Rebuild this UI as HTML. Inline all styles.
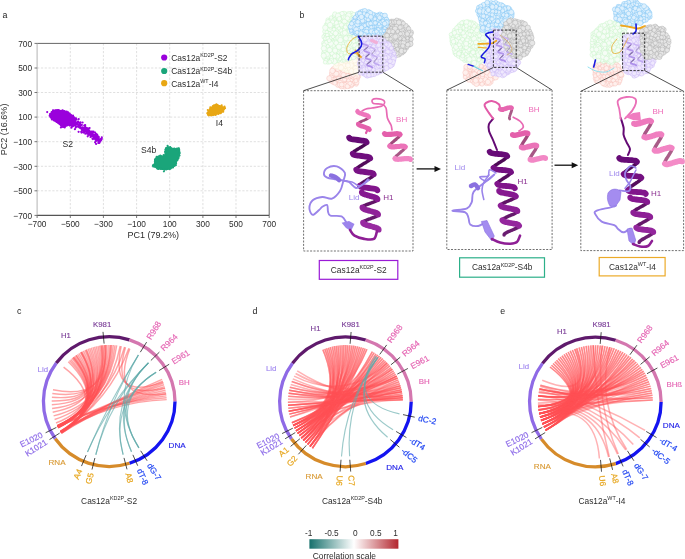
<!DOCTYPE html>
<html><head><meta charset="utf-8"><style>
html,body{margin:0;padding:0;background:#fff;}
svg{display:block;filter:blur(0.4px);}
text{font-family:"Liberation Sans",sans-serif;}
.g{stroke:#d2d2d2;stroke-width:0.7;stroke-dasharray:2.2 1.6;}
.r{stroke:#ff5055;stroke-opacity:0.52;stroke-width:1.45;fill:none;}
.r2{stroke:#ff5055;stroke-opacity:0.44;stroke-width:1.55;fill:none;}
.t{stroke:#5fa9a9;stroke-opacity:0.62;stroke-width:1.15;fill:none;}
</style></head><body>
<svg width="685" height="559" viewBox="0 0 685 559" fill="#2c2c2c">
<text x="2.4" y="17.5" font-size="8.8" fill="#222">a</text>
<line x1="70.3" y1="43.4" x2="70.3" y2="215.4" class="g"/>
<line x1="37.1" y1="190.8" x2="269.2" y2="190.8" class="g"/>
<line x1="103.4" y1="43.4" x2="103.4" y2="215.4" class="g"/>
<line x1="37.1" y1="166.3" x2="269.2" y2="166.3" class="g"/>
<line x1="136.6" y1="43.4" x2="136.6" y2="215.4" class="g"/>
<line x1="37.1" y1="141.7" x2="269.2" y2="141.7" class="g"/>
<line x1="169.7" y1="43.4" x2="169.7" y2="215.4" class="g"/>
<line x1="37.1" y1="117.1" x2="269.2" y2="117.1" class="g"/>
<line x1="202.9" y1="43.4" x2="202.9" y2="215.4" class="g"/>
<line x1="37.1" y1="92.5" x2="269.2" y2="92.5" class="g"/>
<line x1="236" y1="43.4" x2="236" y2="215.4" class="g"/>
<line x1="37.1" y1="68" x2="269.2" y2="68" class="g"/>
<path d="M37.1 43.4H269.2V215.4" stroke="#666" stroke-width="1" fill="none"/>
<line x1="37.1" y1="215.4" x2="269.2" y2="215.4" stroke="#555" stroke-width="1.1"/>
<line x1="37.1" y1="43.4" x2="37.1" y2="215.4" stroke="#aaa" stroke-width="0.9"/>
<line x1="37.1" y1="215.4" x2="37.1" y2="218" stroke="#555" stroke-width="0.8"/>
<line x1="34.5" y1="215.4" x2="37.1" y2="215.4" stroke="#555" stroke-width="0.8"/>
<text transform="translate(37.1,226.9) scale(0.925,1)" font-size="9" text-anchor="middle">−700</text>
<text transform="translate(32.1,218.7) scale(0.925,1)" font-size="9" text-anchor="end">−700</text>
<line x1="70.3" y1="215.4" x2="70.3" y2="218" stroke="#555" stroke-width="0.8"/>
<line x1="34.5" y1="190.8" x2="37.1" y2="190.8" stroke="#555" stroke-width="0.8"/>
<text transform="translate(70.3,226.9) scale(0.925,1)" font-size="9" text-anchor="middle">−500</text>
<text transform="translate(32.1,194.1) scale(0.925,1)" font-size="9" text-anchor="end">−500</text>
<line x1="103.4" y1="215.4" x2="103.4" y2="218" stroke="#555" stroke-width="0.8"/>
<line x1="34.5" y1="166.3" x2="37.1" y2="166.3" stroke="#555" stroke-width="0.8"/>
<text transform="translate(103.4,226.9) scale(0.925,1)" font-size="9" text-anchor="middle">−300</text>
<text transform="translate(32.1,169.6) scale(0.925,1)" font-size="9" text-anchor="end">−300</text>
<line x1="136.6" y1="215.4" x2="136.6" y2="218" stroke="#555" stroke-width="0.8"/>
<line x1="34.5" y1="141.7" x2="37.1" y2="141.7" stroke="#555" stroke-width="0.8"/>
<text transform="translate(136.6,226.9) scale(0.925,1)" font-size="9" text-anchor="middle">−100</text>
<text transform="translate(32.1,145) scale(0.925,1)" font-size="9" text-anchor="end">−100</text>
<line x1="169.7" y1="215.4" x2="169.7" y2="218" stroke="#555" stroke-width="0.8"/>
<line x1="34.5" y1="117.1" x2="37.1" y2="117.1" stroke="#555" stroke-width="0.8"/>
<text transform="translate(169.7,226.9) scale(0.925,1)" font-size="9" text-anchor="middle">100</text>
<text transform="translate(32.1,120.4) scale(0.925,1)" font-size="9" text-anchor="end">100</text>
<line x1="202.9" y1="215.4" x2="202.9" y2="218" stroke="#555" stroke-width="0.8"/>
<line x1="34.5" y1="92.5" x2="37.1" y2="92.5" stroke="#555" stroke-width="0.8"/>
<text transform="translate(202.9,226.9) scale(0.925,1)" font-size="9" text-anchor="middle">300</text>
<text transform="translate(32.1,95.8) scale(0.925,1)" font-size="9" text-anchor="end">300</text>
<line x1="236" y1="215.4" x2="236" y2="218" stroke="#555" stroke-width="0.8"/>
<line x1="34.5" y1="68" x2="37.1" y2="68" stroke="#555" stroke-width="0.8"/>
<text transform="translate(236,226.9) scale(0.925,1)" font-size="9" text-anchor="middle">500</text>
<text transform="translate(32.1,71.3) scale(0.925,1)" font-size="9" text-anchor="end">500</text>
<line x1="269.2" y1="215.4" x2="269.2" y2="218" stroke="#555" stroke-width="0.8"/>
<line x1="34.5" y1="43.4" x2="37.1" y2="43.4" stroke="#555" stroke-width="0.8"/>
<text transform="translate(269.2,226.9) scale(0.925,1)" font-size="9" text-anchor="middle">700</text>
<text transform="translate(32.1,46.7) scale(0.925,1)" font-size="9" text-anchor="end">700</text>
<text transform="translate(153.2,238) scale(0.94,1)" font-size="9.6" text-anchor="middle">PC1 (79.2%)</text>
<text transform="translate(6.8,129.4) rotate(-90) scale(0.94,1)" font-size="9.6" text-anchor="middle">PC2 (16.6%)</text>
<circle cx="164.2" cy="57.5" r="3.1" fill="#9a00dc"/>
<text transform="translate(171.3,60.6) scale(0.915,1)" font-size="9.2">Cas12a<tspan font-size="5.9" dy="-3.6">KD2P</tspan><tspan dy="3.6">-S2</tspan></text>
<circle cx="164.2" cy="71.0" r="3.1" fill="#1aa57a"/>
<text transform="translate(171.3,74.2) scale(0.915,1)" font-size="9.2">Cas12a<tspan font-size="5.9" dy="-3.6">KD2P</tspan><tspan dy="3.6">-S4b</tspan></text>
<circle cx="164.2" cy="83.2" r="3.1" fill="#e8a714"/>
<text transform="translate(171.3,86.6) scale(0.915,1)" font-size="9.2">Cas12a<tspan font-size="5.9" dy="-3.6">WT</tspan><tspan dy="3.6">-I4</tspan></text>
<path d="M50.2 113.8L53.3 110.4L58.4 110L66.6 111.8L70.7 114.3L73.7 117.2L75.3 118.9L74.2 124L71.7 126.1L69.6 125L66.1 125.8L64.5 127.4L61.5 127.2L60.4 124.7L56.3 122L52.3 119.6L50.2 117.4Z" fill="#9a00dc" stroke="#9a00dc" stroke-width="1.2" stroke-linejoin="round"/>
<path d="M50.1 114h0M51.7 112h0M53 110.3h0M55.4 110.4h0M57.1 110.2h0M58.5 110.1h0M59.4 110.7h0M61.8 110.9h0M62.7 110.4h0M64.6 111.2h0M66.7 111.7h0M68.1 112.4h0M69.4 113.6h0M70.4 114.9h0M72.4 116.2h0M73.5 116.9h0M75.1 118.9h0M75.1 120.7h0M74.4 122h0M74.1 124.4h0M72.7 125.1h0M71.8 125.5h0M69.7 125.5h0M67.1 125.3h0M66 125.5h0M64.7 127.4h0M60.9 127.5h0M60.7 125.1h0M59.6 123.9h0M57.8 122.4h0M56.6 121.8h0M54.1 120.4h0M51.9 119.4h0M50.7 116.7h0M49.7 115.7h0M47.2 112.1h0M69.8 125.6h0" stroke="#9a00dc" stroke-width="2.2" stroke-linecap="round" fill="none"/>
<path d="M84.9 128.6h0M95.6 139.7h0M96.9 140.3h0M88.1 134h0M93.7 132.2h0M75 122.5h0M84.1 132h0M95.7 134.2h0M74.1 120.5h0M93 134.4h0M78.2 125.2h0M95 137.7h0M96.4 139.6h0M84 131.5h0M97.3 140.4h0M76 118.3h0M75.7 124.2h0M86.2 131.5h0M84.1 131.4h0M82.6 127.3h0M87.6 132.8h0M98.6 141.7h0M88.4 133.1h0M100.3 141.6h0M91 135.6h0M87.9 133.9h0M92.3 131.6h0M74.8 118.8h0M89.3 130.3h0M100.7 140.5h0M95.6 135.9h0M77.8 122.2h0M73.1 120.4h0M92.5 138.7h0M96.8 134.5h0M77.5 124.3h0M75.8 125.8h0M80.6 128.2h0M90.1 135.1h0M74.9 129.2h0M71.4 127.7h0M88.4 132.9h0M78.1 121.7h0M100.4 139.8h0M87.2 131.8h0M87.3 131h0M84.1 128.1h0M81.2 128.2h0M91.3 135.2h0M85.1 130.3h0M86 131.7h0M72.2 121.1h0M70 120.2h0M88 130.6h0M83.4 131.5h0M96.1 144h0M98.7 136.9h0M86.2 131.3h0M90.8 131.9h0M92.4 134.8h0M93 132.7h0M88.4 135h0M80.8 128.1h0M95.3 136.9h0M95.8 140.1h0M89.3 131.8h0M71.8 121.5h0M74.6 124.5h0M84.8 129h0M95.5 134.8h0M68.3 121.6h0M98.3 143h0M74 120.6h0M94.1 136.5h0M71.6 124.5h0M101.8 138.9h0M85.6 127.7h0M89.8 133.1h0M85.9 130.9h0M98.8 140.4h0M94.1 137.6h0M96.9 136.9h0M72.3 120h0M92.8 139.1h0M95.7 141.4h0M98 139.8h0M80.2 126h0M87 128.1h0M82.3 128.1h0M85.3 127.5h0M83.4 129.3h0M79.6 127.2h0M75.9 122.5h0M74.9 120.9h0M85.2 126.7h0M97.3 138.3h0M87 130.8h0M89.6 128h0M78.9 127.1h0M73.1 120.9h0M86.4 130.9h0M98 140h0M73.3 125.3h0M101.2 140.1h0M98.1 137.8h0M92.2 133.4h0M80.7 125.2h0M87.7 133.8h0M70.4 119.1h0M83.3 131.1h0M97.9 139h0M76.5 119.6h0M78.7 122.7h0M81.8 124.9h0M98.2 140.3h0M94.3 135.8h0M74.1 122.5h0M98 139h0M93.5 131.5h0M99.3 142.9h0M83.5 132.6h0M84.2 125.5h0M101.8 137.4h0M99.2 141.3h0M96.5 138.9h0M78.7 119.1h0M87.6 128.8h0M73.1 126.1h0M87.9 132.7h0M78.2 126.2h0M73.4 117.1h0M83.7 129.5h0M74.6 124.2h0M76.7 122.3h0M86.4 133.3h0M98.2 140.1h0M100.6 139.2h0M84.5 130.9h0M87.7 136.3h0M86.6 130.4h0M99.6 139.8h0M74.7 125.4h0M79 126.5h0M71.2 118.4h0M79.7 126h0M88.6 134.4h0M91.5 131.5h0M85.3 133.7h0M76.3 123.9h0M96 137.2h0M87.3 131.1h0M91.9 133.6h0M73.2 118.3h0M97.6 136.2h0M98.8 137.8h0M95.1 142.3h0M80.8 124.5h0M96.4 134.2h0M71 123.7h0M91.2 134.2h0M81.5 132.6h0M81.8 129h0M89.2 133.9h0M81.8 130.1h0M78.6 131.8h0M99 140.9h0M71 119.6h0M74.4 120.5h0M89.8 131.5h0M99.8 141.4h0M86.5 130.1h0M92.4 136.1h0M85.2 128.4h0M93.7 134.8h0M90.6 134.2h0M88.9 130.8h0M75 118.3h0M91.4 136.4h0M88.8 131.1h0M90.2 132.6h0M99.3 139.5h0M78.9 125.1h0M100 139.5h0M72.6 126.3h0M87.3 128.4h0M95.5 134.2h0M72.9 125.3h0M82.6 122.5h0M80.4 125h0M100.4 140h0M88.6 132.6h0M85.2 125.2h0M83.3 130h0M94.5 138.7h0M71.5 121.3h0M80 123.9h0M71.6 120.1h0M72.1 121.6h0M93 136.2h0M81.7 127.6h0M99.9 140.4h0M88.5 128.7h0M78.8 125h0M75.8 127.4h0M74 125.4h0M76 119.5h0M96.4 135.4h0M94.8 137.8h0M97.2 134.7h0M71.6 122.3h0M85.1 128.4h0M81.2 131.9h0M89.9 132.7h0M72.9 125.4h0M77.5 126.6h0M73.9 121.8h0M97.8 138.3h0M71.5 121.4h0M92.3 134h0M85.8 128.4h0M89.6 134.2h0M80.4 122.3h0M88.3 130.1h0M68.9 119.8h0M95.2 132.6h0M99.5 139.6h0M79.6 127.7h0M71.2 122.7h0M73 115.5h0M90.5 137h0" stroke="#9a00dc" stroke-width="2.2" stroke-linecap="round" fill="none"/>
<path d="M165.6 148.1L168.3 146.8L171.8 148.1L176.2 149L178.3 148.1L179.7 151.2L179.2 156L177.9 159.5L176.2 161.3L175.7 164.8L172.7 167.4L169.2 169.2L164.8 169.6L160.4 169.2L156.9 168.3L154.3 166.5L153 165.2L154.7 163.9L154.7 159.5L156.9 156.9L160.4 155.6L163 156L165.6 155.1L165.2 151.6Z" fill="#1aa57a" stroke="#1aa57a" stroke-width="1.2" stroke-linejoin="round"/>
<path d="M166.2 148.3h0M167.6 145.9h0M170.2 147.2h0M171.4 148.5h0M174.4 148.6h0M176.2 149.2h0M178.9 148.4h0M179.2 149.9h0M179.1 151.6h0M179.8 153h0M178.7 154.2h0M179.5 155.4h0M178.5 158.1h0M177.4 160.1h0M176.3 161.2h0M176.1 163.2h0M175.8 165.2h0M174 165.9h0M173 167.4h0M170.6 168.6h0M169.7 169h0M166.5 169.3h0M164.7 169.5h0M163.1 169h0M160.8 168.7h0M158.4 168.9h0M157.3 168.6h0M154.4 166.6h0M153 165.4h0M154.6 164h0M154.9 161.7h0M155 159.7h0M156.5 158.3h0M156.7 156.8h0M158.6 156.6h0M160.3 155.7h0M163.7 155.1h0M165.3 155.2h0M165.6 153.5h0M165.1 151.9h0M165.5 149.7h0M163.9 171.3h0M153.2 166.4h0M160 156.5h0M177 148.5h0" stroke="#1aa57a" stroke-width="2.2" stroke-linecap="round" fill="none"/>
<path d="M206.9 113.2L208.8 110.6L211.3 107.5L213.8 105.3L216.3 104.1L218.2 105.3L221.3 106.3L224.1 107.2L224.7 108.8L223.2 111.3L220.7 113.2L218.2 113.8L215.7 114.4L213.2 115L210.6 115.7L208.1 115.3Z" fill="#e8a714" stroke="#e8a714" stroke-width="1.2" stroke-linejoin="round"/>
<path d="M207.7 113.3h0M208.6 110.6h0M209.9 109.1h0M210.3 107.3h0M212.9 106h0M213.8 105.7h0M216.6 104.6h0M217.6 105.2h0M219.6 106h0M221.7 105.3h0M224.5 106.7h0M225 108.2h0M223.2 111.7h0M220.6 113.2h0M218.4 113.8h0M215.6 114.9h0M213.5 114.9h0M211.6 115.3h0M208.5 115.3h0M207.8 110h0" stroke="#e8a714" stroke-width="2.2" stroke-linecap="round" fill="none"/>
<text x="62.5" y="147" font-size="8.6">S2</text>
<text x="141" y="152.6" font-size="8.6">S4b</text>
<text x="215.8" y="125.8" font-size="8.6">I4</text>
<defs><pattern id="pg" width="7" height="7" patternUnits="userSpaceOnUse"><rect width="7" height="7" fill="#f6fef6"/><path d="M0.5 2.2C1.5 0.6 3.2 0.8 3.6 2.4S2.4 4.6 1.2 3.8M4 5.2c1-1.4 2.6-1.2 2.8 0.2S5.6 7 4.6 6.4M5 0.8c0.8-0.5 1.6 0 1.4 0.9M0.3 5.6c0.8 0.2 1.2 1 0.8 1.4" fill="none" stroke="#a9eaa9" stroke-width="0.5"/></pattern><pattern id="pb" width="7" height="7" patternUnits="userSpaceOnUse"><rect width="7" height="7" fill="#e6f4fe"/><path d="M0.5 2.2C1.5 0.6 3.2 0.8 3.6 2.4S2.4 4.6 1.2 3.8M4 5.2c1-1.4 2.6-1.2 2.8 0.2S5.6 7 4.6 6.4M5 0.8c0.8-0.5 1.6 0 1.4 0.9M0.3 5.6c0.8 0.2 1.2 1 0.8 1.4" fill="none" stroke="#6ab9f1" stroke-width="0.5"/></pattern><pattern id="pk" width="7" height="7" patternUnits="userSpaceOnUse"><rect width="7" height="7" fill="#f6f6f6"/><path d="M0.5 2.2C1.5 0.6 3.2 0.8 3.6 2.4S2.4 4.6 1.2 3.8M4 5.2c1-1.4 2.6-1.2 2.8 0.2S5.6 7 4.6 6.4M5 0.8c0.8-0.5 1.6 0 1.4 0.9M0.3 5.6c0.8 0.2 1.2 1 0.8 1.4" fill="none" stroke="#c2c2c2" stroke-width="0.5"/></pattern><pattern id="pl" width="7" height="7" patternUnits="userSpaceOnUse"><rect width="7" height="7" fill="#f2edfd"/><path d="M0.5 2.2C1.5 0.6 3.2 0.8 3.6 2.4S2.4 4.6 1.2 3.8M4 5.2c1-1.4 2.6-1.2 2.8 0.2S5.6 7 4.6 6.4M5 0.8c0.8-0.5 1.6 0 1.4 0.9M0.3 5.6c0.8 0.2 1.2 1 0.8 1.4" fill="none" stroke="#bea6f3" stroke-width="0.5"/></pattern><pattern id="ps" width="7" height="7" patternUnits="userSpaceOnUse"><rect width="7" height="7" fill="#fff1ef"/><path d="M0.5 2.2C1.5 0.6 3.2 0.8 3.6 2.4S2.4 4.6 1.2 3.8M4 5.2c1-1.4 2.6-1.2 2.8 0.2S5.6 7 4.6 6.4M5 0.8c0.8-0.5 1.6 0 1.4 0.9M0.3 5.6c0.8 0.2 1.2 1 0.8 1.4" fill="none" stroke="#f4ada3" stroke-width="0.5"/></pattern><pattern id="pc" width="7" height="7" patternUnits="userSpaceOnUse"><rect width="7" height="7" fill="#fffcf5"/><path d="M0.5 2.2C1.5 0.6 3.2 0.8 3.6 2.4S2.4 4.6 1.2 3.8M4 5.2c1-1.4 2.6-1.2 2.8 0.2S5.6 7 4.6 6.4M5 0.8c0.8-0.5 1.6 0 1.4 0.9M0.3 5.6c0.8 0.2 1.2 1 0.8 1.4" fill="none" stroke="#f6ead2" stroke-width="0.5"/></pattern><filter id="bump" x="-10%" y="-10%" width="120%" height="120%"><feTurbulence type="fractalNoise" baseFrequency="0.45" numOctaves="1" seed="4" result="n"/><feDisplacementMap in="SourceGraphic" in2="n" scale="3.5" xChannelSelector="R" yChannelSelector="G"/></filter></defs>
<text x="299.6" y="17.5" font-size="8.8">b</text>
<g fill="#fff0ed" stroke="#f6bab1" stroke-width="0.42"><circle cx="337" cy="70.6" r="2.4"/><circle cx="349.2" cy="84.8" r="1.8"/><circle cx="341.4" cy="66.4" r="1.9"/><circle cx="344" cy="66.4" r="1.9"/><circle cx="348.4" cy="77.4" r="1.9"/><circle cx="346.5" cy="83" r="1.7"/><circle cx="353.1" cy="80.7" r="2"/><circle cx="338.8" cy="67.8" r="1.8"/><circle cx="354.4" cy="78.7" r="2.5"/><circle cx="350.8" cy="77.2" r="2.7"/><circle cx="340.1" cy="77.6" r="2.5"/><circle cx="346.2" cy="80.8" r="1.7"/><circle cx="335.5" cy="72" r="1.8"/><circle cx="337.1" cy="79.3" r="2.1"/><circle cx="339.9" cy="70.3" r="2"/><circle cx="357.1" cy="79.6" r="2.3"/><circle cx="333.8" cy="81.3" r="1.9"/><circle cx="352.2" cy="70.7" r="1.7"/><circle cx="348.5" cy="74.2" r="2.6"/><circle cx="342.5" cy="71.4" r="1.9"/><circle cx="345.7" cy="71.4" r="2.3"/><circle cx="355.9" cy="74.3" r="1.9"/><circle cx="358.9" cy="76.7" r="1.8"/><circle cx="344.7" cy="86.5" r="2.6"/><circle cx="332" cy="75.1" r="2.2"/><circle cx="336.6" cy="76.5" r="1.9"/><circle cx="356.3" cy="84.3" r="2"/><circle cx="345" cy="82.4" r="2.2"/><circle cx="343" cy="77.5" r="2"/><circle cx="335" cy="77.3" r="2.4"/><circle cx="330.8" cy="79.2" r="1.9"/><circle cx="348.9" cy="70.4" r="1.8"/><circle cx="357" cy="78" r="2.2"/><circle cx="352.5" cy="83" r="1.9"/><circle cx="341.5" cy="75.7" r="2.4"/><circle cx="349.1" cy="86.8" r="1.8"/><circle cx="340.8" cy="73" r="2.6"/><circle cx="333.7" cy="76.1" r="1.9"/><circle cx="336.7" cy="82.5" r="2.2"/><circle cx="341.5" cy="86.2" r="2.7"/><circle cx="333.3" cy="72.1" r="2.7"/><circle cx="346.2" cy="77.3" r="2.4"/><circle cx="343.9" cy="84" r="1.9"/><circle cx="340.6" cy="80.1" r="2"/><circle cx="338.2" cy="81.8" r="1.8"/><circle cx="350" cy="78.8" r="2.7"/><circle cx="353.4" cy="72.2" r="2.4"/><circle cx="334.8" cy="79.3" r="2"/><circle cx="338" cy="84.9" r="2.5"/><circle cx="347.5" cy="69.1" r="2.6"/><circle cx="353.2" cy="84.6" r="1.7"/><circle cx="351" cy="72.9" r="2.6"/><circle cx="336.3" cy="80.9" r="1.7"/><circle cx="350.5" cy="81.6" r="2.4"/><circle cx="338" cy="74.5" r="2.1"/><circle cx="347.3" cy="72.2" r="2.2"/><circle cx="331.2" cy="76.8" r="2.3"/><circle cx="351.4" cy="80.1" r="1.9"/><circle cx="342.5" cy="82.9" r="2.4"/><circle cx="345.3" cy="84.9" r="2.4"/><circle cx="345" cy="68.7" r="1.9"/><circle cx="345.1" cy="74.7" r="1.9"/><circle cx="354.6" cy="82.1" r="2.1"/><circle cx="335.3" cy="75.1" r="1.7"/><circle cx="338.8" cy="80.3" r="2.1"/><circle cx="332.5" cy="79.1" r="1.7"/><circle cx="348.4" cy="82.4" r="2.4"/><circle cx="351.5" cy="86" r="1.9"/><circle cx="344" cy="73.1" r="2.5"/><circle cx="353.2" cy="77.3" r="2.2"/><circle cx="341.8" cy="81.4" r="2"/><circle cx="334.1" cy="70.3" r="2.5"/><circle cx="331.2" cy="81.1" r="2.2"/><circle cx="342" cy="69.7" r="1.8"/><circle cx="357.2" cy="76" r="2.5"/><circle cx="356.7" cy="82.6" r="2.3"/><circle cx="342.9" cy="79.7" r="2.6"/><circle cx="331.4" cy="73.2" r="2"/><circle cx="334.3" cy="73.5" r="2.5"/><circle cx="349.8" cy="68.4" r="2.7"/><circle cx="337.2" cy="72.2" r="2.3"/><circle cx="336" cy="68.5" r="2.3"/><circle cx="355" cy="72.8" r="1.8"/><circle cx="355" cy="76.9" r="2.2"/><circle cx="351.4" cy="84.3" r="2.4"/><circle cx="347.3" cy="79.5" r="1.7"/><circle cx="350.2" cy="74.7" r="1.8"/><circle cx="351.7" cy="75.4" r="2.6"/><circle cx="340.1" cy="82.7" r="2.5"/><circle cx="344.6" cy="79.6" r="2.1"/><circle cx="342.5" cy="68.2" r="2.6"/><circle cx="339.8" cy="84.7" r="2.4"/><circle cx="332.8" cy="82.6" r="1.7"/><circle cx="344.8" cy="76.5" r="1.9"/><circle cx="349.4" cy="72.1" r="1.8"/><circle cx="338.6" cy="78.1" r="2"/><circle cx="341.7" cy="84.6" r="2.4"/><circle cx="348.5" cy="80.6" r="1.8"/><circle cx="355.8" cy="80.8" r="2"/><circle cx="345.8" cy="67.1" r="2.2"/><circle cx="353.2" cy="74.7" r="2.5"/><circle cx="339.9" cy="74.6" r="2.3"/><circle cx="338.6" cy="72.9" r="2.5"/><circle cx="340.5" cy="68.2" r="2.3"/><circle cx="342.2" cy="74.1" r="2.5"/><circle cx="336.2" cy="73.7" r="2.6"/><circle cx="334.8" cy="83" r="2.2"/><circle cx="347.5" cy="75.7" r="2.3"/><circle cx="329.3" cy="78.3" r="2.6"/><circle cx="337.7" cy="69" r="2.5"/><circle cx="343.7" cy="70.2" r="2.6"/><circle cx="333.6" cy="68.8" r="2.4"/><circle cx="351.4" cy="69.2" r="2"/><circle cx="347.5" cy="86.2" r="2.4"/><circle cx="332.4" cy="70.8" r="2.7"/><circle cx="350" cy="83.3" r="2.1"/><circle cx="343.5" cy="75.1" r="2.5"/></g>
<g fill="#fffbf3" stroke="#f6ead2" stroke-width="0.42"><circle cx="356.3" cy="69.7" r="2.2"/><circle cx="357.3" cy="63.6" r="2.3"/><circle cx="353.7" cy="62" r="2.3"/><circle cx="338.1" cy="63.2" r="2.5"/><circle cx="352.8" cy="57.5" r="1.7"/><circle cx="346" cy="57.8" r="2.4"/><circle cx="359.3" cy="66.6" r="2.1"/><circle cx="338.2" cy="66.7" r="2.4"/><circle cx="339.6" cy="57.9" r="2.4"/><circle cx="351.4" cy="63.8" r="1.8"/><circle cx="350.1" cy="60.2" r="2.2"/><circle cx="357" cy="67.3" r="2.2"/><circle cx="353.6" cy="71.5" r="1.8"/><circle cx="354.2" cy="56.6" r="1.9"/><circle cx="340.4" cy="65.8" r="2.5"/><circle cx="356.8" cy="58.4" r="2.5"/><circle cx="347.1" cy="70.2" r="2.7"/><circle cx="361.4" cy="65.5" r="1.8"/><circle cx="355.9" cy="65.9" r="2"/><circle cx="346.8" cy="67.9" r="2.3"/><circle cx="349.6" cy="62.2" r="2.6"/><circle cx="340.7" cy="64" r="2.7"/><circle cx="352.3" cy="69.7" r="2"/><circle cx="339.1" cy="64.6" r="1.8"/><circle cx="345.4" cy="69.2" r="2.2"/><circle cx="353.1" cy="59.5" r="1.9"/><circle cx="343.4" cy="62.7" r="2"/><circle cx="356.3" cy="60.5" r="1.8"/><circle cx="348.2" cy="63.7" r="2.6"/><circle cx="347.8" cy="61.7" r="1.8"/><circle cx="340.5" cy="60.9" r="2.6"/><circle cx="352.6" cy="66.2" r="1.9"/><circle cx="343.3" cy="68.6" r="2.4"/><circle cx="342.4" cy="60.5" r="2.3"/><circle cx="356" cy="54.7" r="2.2"/><circle cx="342.3" cy="65.2" r="1.7"/><circle cx="355" cy="73" r="1.8"/><circle cx="343.7" cy="67" r="1.8"/><circle cx="358.7" cy="62.1" r="2.5"/><circle cx="345.6" cy="63.3" r="2.3"/><circle cx="350.1" cy="69.9" r="2.5"/><circle cx="345.5" cy="66.4" r="2.1"/><circle cx="349.7" cy="56.5" r="2.4"/><circle cx="353.6" cy="64.7" r="2"/><circle cx="338.8" cy="59.5" r="2.4"/><circle cx="349.5" cy="66.5" r="2"/><circle cx="351.4" cy="67.9" r="2.5"/><circle cx="347.6" cy="60.1" r="1.8"/><circle cx="347.9" cy="57.3" r="2.6"/><circle cx="354" cy="67.3" r="1.9"/><circle cx="342.8" cy="57.7" r="2.3"/><circle cx="344.9" cy="61.5" r="2.2"/><circle cx="351.2" cy="58.4" r="2.6"/><circle cx="345.7" cy="59.7" r="2.1"/><circle cx="356.9" cy="73.4" r="2.1"/><circle cx="351.3" cy="55.7" r="1.9"/><circle cx="343.9" cy="65.2" r="2.2"/><circle cx="358.7" cy="70.5" r="2.4"/><circle cx="354" cy="69.7" r="1.8"/><circle cx="349" cy="68.6" r="1.9"/><circle cx="351.7" cy="62.1" r="2.2"/><circle cx="358.4" cy="64.9" r="2.7"/><circle cx="341.3" cy="62.2" r="2.5"/><circle cx="360.5" cy="68.5" r="1.8"/><circle cx="355.9" cy="62.1" r="1.7"/><circle cx="360.5" cy="63.4" r="2.1"/><circle cx="356.6" cy="56.7" r="2.1"/><circle cx="343.5" cy="59.2" r="2.3"/><circle cx="337.5" cy="60.7" r="1.9"/><circle cx="354.1" cy="54.4" r="2"/><circle cx="357.5" cy="71.9" r="1.7"/><circle cx="344.7" cy="56.8" r="2.5"/><circle cx="350.9" cy="65.3" r="2.6"/><circle cx="358.4" cy="60.3" r="2"/><circle cx="352.9" cy="55.6" r="1.7"/><circle cx="354.7" cy="58.7" r="2.2"/><circle cx="341" cy="67.6" r="2.7"/><circle cx="351.8" cy="71.3" r="2.7"/><circle cx="348" cy="65.5" r="2.4"/><circle cx="355.5" cy="63.7" r="1.8"/><circle cx="358.8" cy="68.6" r="1.8"/><circle cx="336.2" cy="66.1" r="2.7"/><circle cx="355.4" cy="68.3" r="2.4"/><circle cx="354.6" cy="60.5" r="2.5"/><circle cx="355.9" cy="71.3" r="2.7"/><circle cx="336.6" cy="64.2" r="1.9"/><circle cx="341.2" cy="59" r="2.1"/></g>
<g fill="#f6fdf6" stroke="#c4f2c4" stroke-width="0.42"><circle cx="333.8" cy="39.3" r="2"/><circle cx="340.2" cy="21.2" r="2.6"/><circle cx="337.3" cy="45.4" r="2.7"/><circle cx="345.9" cy="19.6" r="2.3"/><circle cx="335.2" cy="25.1" r="2.3"/><circle cx="340.5" cy="17.2" r="2.1"/><circle cx="350.4" cy="57" r="2.4"/><circle cx="343.5" cy="55.9" r="2.6"/><circle cx="329.2" cy="31.1" r="2.6"/><circle cx="329.7" cy="59.6" r="2.6"/><circle cx="335.1" cy="27.3" r="2.6"/><circle cx="330.9" cy="35.8" r="1.9"/><circle cx="345.3" cy="29.2" r="2.6"/><circle cx="329.1" cy="35.8" r="2.7"/><circle cx="348" cy="56.1" r="2.7"/><circle cx="354.8" cy="16.1" r="2.1"/><circle cx="332.8" cy="48.5" r="1.8"/><circle cx="351.6" cy="45.1" r="2.2"/><circle cx="324.2" cy="36.7" r="2.4"/><circle cx="334" cy="32.6" r="2.5"/><circle cx="351.4" cy="30.8" r="2.4"/><circle cx="342" cy="45.2" r="2.1"/><circle cx="327.8" cy="19.9" r="2"/><circle cx="353.4" cy="50.4" r="1.8"/><circle cx="329.5" cy="33.3" r="2"/><circle cx="356.6" cy="52.5" r="1.9"/><circle cx="326.8" cy="44.8" r="1.8"/><circle cx="356.1" cy="37.3" r="1.9"/><circle cx="332.8" cy="27.4" r="2.1"/><circle cx="352" cy="47.7" r="2.3"/><circle cx="345" cy="50.8" r="1.8"/><circle cx="333.8" cy="23.7" r="2.1"/><circle cx="357.8" cy="20.5" r="2.3"/><circle cx="340.6" cy="34.7" r="2"/><circle cx="328.6" cy="27.3" r="2.1"/><circle cx="346.5" cy="14" r="1.9"/><circle cx="334.4" cy="41.9" r="2"/><circle cx="349.6" cy="50" r="2.7"/><circle cx="338.1" cy="43.6" r="1.9"/><circle cx="335.9" cy="20.4" r="2.6"/><circle cx="329.5" cy="39" r="1.9"/><circle cx="357.9" cy="29.8" r="2"/><circle cx="351.7" cy="52.2" r="2.3"/><circle cx="336.3" cy="35.7" r="2.6"/><circle cx="356.4" cy="54.8" r="2.5"/><circle cx="351.9" cy="38.9" r="1.9"/><circle cx="330.7" cy="45.9" r="2.1"/><circle cx="326.9" cy="29.1" r="1.8"/><circle cx="343.5" cy="39.4" r="2.4"/><circle cx="325.3" cy="41" r="1.9"/><circle cx="348.5" cy="45.3" r="1.9"/><circle cx="348.5" cy="35.5" r="1.7"/><circle cx="345.5" cy="40.3" r="1.8"/><circle cx="330.2" cy="54.3" r="1.8"/><circle cx="344.7" cy="41.8" r="2.2"/><circle cx="342.9" cy="51.8" r="2"/><circle cx="346.4" cy="22.5" r="1.8"/><circle cx="343.1" cy="23.4" r="2.2"/><circle cx="354.7" cy="18.2" r="2.6"/><circle cx="351.7" cy="22.4" r="2.5"/><circle cx="345.7" cy="35.5" r="1.7"/><circle cx="350.8" cy="42.8" r="2.2"/><circle cx="342.1" cy="60.4" r="2"/><circle cx="355" cy="25.1" r="2"/><circle cx="343.8" cy="28.1" r="2.1"/><circle cx="341.1" cy="28.6" r="2.7"/><circle cx="325.7" cy="34.3" r="2"/><circle cx="330" cy="51.7" r="2.5"/><circle cx="331.1" cy="37.8" r="2"/><circle cx="342.7" cy="17.8" r="2"/><circle cx="354.4" cy="43.2" r="1.9"/><circle cx="347.2" cy="52.2" r="2.5"/><circle cx="333.1" cy="59.4" r="2.2"/><circle cx="354.6" cy="27.8" r="1.8"/><circle cx="335.5" cy="30.4" r="2.4"/><circle cx="337.7" cy="33.5" r="2.5"/><circle cx="336.2" cy="53" r="2.7"/><circle cx="351.3" cy="13.6" r="2.4"/><circle cx="330.9" cy="48.6" r="2"/><circle cx="336.9" cy="28.8" r="2.5"/><circle cx="330.6" cy="23.4" r="2.2"/><circle cx="332.2" cy="28.9" r="2.2"/><circle cx="347.4" cy="47.1" r="2.6"/><circle cx="341.1" cy="26.7" r="2.3"/><circle cx="337" cy="17.7" r="2.3"/><circle cx="357" cy="18.2" r="1.8"/><circle cx="350.7" cy="28.9" r="2.5"/><circle cx="338.4" cy="20.2" r="1.9"/><circle cx="326.5" cy="24.9" r="2.3"/><circle cx="351.1" cy="25.7" r="2.2"/><circle cx="351.5" cy="16" r="2.5"/><circle cx="339.6" cy="57" r="1.9"/><circle cx="335.5" cy="46.6" r="2.4"/><circle cx="341.1" cy="15" r="2.2"/><circle cx="341.3" cy="41.5" r="2.3"/><circle cx="350.1" cy="41" r="2.7"/><circle cx="352.4" cy="55.1" r="1.8"/><circle cx="357" cy="43.2" r="2.7"/><circle cx="339" cy="26.5" r="2.2"/><circle cx="355.4" cy="49.7" r="2.4"/><circle cx="335.7" cy="39.1" r="2.4"/><circle cx="353.2" cy="34.3" r="1.7"/><circle cx="331.5" cy="34" r="2"/><circle cx="355.4" cy="56.1" r="1.9"/><circle cx="345.3" cy="55" r="2.5"/><circle cx="331.2" cy="30.4" r="1.8"/><circle cx="356.1" cy="34.7" r="2.5"/><circle cx="337.9" cy="22.9" r="2.1"/><circle cx="353" cy="17.3" r="1.9"/><circle cx="327.7" cy="50.6" r="1.8"/><circle cx="332.6" cy="18.2" r="2.2"/><circle cx="323.6" cy="52.9" r="2.1"/><circle cx="354.6" cy="30.4" r="2.6"/><circle cx="346.8" cy="32.2" r="2.2"/><circle cx="358" cy="26.4" r="2.3"/><circle cx="332.4" cy="40.9" r="1.8"/><circle cx="329" cy="47.5" r="2.5"/><circle cx="325.5" cy="52.9" r="2.6"/><circle cx="358.5" cy="49.8" r="2.5"/><circle cx="329.9" cy="56.7" r="1.8"/><circle cx="334.5" cy="44" r="2.6"/><circle cx="325" cy="31.5" r="2.3"/><circle cx="342.5" cy="20.5" r="1.7"/><circle cx="354.5" cy="39.5" r="1.8"/><circle cx="345.3" cy="44.6" r="2"/><circle cx="328" cy="59.9" r="1.9"/><circle cx="347.7" cy="38.7" r="2.3"/><circle cx="347.4" cy="41.7" r="2.6"/><circle cx="324.5" cy="58.1" r="2.1"/><circle cx="329.9" cy="19.8" r="1.7"/><circle cx="352.3" cy="20.7" r="2"/><circle cx="344.2" cy="36.9" r="2"/><circle cx="346.2" cy="53.6" r="2.3"/><circle cx="339.8" cy="23.4" r="2.3"/><circle cx="333.5" cy="51.2" r="2.6"/><circle cx="335.6" cy="57.4" r="2"/><circle cx="352.8" cy="37.1" r="2.2"/><circle cx="327.9" cy="24" r="2.2"/><circle cx="327.4" cy="40.2" r="2"/><circle cx="326.3" cy="56.1" r="2.2"/><circle cx="337.8" cy="59.9" r="2.7"/><circle cx="342.7" cy="31.4" r="1.8"/><circle cx="329.3" cy="44.4" r="2.3"/><circle cx="358.3" cy="15.6" r="2.1"/><circle cx="328.5" cy="53.9" r="2.5"/><circle cx="332.1" cy="52.1" r="2.3"/><circle cx="334.7" cy="17.8" r="2.3"/><circle cx="350.4" cy="35.4" r="1.8"/><circle cx="355.3" cy="47.3" r="2.5"/><circle cx="351" cy="23.9" r="1.8"/><circle cx="338.6" cy="54.6" r="2.7"/><circle cx="352.7" cy="24.8" r="2.2"/><circle cx="344.8" cy="52.4" r="2.7"/><circle cx="344.3" cy="18.5" r="2.5"/><circle cx="337.7" cy="50" r="2"/><circle cx="344" cy="13.8" r="2.6"/><circle cx="337.9" cy="30.1" r="2.5"/><circle cx="350.3" cy="54.6" r="1.9"/><circle cx="334.7" cy="37.6" r="1.9"/><circle cx="337.3" cy="25.9" r="2.4"/><circle cx="348.7" cy="22.6" r="1.8"/><circle cx="345.1" cy="56.6" r="2.1"/><circle cx="344.1" cy="16.7" r="2.7"/><circle cx="339.5" cy="14.6" r="2.2"/><circle cx="347.7" cy="26.3" r="2.2"/><circle cx="324.1" cy="43.3" r="2.5"/><circle cx="338.4" cy="40.3" r="2.3"/><circle cx="332.9" cy="31.2" r="2.6"/><circle cx="336.3" cy="60.7" r="1.8"/><circle cx="328" cy="61.8" r="2.5"/><circle cx="341.8" cy="36.5" r="2"/><circle cx="352.8" cy="42.9" r="2.4"/><circle cx="355" cy="20" r="2.4"/><circle cx="325.7" cy="48.7" r="2.3"/><circle cx="349.3" cy="37.2" r="2.4"/><circle cx="348.2" cy="28.4" r="1.7"/><circle cx="345.6" cy="48.3" r="2.1"/><circle cx="332.4" cy="42.8" r="2.5"/><circle cx="329.8" cy="21.7" r="2.3"/><circle cx="348.7" cy="19.6" r="2"/><circle cx="359.3" cy="44.4" r="2"/><circle cx="342.2" cy="57.8" r="2.2"/><circle cx="357.2" cy="40.1" r="2.1"/><circle cx="357.9" cy="28" r="2.3"/><circle cx="346.7" cy="49.7" r="2.2"/><circle cx="336.8" cy="47.7" r="2.6"/><circle cx="336.9" cy="54.7" r="1.7"/><circle cx="348.5" cy="33.5" r="2.1"/><circle cx="333.5" cy="57.8" r="2.5"/><circle cx="347.5" cy="23.8" r="2.3"/><circle cx="327.5" cy="57.9" r="2.2"/><circle cx="330" cy="29" r="2.6"/><circle cx="332.7" cy="46.8" r="2.6"/><circle cx="353.3" cy="57" r="2.7"/><circle cx="328.5" cy="42.6" r="1.7"/><circle cx="357.4" cy="51.1" r="1.9"/><circle cx="344.1" cy="60.2" r="2"/><circle cx="336.1" cy="22.7" r="2.3"/><circle cx="334" cy="15.8" r="1.9"/><circle cx="325.4" cy="47" r="2.1"/><circle cx="342.8" cy="43.7" r="1.9"/><circle cx="351.4" cy="18.6" r="1.9"/><circle cx="350.6" cy="46.9" r="2.3"/><circle cx="339.9" cy="58.8" r="1.9"/><circle cx="340.1" cy="48.3" r="2.2"/><circle cx="339.5" cy="32.1" r="2.1"/><circle cx="347.4" cy="43.7" r="2.6"/><circle cx="334.3" cy="54.4" r="2.5"/><circle cx="338" cy="51.8" r="1.9"/><circle cx="338.3" cy="36.1" r="2.6"/><circle cx="334.8" cy="59.4" r="2.3"/><circle cx="356.2" cy="22.8" r="1.9"/><circle cx="348.5" cy="58" r="2.7"/><circle cx="339.5" cy="50.5" r="1.8"/><circle cx="337.2" cy="31.6" r="1.9"/><circle cx="344.6" cy="21.7" r="2.6"/><circle cx="326.3" cy="42.9" r="2.5"/><circle cx="354.4" cy="22.2" r="2"/><circle cx="334.5" cy="35.1" r="2.1"/><circle cx="324.8" cy="50.2" r="2.5"/><circle cx="337.2" cy="58" r="2.1"/><circle cx="351.9" cy="33" r="2"/><circle cx="358.8" cy="47.7" r="2.4"/><circle cx="350.1" cy="39.2" r="2.4"/><circle cx="341.5" cy="50.9" r="2"/><circle cx="326.8" cy="32.2" r="1.8"/><circle cx="331.8" cy="56.4" r="2"/><circle cx="358.7" cy="24.1" r="2.3"/><circle cx="332" cy="53.7" r="2.2"/><circle cx="326.3" cy="37.2" r="2.3"/><circle cx="333.4" cy="19.8" r="2.5"/><circle cx="353.4" cy="45" r="2.7"/><circle cx="334.8" cy="48.8" r="2.3"/><circle cx="353.8" cy="14.3" r="2"/><circle cx="335.6" cy="33.3" r="2.5"/><circle cx="353.3" cy="53.5" r="2.1"/><circle cx="325.2" cy="54.9" r="1.9"/><circle cx="331.8" cy="20.3" r="2.6"/><circle cx="330.9" cy="41.9" r="1.7"/><circle cx="347.6" cy="59.7" r="1.8"/><circle cx="333.5" cy="45.4" r="2"/><circle cx="327.4" cy="49" r="2.2"/><circle cx="358.5" cy="22" r="2.4"/><circle cx="349" cy="52.4" r="2.4"/><circle cx="357.1" cy="45" r="2.2"/><circle cx="343" cy="46.8" r="2.6"/><circle cx="344.3" cy="25.4" r="2.3"/><circle cx="325.9" cy="60.3" r="1.9"/><circle cx="338.9" cy="42.2" r="2.2"/><circle cx="335" cy="14.2" r="2.4"/><circle cx="328" cy="55.9" r="2.5"/><circle cx="356.2" cy="27.3" r="1.9"/><circle cx="333.9" cy="29.2" r="1.8"/><circle cx="343.8" cy="34.6" r="2.1"/><circle cx="348.8" cy="13.6" r="2.2"/><circle cx="331.5" cy="25.8" r="1.8"/><circle cx="337.4" cy="56.3" r="2.4"/><circle cx="346.3" cy="25.2" r="2"/><circle cx="344" cy="30.1" r="2"/><circle cx="341.4" cy="24.9" r="2.2"/><circle cx="355.8" cy="41" r="1.7"/><circle cx="330.7" cy="43.5" r="2.7"/><circle cx="331.1" cy="17.6" r="1.8"/><circle cx="349" cy="42.8" r="2.4"/><circle cx="339.8" cy="52.8" r="2.1"/><circle cx="342" cy="13.6" r="2.2"/><circle cx="353.8" cy="41.4" r="2"/><circle cx="336.2" cy="43" r="2.4"/><circle cx="342.4" cy="33.1" r="2.2"/><circle cx="341.5" cy="53" r="1.9"/><circle cx="340.8" cy="30.3" r="1.9"/><circle cx="340.1" cy="43.8" r="2"/><circle cx="325.2" cy="38.6" r="1.8"/><circle cx="333" cy="36.8" r="1.8"/><circle cx="353" cy="29.2" r="2.4"/><circle cx="334.3" cy="61.4" r="2.7"/><circle cx="350.4" cy="33.6" r="2"/><circle cx="344.8" cy="32.9" r="2.5"/><circle cx="348.3" cy="54.1" r="2.1"/><circle cx="355.9" cy="29.2" r="1.7"/><circle cx="348.8" cy="17.4" r="2.3"/><circle cx="327.2" cy="35.1" r="1.8"/><circle cx="332.5" cy="22" r="2.2"/><circle cx="331.7" cy="58" r="2"/><circle cx="338.5" cy="37.8" r="2.7"/><circle cx="325.2" cy="62.2" r="1.9"/><circle cx="351.5" cy="50.1" r="1.8"/><circle cx="325.3" cy="27.7" r="2.7"/><circle cx="344.9" cy="58.3" r="2"/><circle cx="328" cy="21.9" r="2.3"/><circle cx="327.7" cy="46.3" r="1.8"/><circle cx="331.3" cy="60.8" r="2.3"/><circle cx="338" cy="15.8" r="2.7"/><circle cx="346.8" cy="57.3" r="2.6"/><circle cx="345.6" cy="17.3" r="2"/><circle cx="330.5" cy="27.4" r="1.8"/><circle cx="349.7" cy="31" r="2.5"/><circle cx="341.2" cy="54.7" r="1.8"/><circle cx="335.1" cy="50.6" r="2.5"/><circle cx="329.8" cy="61.9" r="2"/><circle cx="348.4" cy="15.5" r="2.6"/><circle cx="340.2" cy="37.7" r="2.1"/><circle cx="359" cy="18.6" r="2.4"/><circle cx="355" cy="45.6" r="2.5"/><circle cx="326.9" cy="54.3" r="2.6"/><circle cx="357.8" cy="31.4" r="1.8"/><circle cx="340.4" cy="40" r="2.7"/><circle cx="353.7" cy="32.6" r="2.2"/><circle cx="343.2" cy="49.5" r="2.2"/><circle cx="338.9" cy="46.8" r="2.7"/><circle cx="345.5" cy="27.1" r="2.2"/><circle cx="356" cy="32.8" r="2.1"/><circle cx="329.7" cy="50.1" r="2.6"/><circle cx="330.1" cy="25" r="2.7"/><circle cx="324.2" cy="45" r="2.2"/><circle cx="345.9" cy="38.2" r="2.5"/><circle cx="339.3" cy="18.7" r="2.2"/><circle cx="348.9" cy="24.9" r="2.3"/><circle cx="352.8" cy="27.2" r="2.6"/><circle cx="354.8" cy="54.2" r="2.4"/><circle cx="349.2" cy="26.9" r="1.9"/><circle cx="323.8" cy="48.3" r="2.6"/><circle cx="357.1" cy="47.8" r="2"/><circle cx="347.4" cy="18.2" r="2.3"/><circle cx="327.9" cy="38.4" r="2"/><circle cx="354.9" cy="52" r="2.4"/><circle cx="350" cy="58.8" r="1.8"/><circle cx="323.7" cy="55.7" r="2.6"/><circle cx="334.6" cy="56.1" r="2.3"/><circle cx="354.2" cy="36.2" r="1.9"/><circle cx="329.2" cy="40.7" r="2"/><circle cx="348.4" cy="48.6" r="1.9"/><circle cx="339" cy="28.4" r="1.7"/></g>
<g fill="#e6e6e6" stroke="#a9a9a9" stroke-width="0.42"><circle cx="385.8" cy="37.4" r="2.5"/><circle cx="399.5" cy="31.1" r="2"/><circle cx="399.7" cy="36.2" r="2.3"/><circle cx="399.9" cy="50.4" r="2.1"/><circle cx="387.1" cy="28.6" r="2.7"/><circle cx="405.4" cy="34.2" r="2.4"/><circle cx="398.2" cy="24.5" r="2.2"/><circle cx="406.6" cy="48.4" r="1.8"/><circle cx="409.4" cy="45.4" r="1.8"/><circle cx="393.5" cy="39.5" r="2.3"/><circle cx="389.7" cy="26" r="2.2"/><circle cx="405.9" cy="45.5" r="2.1"/><circle cx="390.3" cy="50.6" r="1.9"/><circle cx="398.6" cy="33.9" r="2"/><circle cx="399.1" cy="20.8" r="2.1"/><circle cx="388.9" cy="39" r="2.7"/><circle cx="410.2" cy="37.4" r="2.2"/><circle cx="406.4" cy="42" r="2.5"/><circle cx="395" cy="24.3" r="1.7"/><circle cx="393" cy="35.3" r="2.1"/><circle cx="391.3" cy="21.2" r="2.1"/><circle cx="401.2" cy="32" r="2.1"/><circle cx="394.8" cy="26.8" r="1.9"/><circle cx="397.6" cy="44.5" r="2.4"/><circle cx="402.5" cy="40.9" r="2.6"/><circle cx="392.8" cy="30" r="2.6"/><circle cx="403.6" cy="25.4" r="1.7"/><circle cx="404" cy="32.7" r="1.9"/><circle cx="396" cy="30.6" r="2.5"/><circle cx="395.4" cy="48.5" r="2.6"/><circle cx="389.5" cy="45.2" r="1.9"/><circle cx="402.2" cy="44" r="2"/><circle cx="384.2" cy="29.5" r="2.7"/><circle cx="397.5" cy="46.8" r="2.4"/><circle cx="407.7" cy="36" r="2.3"/><circle cx="384.1" cy="27.7" r="2.5"/><circle cx="394.6" cy="53.7" r="2.3"/><circle cx="399" cy="41.8" r="2.6"/><circle cx="393" cy="41.4" r="2.6"/><circle cx="411" cy="32.3" r="2.5"/><circle cx="390.3" cy="32.8" r="2.3"/><circle cx="387.5" cy="32.3" r="1.8"/><circle cx="399.8" cy="40.1" r="2.3"/><circle cx="394.8" cy="34.7" r="2.6"/><circle cx="399.1" cy="45.1" r="2.2"/><circle cx="384.6" cy="44.3" r="1.9"/><circle cx="397.1" cy="29" r="2.4"/><circle cx="391.7" cy="40.2" r="2.7"/><circle cx="383.4" cy="37" r="2.1"/><circle cx="392.8" cy="27.2" r="2.3"/><circle cx="388.6" cy="23.2" r="2.2"/><circle cx="406.1" cy="30.4" r="2.6"/><circle cx="409.2" cy="34.5" r="2.4"/><circle cx="405.4" cy="38.8" r="2.6"/><circle cx="385.9" cy="33.5" r="1.9"/><circle cx="391.4" cy="43.7" r="2.7"/><circle cx="399.4" cy="54.6" r="2.2"/><circle cx="385.8" cy="40.6" r="2.3"/><circle cx="396.7" cy="20.3" r="2.3"/><circle cx="383.3" cy="35.3" r="1.8"/><circle cx="393.2" cy="25.2" r="2.4"/><circle cx="399.2" cy="25.9" r="2.1"/><circle cx="398.4" cy="52" r="2.4"/><circle cx="397.8" cy="27" r="2.1"/><circle cx="405" cy="44.1" r="2.2"/><circle cx="398.8" cy="48.3" r="2.3"/><circle cx="398" cy="40.2" r="2.6"/><circle cx="384.9" cy="39.1" r="2.3"/><circle cx="407.5" cy="27.6" r="2.4"/><circle cx="391.3" cy="36.8" r="2"/><circle cx="403.4" cy="27.2" r="1.8"/><circle cx="404" cy="37.2" r="2.6"/><circle cx="393" cy="21.1" r="2"/><circle cx="407.1" cy="31.7" r="2.5"/><circle cx="388" cy="40.8" r="2.1"/><circle cx="404.7" cy="48.8" r="1.8"/><circle cx="397.4" cy="37.3" r="2.1"/><circle cx="394.4" cy="44.5" r="2.6"/><circle cx="394.7" cy="32.3" r="2"/><circle cx="391.6" cy="46.7" r="2"/><circle cx="402.3" cy="35.2" r="2.1"/><circle cx="389.8" cy="34.3" r="1.7"/><circle cx="403.4" cy="28.9" r="1.9"/><circle cx="402.9" cy="49.8" r="2.3"/><circle cx="397.5" cy="54.7" r="2.7"/><circle cx="401.2" cy="45.9" r="2.6"/><circle cx="392.3" cy="48.8" r="1.8"/><circle cx="399.6" cy="29" r="2"/><circle cx="409.4" cy="42.2" r="2.6"/><circle cx="410.2" cy="40.7" r="2.2"/><circle cx="389.3" cy="29.4" r="1.8"/><circle cx="405.6" cy="27.5" r="2.7"/><circle cx="391.4" cy="25" r="2.1"/><circle cx="401.9" cy="25.3" r="2.3"/><circle cx="396.4" cy="40.1" r="2.1"/><circle cx="396.8" cy="23.4" r="2.6"/><circle cx="402.4" cy="53.2" r="1.8"/><circle cx="401.4" cy="22.5" r="2.7"/><circle cx="405.7" cy="25.7" r="2.4"/><circle cx="393.5" cy="51.4" r="2.4"/><circle cx="389.5" cy="27.8" r="1.9"/><circle cx="403.3" cy="51.4" r="2.5"/><circle cx="400.8" cy="47.6" r="1.8"/><circle cx="405.8" cy="36.5" r="2"/><circle cx="408.1" cy="39.7" r="2.4"/><circle cx="411" cy="33.9" r="2.1"/><circle cx="402" cy="38.4" r="2"/><circle cx="385.9" cy="45.2" r="2.3"/><circle cx="388.6" cy="36.5" r="1.7"/><circle cx="383.7" cy="41.7" r="2.4"/><circle cx="385.9" cy="30.4" r="2.6"/><circle cx="395" cy="38.4" r="2.3"/><circle cx="387.1" cy="42.7" r="2.4"/><circle cx="410.5" cy="43.9" r="2.6"/><circle cx="402.7" cy="47.5" r="2.3"/><circle cx="400.4" cy="52.5" r="2.6"/><circle cx="388" cy="34.2" r="1.9"/><circle cx="393" cy="33.5" r="2.6"/><circle cx="408.6" cy="28.8" r="2.2"/><circle cx="391.1" cy="28.3" r="1.8"/><circle cx="399.8" cy="24" r="2.4"/><circle cx="391.3" cy="34.9" r="2"/><circle cx="411.2" cy="39.3" r="2.1"/><circle cx="385.7" cy="27.4" r="2.2"/><circle cx="396.5" cy="26" r="2.1"/><circle cx="402.5" cy="36.8" r="2.6"/><circle cx="389.9" cy="47.8" r="2.5"/><circle cx="404.4" cy="46.4" r="2.5"/><circle cx="396.5" cy="53.3" r="2.5"/><circle cx="388" cy="47.9" r="2"/><circle cx="403.3" cy="30.9" r="2"/><circle cx="406.5" cy="40.3" r="2.4"/><circle cx="394.4" cy="46.5" r="2"/><circle cx="397.3" cy="41.9" r="2.2"/><circle cx="386.2" cy="25.7" r="2.6"/><circle cx="394.8" cy="42.1" r="1.9"/><circle cx="408.9" cy="31.9" r="1.8"/><circle cx="397.2" cy="49.2" r="2.2"/><circle cx="401.7" cy="29.5" r="2.6"/><circle cx="404" cy="35" r="1.8"/><circle cx="407.2" cy="33.9" r="2.3"/><circle cx="387.9" cy="44.4" r="1.8"/><circle cx="401.7" cy="51" r="2.7"/><circle cx="389.8" cy="41.2" r="1.8"/><circle cx="385.1" cy="35.1" r="2.3"/><circle cx="395" cy="22.1" r="2.2"/><circle cx="391" cy="30.7" r="2.5"/><circle cx="396.6" cy="33.6" r="2"/><circle cx="400.5" cy="42.5" r="1.7"/><circle cx="392.2" cy="22.7" r="2.1"/><circle cx="391.7" cy="51.7" r="1.9"/><circle cx="403.2" cy="23.4" r="2.2"/><circle cx="400" cy="38.4" r="1.9"/><circle cx="392.8" cy="44.8" r="2"/><circle cx="404.4" cy="41.2" r="2.6"/><circle cx="401.7" cy="26.9" r="2.2"/><circle cx="395.1" cy="28.9" r="2.7"/><circle cx="397.5" cy="35.6" r="2.6"/><circle cx="387.5" cy="46.3" r="2.2"/><circle cx="407.1" cy="46.6" r="2"/><circle cx="390.5" cy="23.7" r="1.8"/><circle cx="383.6" cy="32.4" r="2"/><circle cx="387.4" cy="38.4" r="2.2"/><circle cx="395" cy="50.4" r="1.7"/><circle cx="407.5" cy="38.1" r="1.7"/><circle cx="404.9" cy="50.8" r="1.8"/><circle cx="407.8" cy="44.6" r="2.4"/><circle cx="389.3" cy="31.5" r="2.4"/><circle cx="397.7" cy="31.5" r="2"/><circle cx="398.9" cy="22.5" r="2.6"/><circle cx="392.9" cy="37.4" r="2.5"/><circle cx="387.9" cy="26" r="2.1"/><circle cx="402.2" cy="33.5" r="2.5"/><circle cx="392.8" cy="31.6" r="2.2"/><circle cx="400.1" cy="27.3" r="2.2"/><circle cx="403.5" cy="42.7" r="2.5"/><circle cx="389.8" cy="22" r="1.9"/><circle cx="400.5" cy="33.8" r="2"/><circle cx="387" cy="35.5" r="2.3"/><circle cx="389.4" cy="43.3" r="1.7"/><circle cx="395.4" cy="36.6" r="2.6"/><circle cx="396.2" cy="43.4" r="2.3"/><circle cx="402.8" cy="45.9" r="2.2"/><circle cx="387.2" cy="24.3" r="1.7"/><circle cx="403.9" cy="39.3" r="1.8"/><circle cx="390.6" cy="38.9" r="1.8"/><circle cx="395.3" cy="52" r="1.8"/><circle cx="396.2" cy="45.6" r="1.9"/></g>
<g fill="#def0fd" stroke="#72bdf2" stroke-width="0.42"><circle cx="352" cy="25.4" r="2.4"/><circle cx="361.9" cy="29.4" r="2.1"/><circle cx="365.1" cy="29.7" r="1.7"/><circle cx="357.4" cy="27.1" r="2.4"/><circle cx="382.2" cy="31.1" r="2.5"/><circle cx="381.1" cy="32.7" r="2.6"/><circle cx="377.3" cy="24.1" r="2.2"/><circle cx="360.1" cy="20.6" r="2"/><circle cx="357.7" cy="30.3" r="2.1"/><circle cx="367.1" cy="25.6" r="1.7"/><circle cx="379.9" cy="14.7" r="2.7"/><circle cx="370.4" cy="21.1" r="2.4"/><circle cx="374.1" cy="28.8" r="2.1"/><circle cx="382.3" cy="27.3" r="2"/><circle cx="384.8" cy="17.7" r="2.4"/><circle cx="355.4" cy="26.8" r="2.5"/><circle cx="374.7" cy="34" r="1.7"/><circle cx="354" cy="19.1" r="2.1"/><circle cx="368" cy="31.2" r="2.2"/><circle cx="376.2" cy="29.1" r="1.8"/><circle cx="383.3" cy="16.1" r="2.2"/><circle cx="369.3" cy="27.3" r="2.4"/><circle cx="360.2" cy="12" r="2.1"/><circle cx="383.9" cy="19.3" r="2.4"/><circle cx="381.6" cy="15.4" r="2.3"/><circle cx="353.8" cy="24" r="1.9"/><circle cx="361.7" cy="18.8" r="2.2"/><circle cx="369.5" cy="18.8" r="2"/><circle cx="354.1" cy="32.7" r="2.2"/><circle cx="374.9" cy="21.1" r="2.3"/><circle cx="376.3" cy="27.5" r="1.9"/><circle cx="376.6" cy="21.9" r="1.8"/><circle cx="366" cy="12.6" r="2.3"/><circle cx="381.3" cy="20.6" r="2.1"/><circle cx="375.1" cy="14.6" r="1.8"/><circle cx="383" cy="29.4" r="2.6"/><circle cx="362.5" cy="36.3" r="1.9"/><circle cx="357.1" cy="19.8" r="2.2"/><circle cx="372.2" cy="21.5" r="2.1"/><circle cx="363.8" cy="16.7" r="1.9"/><circle cx="374.8" cy="30.8" r="2.2"/><circle cx="362.6" cy="11.5" r="2.4"/><circle cx="372.9" cy="15.8" r="2.5"/><circle cx="379.9" cy="19.4" r="1.9"/><circle cx="378.6" cy="21.7" r="2.3"/><circle cx="374.5" cy="17.1" r="1.8"/><circle cx="359" cy="31.7" r="2.2"/><circle cx="357.1" cy="34.6" r="2.2"/><circle cx="358.4" cy="33.3" r="2.5"/><circle cx="367.7" cy="34.8" r="2.7"/><circle cx="368.9" cy="14" r="1.8"/><circle cx="384.9" cy="15.6" r="2.5"/><circle cx="381.3" cy="29.4" r="2"/><circle cx="386.5" cy="19.6" r="2.4"/><circle cx="366.9" cy="22.8" r="2.5"/><circle cx="375.7" cy="25.8" r="2.2"/><circle cx="365.2" cy="22.4" r="2"/><circle cx="364.2" cy="33" r="1.9"/><circle cx="373.3" cy="20.1" r="1.9"/><circle cx="381.2" cy="17.8" r="1.8"/><circle cx="363.8" cy="31.1" r="2.3"/><circle cx="381.7" cy="25.7" r="2.5"/><circle cx="359.2" cy="26.9" r="1.7"/><circle cx="350.7" cy="28.7" r="2.2"/><circle cx="352.5" cy="29.2" r="2.6"/><circle cx="371.2" cy="29.4" r="2.4"/><circle cx="372.6" cy="33.3" r="2.6"/><circle cx="369.2" cy="29.3" r="2.1"/><circle cx="383.9" cy="26.3" r="1.8"/><circle cx="355.8" cy="33.6" r="1.8"/><circle cx="366" cy="14.2" r="2.2"/><circle cx="361.7" cy="24.6" r="2"/><circle cx="378.3" cy="31.3" r="2"/><circle cx="372.3" cy="25.2" r="2"/><circle cx="357.8" cy="14.1" r="2.6"/><circle cx="365.1" cy="27.6" r="2.4"/><circle cx="357.4" cy="16.5" r="2.6"/><circle cx="351.9" cy="32.1" r="2.3"/><circle cx="352.4" cy="22.1" r="1.8"/><circle cx="376.5" cy="17.7" r="2"/><circle cx="353.3" cy="30.8" r="2.1"/><circle cx="374" cy="24.1" r="2"/><circle cx="361.4" cy="22.5" r="2.4"/><circle cx="359.6" cy="22.5" r="1.7"/><circle cx="372.9" cy="26.8" r="2"/><circle cx="355.2" cy="25.1" r="2.7"/><circle cx="365.9" cy="16.5" r="2.7"/><circle cx="377.8" cy="19.8" r="1.7"/><circle cx="382.8" cy="23.8" r="2.2"/><circle cx="370.1" cy="31.9" r="1.9"/><circle cx="385.1" cy="21.8" r="2.2"/><circle cx="355.7" cy="18.9" r="2.3"/><circle cx="370.8" cy="15.3" r="2.3"/><circle cx="361" cy="30.9" r="1.8"/><circle cx="371.6" cy="35.7" r="1.8"/><circle cx="377.2" cy="15.2" r="2"/><circle cx="385.9" cy="25.2" r="2.6"/><circle cx="363.2" cy="22.6" r="1.7"/><circle cx="354.6" cy="29.7" r="1.8"/><circle cx="355.1" cy="17.3" r="1.9"/><circle cx="374" cy="36.7" r="2.4"/><circle cx="362.3" cy="33.8" r="2.4"/><circle cx="368.7" cy="11.6" r="2.1"/><circle cx="363.7" cy="18.4" r="2.6"/><circle cx="360.1" cy="15.6" r="2"/><circle cx="356" cy="21.4" r="2.2"/><circle cx="366.4" cy="20.7" r="2"/><circle cx="361.8" cy="14.4" r="2.6"/><circle cx="380.7" cy="22.9" r="2.2"/><circle cx="379.3" cy="27.6" r="2.5"/><circle cx="367.3" cy="17.8" r="2.6"/><circle cx="371.3" cy="18.6" r="2"/><circle cx="368.6" cy="33.1" r="2.5"/><circle cx="382.9" cy="21" r="1.9"/><circle cx="361" cy="35.7" r="2"/><circle cx="378.6" cy="16.1" r="2.2"/><circle cx="351.1" cy="30.6" r="1.8"/><circle cx="364.8" cy="10.7" r="2.3"/><circle cx="378.2" cy="35.3" r="2"/><circle cx="370.1" cy="25.1" r="2.7"/><circle cx="354.1" cy="21.7" r="2.4"/><circle cx="369" cy="16.4" r="2.3"/><circle cx="363.1" cy="26.1" r="2.3"/><circle cx="369" cy="22.3" r="2.1"/><circle cx="355.5" cy="31.3" r="2.2"/><circle cx="359.2" cy="24.9" r="1.8"/><circle cx="378.4" cy="26.1" r="2"/><circle cx="380.1" cy="31.4" r="2.4"/><circle cx="372.9" cy="14.1" r="2.1"/><circle cx="366.9" cy="28.5" r="1.8"/><circle cx="376" cy="35" r="2.5"/><circle cx="364.8" cy="20.4" r="2.2"/><circle cx="359.4" cy="18.6" r="2.2"/><circle cx="355.9" cy="23.1" r="2.2"/><circle cx="387.5" cy="21" r="1.8"/><circle cx="370.2" cy="13" r="2.6"/><circle cx="358.4" cy="28.8" r="2.6"/><circle cx="379.4" cy="34" r="1.8"/><circle cx="372.7" cy="30" r="2"/><circle cx="364.9" cy="25.5" r="2"/><circle cx="386.5" cy="22.8" r="2.6"/><circle cx="361.5" cy="27.6" r="2.3"/><circle cx="353.5" cy="26.7" r="2.6"/><circle cx="357.2" cy="24.6" r="2.4"/><circle cx="366.4" cy="31.8" r="2.5"/><circle cx="365.9" cy="19" r="2"/><circle cx="368.2" cy="19.8" r="2.1"/><circle cx="378.3" cy="29.4" r="1.9"/><circle cx="359.2" cy="35.7" r="2.6"/><circle cx="365.5" cy="36.5" r="2.3"/><circle cx="384.7" cy="28.2" r="1.7"/><circle cx="364.1" cy="13.8" r="2.1"/><circle cx="365.9" cy="34.6" r="1.8"/><circle cx="356.2" cy="29.5" r="2.5"/><circle cx="362.5" cy="20.7" r="2.4"/><circle cx="370.1" cy="35" r="2.1"/><circle cx="357.9" cy="21.9" r="2.2"/><circle cx="377.4" cy="32.9" r="2.3"/><circle cx="367.4" cy="15.4" r="2.5"/><circle cx="380" cy="25.9" r="2.1"/><circle cx="374.9" cy="18.9" r="1.9"/><circle cx="364.2" cy="34.9" r="2.3"/><circle cx="379.5" cy="17.7" r="2.2"/><circle cx="368.9" cy="36.4" r="2.7"/><circle cx="373.3" cy="35" r="2"/><circle cx="379" cy="24.1" r="1.7"/><circle cx="371.6" cy="31.3" r="2.6"/><circle cx="368.4" cy="24" r="2.3"/><circle cx="384.6" cy="23.7" r="2.4"/><circle cx="372.7" cy="23.2" r="2.2"/><circle cx="359.9" cy="13.6" r="2.4"/><circle cx="361.5" cy="16.9" r="2.6"/><circle cx="350.6" cy="26.5" r="2.5"/><circle cx="351.7" cy="23.7" r="2.2"/><circle cx="370.8" cy="16.9" r="2.4"/><circle cx="374.1" cy="32.2" r="1.9"/><circle cx="375.2" cy="22.9" r="2.1"/><circle cx="371.3" cy="27.2" r="1.8"/><circle cx="383.8" cy="30.9" r="1.7"/><circle cx="360.8" cy="33.3" r="2.5"/><circle cx="376.4" cy="31.5" r="2"/><circle cx="370.6" cy="23.5" r="2"/><circle cx="357" cy="32.4" r="2"/></g>
<g fill="#efe8fd" stroke="#c6b1f5" stroke-width="0.42"><circle cx="370.8" cy="53.3" r="1.9"/><circle cx="389.3" cy="50.4" r="2"/><circle cx="373.2" cy="64.9" r="1.9"/><circle cx="383.2" cy="59.4" r="1.7"/><circle cx="375.2" cy="63.2" r="1.9"/><circle cx="373" cy="73" r="2.6"/><circle cx="389.4" cy="47.1" r="2.4"/><circle cx="360.9" cy="68.2" r="2.6"/><circle cx="360.9" cy="59.7" r="2.5"/><circle cx="363" cy="44.4" r="1.8"/><circle cx="368.5" cy="67" r="1.8"/><circle cx="365.5" cy="72.9" r="1.9"/><circle cx="382.1" cy="56.2" r="2.1"/><circle cx="373" cy="38.5" r="2.3"/><circle cx="362.1" cy="65.8" r="2.6"/><circle cx="368.8" cy="44.5" r="2.4"/><circle cx="374.9" cy="51.1" r="2.5"/><circle cx="364.1" cy="50.4" r="2.6"/><circle cx="392" cy="64.4" r="2.6"/><circle cx="379.1" cy="54.3" r="2.3"/><circle cx="383.3" cy="65.6" r="2.2"/><circle cx="379.7" cy="64.7" r="1.9"/><circle cx="388.3" cy="60.3" r="1.9"/><circle cx="382.5" cy="41" r="2"/><circle cx="368.9" cy="41.4" r="1.8"/><circle cx="384.3" cy="52.6" r="2.3"/><circle cx="365.9" cy="41.7" r="2.6"/><circle cx="374" cy="43" r="2.6"/><circle cx="360.1" cy="54.7" r="2.6"/><circle cx="364.6" cy="61.4" r="2.2"/><circle cx="370" cy="49" r="2.3"/><circle cx="369.9" cy="39.8" r="2.2"/><circle cx="380.9" cy="46.7" r="2.1"/><circle cx="391.4" cy="49.8" r="2.3"/><circle cx="362.7" cy="53.3" r="2.7"/><circle cx="363.1" cy="62.8" r="2.6"/><circle cx="362.6" cy="39.3" r="2"/><circle cx="364" cy="40.9" r="2.1"/><circle cx="365.7" cy="46.8" r="2.4"/><circle cx="392.6" cy="52.5" r="2.6"/><circle cx="376.4" cy="40.1" r="1.9"/><circle cx="389.5" cy="66.8" r="2"/><circle cx="367.8" cy="53.6" r="2.5"/><circle cx="388.7" cy="55.6" r="1.7"/><circle cx="385.7" cy="62.6" r="2.3"/><circle cx="378.5" cy="62.2" r="2.6"/><circle cx="378.7" cy="71.5" r="2.6"/><circle cx="376.8" cy="42.2" r="1.7"/><circle cx="382.7" cy="43.9" r="2"/><circle cx="389.4" cy="64.5" r="2.6"/><circle cx="384.1" cy="69.1" r="2.5"/><circle cx="385.1" cy="56.4" r="2.6"/><circle cx="369.4" cy="55.1" r="2.7"/><circle cx="371.6" cy="44.1" r="2"/><circle cx="391.3" cy="54.2" r="2.5"/><circle cx="366.6" cy="43.9" r="2.7"/><circle cx="374.9" cy="65.5" r="2.5"/><circle cx="385" cy="59.8" r="2"/><circle cx="365.8" cy="58.8" r="1.8"/><circle cx="379.1" cy="68.3" r="2.2"/><circle cx="366" cy="52" r="1.9"/><circle cx="389.4" cy="58.6" r="2.1"/><circle cx="387.2" cy="46" r="2.2"/><circle cx="381" cy="59.8" r="1.8"/><circle cx="380.1" cy="44.3" r="1.8"/><circle cx="371.6" cy="69.1" r="2.7"/><circle cx="376.5" cy="37.1" r="2.3"/><circle cx="381.2" cy="68.2" r="2.1"/><circle cx="377.4" cy="64.7" r="2.1"/><circle cx="391.9" cy="59.9" r="2"/><circle cx="366.2" cy="70.3" r="1.9"/><circle cx="360.3" cy="49.8" r="1.8"/><circle cx="369.7" cy="59.9" r="1.9"/><circle cx="384.1" cy="41.2" r="2.4"/><circle cx="371.5" cy="63.5" r="2.7"/><circle cx="388.4" cy="53.8" r="2.1"/><circle cx="372" cy="60.8" r="2.6"/><circle cx="371.2" cy="38.1" r="1.8"/><circle cx="367.7" cy="71.8" r="2.6"/><circle cx="360.4" cy="64.9" r="2.6"/><circle cx="385.5" cy="66.5" r="2.1"/><circle cx="370.7" cy="42.4" r="2.5"/><circle cx="361.6" cy="43.3" r="2.4"/><circle cx="370.2" cy="70.1" r="1.9"/><circle cx="359.6" cy="58" r="2.1"/><circle cx="374.8" cy="67.2" r="2.5"/><circle cx="384.7" cy="48.7" r="2.7"/><circle cx="377.3" cy="48.9" r="2.4"/><circle cx="366" cy="66.9" r="2"/><circle cx="369.2" cy="62.3" r="2.4"/><circle cx="361.4" cy="61.7" r="1.8"/><circle cx="371.2" cy="66.3" r="2.3"/><circle cx="363.9" cy="65.4" r="2.5"/><circle cx="363.7" cy="46.1" r="2.7"/><circle cx="374.4" cy="70.9" r="2.4"/><circle cx="372.8" cy="67.8" r="2.4"/><circle cx="376.9" cy="55.7" r="2.1"/><circle cx="374" cy="57" r="2.5"/><circle cx="363.1" cy="58.8" r="2.4"/><circle cx="383" cy="67.7" r="2.4"/><circle cx="378.7" cy="49.7" r="2.4"/><circle cx="372" cy="55" r="2.4"/><circle cx="365.8" cy="64" r="2"/><circle cx="383.9" cy="50.7" r="2"/><circle cx="367" cy="49.5" r="2"/><circle cx="377.4" cy="57.7" r="2.7"/><circle cx="380.5" cy="71.5" r="2.3"/><circle cx="378" cy="47.1" r="2"/><circle cx="368.4" cy="58.6" r="2.2"/><circle cx="363.3" cy="55.2" r="2.5"/><circle cx="390.9" cy="62.9" r="2"/><circle cx="367.3" cy="75.7" r="2.5"/><circle cx="375.1" cy="60.4" r="2.4"/><circle cx="368.5" cy="70.1" r="1.9"/><circle cx="378.2" cy="41.1" r="2.6"/><circle cx="367.9" cy="46.7" r="2.5"/><circle cx="387.7" cy="43.5" r="2.1"/><circle cx="361.1" cy="46.6" r="1.9"/><circle cx="386.7" cy="47.6" r="2.4"/><circle cx="386.3" cy="51.3" r="1.9"/><circle cx="384" cy="63.3" r="2.3"/><circle cx="385.8" cy="53.2" r="2.4"/><circle cx="370.6" cy="75.3" r="2.1"/><circle cx="372.5" cy="58" r="2"/><circle cx="371.3" cy="73.5" r="2.2"/><circle cx="360.7" cy="56.5" r="2.4"/><circle cx="369.2" cy="64.6" r="2.2"/><circle cx="375.7" cy="68.7" r="2.5"/><circle cx="377.1" cy="60.4" r="2.5"/><circle cx="380.3" cy="42.4" r="1.7"/><circle cx="366.2" cy="54.1" r="1.8"/><circle cx="367.4" cy="63.8" r="2.4"/><circle cx="393.2" cy="55.1" r="2.3"/><circle cx="377.2" cy="72.9" r="2.3"/><circle cx="381.7" cy="70.2" r="2.4"/><circle cx="369.2" cy="37.8" r="1.9"/><circle cx="360.1" cy="63.2" r="2.7"/><circle cx="369.2" cy="73.4" r="2"/><circle cx="372.4" cy="40.1" r="2.3"/><circle cx="367.4" cy="40" r="1.8"/><circle cx="364" cy="71.2" r="1.8"/><circle cx="385.2" cy="43.3" r="2.2"/><circle cx="371.4" cy="51" r="2.5"/><circle cx="384.5" cy="45.5" r="2.5"/><circle cx="371.5" cy="71.4" r="1.8"/><circle cx="379.4" cy="39.5" r="2.2"/><circle cx="376" cy="70.5" r="2.6"/><circle cx="376.4" cy="44.5" r="2.6"/><circle cx="377.9" cy="38.9" r="2.7"/><circle cx="364.5" cy="38" r="2.4"/><circle cx="380.3" cy="66.6" r="2"/><circle cx="382.5" cy="49.7" r="2.1"/><circle cx="381.8" cy="53.6" r="2.3"/><circle cx="375" cy="72.5" r="2.1"/><circle cx="381.7" cy="63.6" r="1.8"/><circle cx="363.6" cy="67.2" r="1.8"/><circle cx="386.9" cy="49.7" r="1.7"/><circle cx="373.6" cy="41.1" r="2.6"/><circle cx="377.6" cy="69.8" r="2.6"/><circle cx="375.3" cy="46.2" r="2.3"/><circle cx="366.9" cy="55.6" r="1.8"/><circle cx="383.5" cy="57.5" r="1.8"/><circle cx="380.5" cy="52.3" r="1.8"/><circle cx="373.4" cy="59.8" r="2.7"/><circle cx="375.7" cy="56.9" r="2.3"/><circle cx="363.6" cy="57.3" r="2.1"/><circle cx="360.6" cy="38.6" r="2.2"/><circle cx="389.9" cy="52" r="2.2"/><circle cx="365.2" cy="56.9" r="2.6"/><circle cx="364.9" cy="45" r="1.9"/><circle cx="379.6" cy="37.8" r="2.2"/><circle cx="389" cy="45.3" r="2.7"/><circle cx="376.6" cy="51.3" r="2.5"/><circle cx="373.3" cy="48.6" r="2.1"/><circle cx="383.4" cy="54.7" r="2.5"/><circle cx="390.4" cy="55.9" r="2.1"/><circle cx="380.4" cy="49.2" r="2.6"/><circle cx="380.7" cy="58.1" r="2.5"/><circle cx="361" cy="40.4" r="2.4"/><circle cx="370.8" cy="57.6" r="2"/><circle cx="363.9" cy="48.3" r="1.9"/><circle cx="373.3" cy="50.5" r="2"/><circle cx="374" cy="55" r="2"/><circle cx="364.1" cy="74.2" r="2.1"/><circle cx="363" cy="69.4" r="2.4"/><circle cx="375.7" cy="54" r="2.3"/><circle cx="362.7" cy="42" r="2.5"/><circle cx="388.3" cy="62.1" r="2.3"/><circle cx="393.5" cy="60.4" r="2.2"/><circle cx="391.3" cy="57.8" r="1.9"/><circle cx="366.4" cy="37.8" r="2.3"/><circle cx="371.9" cy="47.1" r="2.1"/><circle cx="362.6" cy="72.8" r="2.1"/><circle cx="387.2" cy="66.3" r="1.8"/><circle cx="363.1" cy="60.6" r="1.8"/><circle cx="362.2" cy="48.3" r="1.9"/><circle cx="391.3" cy="48.1" r="2.1"/><circle cx="382.3" cy="45.6" r="2.4"/><circle cx="374" cy="44.8" r="1.8"/><circle cx="366.2" cy="62.2" r="1.9"/><circle cx="378.9" cy="58.2" r="1.9"/><circle cx="394.7" cy="56.9" r="2"/><circle cx="387.9" cy="51.8" r="2.3"/><circle cx="386.2" cy="64.4" r="2.7"/><circle cx="383.4" cy="47.7" r="2.6"/><circle cx="382.1" cy="61" r="2.5"/><circle cx="360" cy="52.1" r="1.8"/><circle cx="373.3" cy="63" r="2.5"/><circle cx="368.9" cy="50.8" r="2.5"/><circle cx="377.6" cy="52.9" r="1.9"/><circle cx="375.4" cy="49" r="1.8"/><circle cx="367.5" cy="65.5" r="2.1"/><circle cx="370" cy="46.3" r="1.8"/><circle cx="377.1" cy="67.1" r="2.3"/><circle cx="360.6" cy="72.8" r="2.5"/><circle cx="380.9" cy="54.9" r="2"/><circle cx="380" cy="63" r="2.3"/><circle cx="362.6" cy="51.5" r="1.9"/><circle cx="394.2" cy="53.7" r="1.7"/><circle cx="367.2" cy="57.3" r="2"/><circle cx="375" cy="39.2" r="2"/><circle cx="373.5" cy="46.6" r="2"/><circle cx="381.5" cy="39.2" r="2"/><circle cx="386.4" cy="44.5" r="1.9"/><circle cx="392.9" cy="56.7" r="1.8"/><circle cx="373.3" cy="52.1" r="1.9"/><circle cx="386.7" cy="59.7" r="2.1"/><circle cx="371.7" cy="49.1" r="1.8"/><circle cx="386.4" cy="55.3" r="1.9"/><circle cx="374.1" cy="74.3" r="2.4"/><circle cx="378.7" cy="43.4" r="2.2"/><circle cx="378.6" cy="45.2" r="2.3"/><circle cx="374.3" cy="37.6" r="1.8"/><circle cx="379.8" cy="60.9" r="1.7"/><circle cx="393.6" cy="58.8" r="2.5"/><circle cx="387.9" cy="57.4" r="2.5"/><circle cx="378.4" cy="66.2" r="2"/><circle cx="361.7" cy="70.8" r="2.3"/><circle cx="368" cy="43" r="2.1"/><circle cx="390.6" cy="65.6" r="2.6"/><circle cx="367.6" cy="51.9" r="1.8"/><circle cx="385.6" cy="58" r="2.2"/><circle cx="386.5" cy="68.1" r="2.5"/><circle cx="365.8" cy="75.2" r="2"/><circle cx="392.8" cy="62" r="2.6"/><circle cx="372.1" cy="74.9" r="2"/><circle cx="380.5" cy="40.7" r="1.8"/><circle cx="364.7" cy="69.6" r="2.7"/><circle cx="364.5" cy="52.9" r="2.5"/><circle cx="367.5" cy="60.1" r="1.8"/><circle cx="361.7" cy="54.7" r="1.8"/><circle cx="367.3" cy="68.8" r="2.1"/><circle cx="368.9" cy="75.2" r="2.3"/><circle cx="361.4" cy="45" r="2.4"/><circle cx="390.1" cy="61.2" r="2.3"/><circle cx="361.7" cy="63.8" r="1.8"/><circle cx="384" cy="61.2" r="2.1"/><circle cx="364.9" cy="39.6" r="2.4"/><circle cx="373.2" cy="69.7" r="2"/><circle cx="369.8" cy="68.1" r="2.3"/><circle cx="382.3" cy="51.9" r="1.8"/><circle cx="369.3" cy="56.9" r="2.3"/></g>
<path d="M367.9 46.1C367.9 46.2 367.9 46.4 367.9 46.5C367.8 46.6 367.8 46.8 367.6 46.9C367.5 47.1 367.4 47.2 367.2 47.4C367.1 47.5 366.9 47.7 366.7 47.9C366.5 48 366.3 48.2 366.1 48.4C365.9 48.5 365.7 48.7 365.5 48.9C365.3 49 365.1 49.2 364.9 49.3C364.8 49.5 364.6 49.6 364.5 49.8C364.4 49.9 364.3 50.1 364.3 50.2C364.2 50.3 364.2 50.5 364.2 50.6" stroke="#806da6" stroke-width="1.08" fill="none" stroke-linecap="round"/>
<path d="M369.3 53.3C369.3 53.3 369.4 53.5 369.3 53.7C369.3 53.8 369.2 53.9 369.1 54.1C369 54.2 368.8 54.4 368.7 54.5C368.5 54.7 368.3 54.8 368.1 55C367.9 55.2 367.7 55.3 367.5 55.5C367.3 55.7 367.1 55.8 366.9 56C366.7 56.2 366.5 56.3 366.3 56.5C366.2 56.6 366 56.8 365.9 56.9C365.8 57.1 365.7 57.2 365.7 57.3C365.6 57.5 365.7 57.7 365.7 57.7" stroke="#7d69a5" stroke-width="1.08" fill="none" stroke-linecap="round"/>
<path d="M370.8 60.4C370.8 60.5 370.8 60.7 370.7 60.8C370.7 60.9 370.6 61.1 370.5 61.2C370.4 61.4 370.2 61.5 370.1 61.7C369.9 61.8 369.7 62 369.5 62.1C369.3 62.3 369.1 62.5 368.9 62.6C368.7 62.8 368.5 63 368.3 63.1C368.1 63.3 367.9 63.5 367.8 63.6C367.6 63.8 367.5 63.9 367.4 64.1C367.2 64.2 367.2 64.4 367.1 64.5C367.1 64.6 367.1 64.8 367.1 64.9" stroke="#7b66a4" stroke-width="1.08" fill="none" stroke-linecap="round"/>
<path d="M362.8 43.4C362.8 43.5 362.9 43.7 363 43.8C363.1 43.9 363.2 44 363.4 44.1C363.5 44.2 363.7 44.2 363.9 44.3C364.1 44.4 364.4 44.5 364.6 44.6C364.8 44.6 365.1 44.7 365.4 44.8C365.6 44.9 365.9 44.9 366.1 45C366.4 45.1 366.6 45.2 366.8 45.2C367 45.3 367.2 45.4 367.4 45.5C367.5 45.6 367.6 45.7 367.7 45.8C367.8 45.9 367.9 46.1 367.9 46.1" stroke="#ba9eef" stroke-width="1.8" fill="none" stroke-linecap="round"/>
<path d="M364.2 50.6C364.3 50.6 364.3 50.8 364.4 50.9C364.5 51 364.6 51.1 364.8 51.2C364.9 51.3 365.1 51.4 365.3 51.5C365.6 51.6 365.8 51.6 366 51.7C366.3 51.8 366.5 51.9 366.8 51.9C367 52 367.3 52.1 367.5 52.1C367.8 52.2 368 52.3 368.2 52.4C368.4 52.5 368.6 52.6 368.8 52.6C368.9 52.7 369.1 52.8 369.2 52.9C369.3 53 369.3 53.2 369.3 53.3" stroke="#b699ed" stroke-width="1.8" fill="none" stroke-linecap="round"/>
<path d="M365.7 57.7C365.7 57.8 365.7 58 365.8 58.1C365.9 58.2 366.1 58.3 366.2 58.4C366.4 58.4 366.6 58.5 366.8 58.6C367 58.7 367.2 58.8 367.5 58.9C367.7 58.9 368 59 368.2 59.1C368.5 59.1 368.7 59.2 369 59.3C369.2 59.4 369.4 59.4 369.7 59.5C369.9 59.6 370.1 59.7 370.2 59.8C370.4 59.9 370.5 60 370.6 60.1C370.7 60.2 370.7 60.4 370.8 60.4" stroke="#b295ec" stroke-width="1.8" fill="none" stroke-linecap="round"/>
<path d="M367.1 64.9C367.1 64.9 367.2 65.1 367.3 65.2C367.4 65.3 367.5 65.4 367.6 65.5C367.8 65.6 368 65.7 368.2 65.8C368.4 65.8 368.6 65.9 368.9 66C369.1 66.1 369.4 66.1 369.6 66.2C369.9 66.3 370.2 66.4 370.4 66.4C370.6 66.5 370.9 66.6 371.1 66.7C371.3 66.8 371.5 66.8 371.6 66.9C371.8 67 371.9 67.1 372 67.2C372.1 67.3 372.2 67.5 372.2 67.6" stroke="#ae90ea" stroke-width="1.8" fill="none" stroke-linecap="round"/>
<path d="M374.9 49.5C374.9 49.6 375 49.8 374.9 49.9C374.9 50.1 374.9 50.2 374.8 50.4C374.7 50.6 374.6 50.7 374.4 50.9C374.3 51.1 374.2 51.3 374 51.5C373.8 51.6 373.7 51.8 373.5 52C373.3 52.2 373.2 52.4 373 52.5C372.8 52.7 372.7 52.9 372.6 53.1C372.4 53.3 372.3 53.4 372.2 53.6C372.1 53.8 372.1 53.9 372.1 54.1C372 54.2 372.1 54.4 372.1 54.5" stroke="#8b7ba9" stroke-width="0.8999999999999999" fill="none" stroke-linecap="round"/>
<path d="M376.9 57.5C376.9 57.6 377 57.8 376.9 57.9C376.9 58.1 376.9 58.2 376.8 58.4C376.7 58.6 376.6 58.7 376.4 58.9C376.3 59.1 376.2 59.3 376 59.5C375.8 59.6 375.7 59.8 375.5 60C375.3 60.2 375.2 60.4 375 60.5C374.8 60.7 374.7 60.9 374.6 61.1C374.4 61.3 374.3 61.4 374.2 61.6C374.1 61.8 374.1 61.9 374.1 62.1C374 62.2 374.1 62.4 374.1 62.5" stroke="#8777a8" stroke-width="0.8999999999999999" fill="none" stroke-linecap="round"/>
<path d="M370.1 46.5C370.1 46.5 370.2 46.7 370.3 46.9C370.3 47 370.5 47.1 370.6 47.2C370.8 47.3 371 47.4 371.2 47.5C371.4 47.6 371.6 47.7 371.8 47.7C372 47.8 372.3 47.9 372.5 48C372.7 48.1 373 48.2 373.2 48.3C373.4 48.3 373.6 48.4 373.8 48.5C374 48.6 374.2 48.7 374.4 48.8C374.5 48.9 374.7 49 374.7 49.1C374.8 49.3 374.9 49.5 374.9 49.5" stroke="#cab4f3" stroke-width="1.5" fill="none" stroke-linecap="round"/>
<path d="M372.1 54.5C372.1 54.5 372.2 54.7 372.3 54.9C372.3 55 372.5 55.1 372.6 55.2C372.8 55.3 373 55.4 373.2 55.5C373.4 55.6 373.6 55.7 373.8 55.7C374 55.8 374.3 55.9 374.5 56C374.7 56.1 375 56.2 375.2 56.3C375.4 56.3 375.6 56.4 375.8 56.5C376 56.6 376.2 56.7 376.4 56.8C376.5 56.9 376.7 57 376.7 57.1C376.8 57.3 376.9 57.5 376.9 57.5" stroke="#c4aef2" stroke-width="1.5" fill="none" stroke-linecap="round"/>
<path d="M374.1 62.5C374.1 62.5 374.2 62.7 374.3 62.9C374.3 63 374.5 63.1 374.6 63.2C374.8 63.3 375 63.4 375.2 63.5C375.4 63.6 375.6 63.7 375.8 63.7C376 63.8 376.3 63.9 376.5 64C376.7 64.1 377 64.2 377.2 64.3C377.4 64.3 377.6 64.4 377.8 64.5C378 64.6 378.2 64.7 378.4 64.8C378.5 64.9 378.7 65 378.7 65.1C378.8 65.3 378.9 65.5 378.9 65.5" stroke="#bfa8f0" stroke-width="1.5" fill="none" stroke-linecap="round"/>
<path d="M371.5 40.5C372.3 40.8 375.7 42.2 376.5 42.5" stroke="#f2b0d8" stroke-width="3" fill="none" stroke-linecap="round" stroke-linejoin="round"/>
<path d="M357.5 36.2C356.5 36.8 353.2 38.1 351.4 40C349.6 41.9 347.4 45.3 346.9 47.6C346.4 49.9 346.9 52.6 348.4 53.6C349.9 54.6 354.1 52.8 356 53.6C357.9 54.4 359.2 57.4 359.8 58.2" stroke="#e6b340" stroke-width="0.9" fill="none" stroke-linecap="round" stroke-linejoin="round"/>
<path d="M355.5 50.5C356 51.2 357.6 53.4 358.5 54.5C359.4 55.6 360.6 56.6 361 57" stroke="#f0a820" stroke-width="1.8" fill="none" stroke-linecap="round" stroke-linejoin="round"/>
<path d="M358.3 36.2C358.8 37.1 360.8 39.9 361.3 41.5C361.8 43.1 361.9 44.5 361.3 46C360.7 47.5 359 49.3 357.5 50.6C356 51.9 353.6 52.5 352.2 53.6C350.8 54.7 349.8 56.4 349.2 57.4C348.6 58.4 348.5 59.3 348.4 59.7" stroke="#1a1ae0" stroke-width="1.6" fill="none" stroke-linecap="round" stroke-linejoin="round"/>
<g fill="#fff0ed" stroke="#f6bab1" stroke-width="0.42"><circle cx="479" cy="66.3" r="1.7"/><circle cx="484.7" cy="83" r="1.8"/><circle cx="487.8" cy="74.1" r="2.4"/><circle cx="472.6" cy="66.1" r="1.8"/><circle cx="478.4" cy="78.3" r="2.4"/><circle cx="487.6" cy="80.3" r="2.6"/><circle cx="482.5" cy="68.8" r="2.4"/><circle cx="491.3" cy="78" r="1.9"/><circle cx="489.3" cy="69" r="2.1"/><circle cx="481" cy="73.6" r="2"/><circle cx="478.1" cy="83.5" r="2.1"/><circle cx="468.2" cy="67" r="2.2"/><circle cx="475.4" cy="66.2" r="2.1"/><circle cx="482.4" cy="67.1" r="2.4"/><circle cx="493.9" cy="74" r="2.4"/><circle cx="467" cy="78.5" r="1.9"/><circle cx="472.6" cy="79.3" r="2.3"/><circle cx="480.3" cy="83.1" r="2"/><circle cx="478.4" cy="71" r="1.7"/><circle cx="485" cy="70.7" r="2.5"/><circle cx="488.1" cy="70.6" r="1.7"/><circle cx="480.9" cy="78.7" r="1.7"/><circle cx="483.8" cy="77.8" r="1.8"/><circle cx="482.7" cy="79.9" r="2.5"/><circle cx="491.7" cy="73.5" r="2.4"/><circle cx="485.4" cy="81.1" r="2.3"/><circle cx="492.9" cy="78.9" r="2"/><circle cx="483.2" cy="82.2" r="2.3"/><circle cx="470.6" cy="78.5" r="2.5"/><circle cx="469.2" cy="73" r="2.3"/><circle cx="479.6" cy="75.1" r="2.4"/><circle cx="491" cy="82.1" r="2.2"/><circle cx="485.5" cy="73.6" r="2.2"/><circle cx="489.5" cy="77" r="1.8"/><circle cx="470.1" cy="75.6" r="2.4"/><circle cx="489.5" cy="72.2" r="2.5"/><circle cx="476.7" cy="68" r="1.8"/><circle cx="487.7" cy="77.9" r="2.1"/><circle cx="492.4" cy="75.7" r="2.6"/><circle cx="495" cy="75.5" r="1.7"/><circle cx="476.9" cy="74.1" r="2.5"/><circle cx="465.2" cy="75" r="1.9"/><circle cx="475.4" cy="72.3" r="2.4"/><circle cx="483.7" cy="75.4" r="1.7"/><circle cx="484.3" cy="68.4" r="1.7"/><circle cx="491.2" cy="69.8" r="2.1"/><circle cx="486.6" cy="76.3" r="2.5"/><circle cx="468.2" cy="77" r="1.8"/><circle cx="492.9" cy="70.8" r="2.6"/><circle cx="471.2" cy="74.3" r="2"/><circle cx="473.3" cy="80.9" r="2.4"/><circle cx="485.5" cy="67.4" r="1.9"/><circle cx="474.7" cy="78.6" r="1.9"/><circle cx="466.9" cy="70.9" r="2"/><circle cx="486.6" cy="83.7" r="2"/><circle cx="479.2" cy="81" r="2.1"/><circle cx="473" cy="77.3" r="2.6"/><circle cx="481" cy="70.6" r="2.5"/><circle cx="471.9" cy="70.5" r="2.1"/><circle cx="474.1" cy="69.1" r="2.4"/><circle cx="478.4" cy="69.3" r="2.5"/><circle cx="470.9" cy="72.5" r="2.7"/><circle cx="476.4" cy="82" r="2.6"/><circle cx="480.5" cy="76.8" r="2.2"/><circle cx="469.6" cy="70.8" r="2.4"/><circle cx="491.3" cy="71.8" r="1.8"/><circle cx="493.5" cy="76.9" r="2"/><circle cx="473.8" cy="71.3" r="2.4"/><circle cx="468.3" cy="69.8" r="2.3"/><circle cx="483.6" cy="72.6" r="2"/><circle cx="486.9" cy="69.1" r="1.8"/><circle cx="485.1" cy="79.3" r="2.4"/><circle cx="471.5" cy="81.1" r="1.7"/><circle cx="466.4" cy="69" r="2.6"/><circle cx="467.4" cy="73.2" r="1.9"/><circle cx="466.9" cy="75" r="2.4"/><circle cx="476.7" cy="69.8" r="2.6"/><circle cx="474.9" cy="76.4" r="2.6"/><circle cx="490.2" cy="79.7" r="2.7"/><circle cx="470.2" cy="69.1" r="2.4"/><circle cx="479.6" cy="72.3" r="2.2"/><circle cx="473.9" cy="82.9" r="1.9"/><circle cx="487" cy="72.5" r="2.6"/><circle cx="465.1" cy="77.1" r="1.9"/><circle cx="480.4" cy="68.3" r="2.2"/><circle cx="489.2" cy="83.5" r="2.2"/><circle cx="465.5" cy="72.6" r="2.7"/><circle cx="482.3" cy="77" r="2.1"/><circle cx="471.3" cy="67.7" r="2.3"/><circle cx="473" cy="72.9" r="1.7"/><circle cx="476.5" cy="83.9" r="2.6"/><circle cx="490.4" cy="75.2" r="2.6"/><circle cx="495.7" cy="77.4" r="2.6"/><circle cx="481.1" cy="66.1" r="2.2"/><circle cx="472.9" cy="74.9" r="2.6"/><circle cx="476.2" cy="77.6" r="2.3"/><circle cx="487.9" cy="82" r="2.7"/><circle cx="480.8" cy="80.3" r="2.2"/><circle cx="474.5" cy="74.4" r="2.6"/><circle cx="477" cy="76" r="2"/><circle cx="482.5" cy="74.3" r="2.4"/><circle cx="466.3" cy="66.8" r="2.5"/><circle cx="477" cy="79.2" r="2"/><circle cx="475.7" cy="80.6" r="2.6"/><circle cx="468.7" cy="79.8" r="2.4"/><circle cx="474.4" cy="67.5" r="2.7"/><circle cx="469.8" cy="66.4" r="2.6"/><circle cx="482" cy="84.1" r="2.1"/><circle cx="482.7" cy="71.1" r="2.5"/><circle cx="477.3" cy="65.6" r="2.5"/></g>
<g fill="#f6fdf6" stroke="#c4f2c4" stroke-width="0.42"><circle cx="466.2" cy="48.9" r="1.7"/><circle cx="481.5" cy="56.9" r="2.3"/><circle cx="478" cy="27" r="2.6"/><circle cx="463.5" cy="22.7" r="2.6"/><circle cx="470" cy="25.1" r="1.7"/><circle cx="470.7" cy="32.6" r="1.9"/><circle cx="451.7" cy="41.1" r="1.9"/><circle cx="476.8" cy="50.7" r="2"/><circle cx="470.3" cy="27.4" r="2.3"/><circle cx="472.5" cy="45.2" r="2.5"/><circle cx="468.9" cy="37.8" r="1.9"/><circle cx="456.3" cy="38.2" r="2.1"/><circle cx="454" cy="34.6" r="1.8"/><circle cx="452.6" cy="35.9" r="2.6"/><circle cx="468.1" cy="58.4" r="2.6"/><circle cx="457" cy="52.6" r="2"/><circle cx="471.2" cy="22.3" r="2.1"/><circle cx="463.9" cy="25.9" r="2.6"/><circle cx="468.2" cy="29.8" r="2.6"/><circle cx="468.2" cy="53.7" r="2.1"/><circle cx="461" cy="52.7" r="2.4"/><circle cx="475.9" cy="57.5" r="2.6"/><circle cx="481" cy="36.6" r="2"/><circle cx="467.1" cy="31.8" r="2.5"/><circle cx="455.2" cy="43.3" r="2.3"/><circle cx="461.2" cy="56.8" r="2.2"/><circle cx="470.2" cy="62.3" r="2.2"/><circle cx="462.4" cy="51.3" r="1.7"/><circle cx="473.3" cy="33.2" r="1.8"/><circle cx="471.2" cy="38.5" r="1.8"/><circle cx="479.5" cy="41.7" r="2.2"/><circle cx="478.5" cy="37.3" r="2.3"/><circle cx="471.3" cy="58.2" r="1.9"/><circle cx="470.3" cy="56.1" r="2.6"/><circle cx="476.6" cy="48.5" r="1.8"/><circle cx="462.6" cy="36.4" r="1.9"/><circle cx="474.8" cy="40.9" r="2.5"/><circle cx="473.9" cy="30.6" r="1.9"/><circle cx="463.1" cy="34.6" r="2.2"/><circle cx="479.9" cy="56.3" r="1.8"/><circle cx="454.6" cy="40.5" r="1.8"/><circle cx="458.8" cy="30" r="2.3"/><circle cx="464.9" cy="60.1" r="2.5"/><circle cx="472.6" cy="26.4" r="1.8"/><circle cx="465.5" cy="34.5" r="1.9"/><circle cx="467.8" cy="45" r="1.8"/><circle cx="473.9" cy="50.8" r="1.8"/><circle cx="479.2" cy="44.6" r="2.5"/><circle cx="458" cy="39.6" r="2"/><circle cx="455.9" cy="49.2" r="2.3"/><circle cx="483.2" cy="39.4" r="2.2"/><circle cx="460.8" cy="50.2" r="2.2"/><circle cx="464.4" cy="40.3" r="1.8"/><circle cx="451.8" cy="37.8" r="2.3"/><circle cx="455" cy="53.1" r="2"/><circle cx="480.4" cy="38.3" r="2"/><circle cx="480.6" cy="33.8" r="2.1"/><circle cx="479.3" cy="31.4" r="1.8"/><circle cx="463.9" cy="48.9" r="2.2"/><circle cx="464" cy="57.9" r="1.8"/><circle cx="461.9" cy="28.5" r="2.3"/><circle cx="464.5" cy="29.7" r="2.6"/><circle cx="479.8" cy="53.2" r="1.9"/><circle cx="472.2" cy="62.8" r="1.8"/><circle cx="474" cy="43.4" r="2.4"/><circle cx="483.9" cy="34.5" r="2.6"/><circle cx="460.7" cy="35.8" r="2.4"/><circle cx="481.9" cy="40.7" r="2.2"/><circle cx="481.6" cy="60.4" r="2.5"/><circle cx="476.7" cy="55.7" r="2.6"/><circle cx="468" cy="25.3" r="1.9"/><circle cx="477" cy="59.8" r="1.9"/><circle cx="475.2" cy="29.6" r="2"/><circle cx="475.7" cy="37.7" r="2.1"/><circle cx="483.3" cy="46.2" r="2.4"/><circle cx="459.4" cy="32.9" r="1.8"/><circle cx="476.8" cy="32.4" r="2.3"/><circle cx="468.7" cy="43.5" r="1.9"/><circle cx="454.8" cy="30.4" r="2.4"/><circle cx="483.9" cy="44.4" r="2.6"/><circle cx="483.9" cy="41.4" r="2.1"/><circle cx="458.4" cy="43.4" r="2.6"/><circle cx="485" cy="38.7" r="2.1"/><circle cx="477.4" cy="41.2" r="2"/><circle cx="473.6" cy="23.7" r="2.6"/><circle cx="476.9" cy="39.6" r="2.5"/><circle cx="476.3" cy="62.4" r="2"/><circle cx="458.7" cy="35.6" r="1.9"/><circle cx="468.2" cy="35.3" r="2"/><circle cx="480.2" cy="58.4" r="2.2"/><circle cx="456.7" cy="54.2" r="2.6"/><circle cx="482.2" cy="43.3" r="2.6"/><circle cx="462.4" cy="30.1" r="2.5"/><circle cx="474.8" cy="48.1" r="2.6"/><circle cx="467.3" cy="42.5" r="1.9"/><circle cx="479.8" cy="61.4" r="2.5"/><circle cx="477.7" cy="57.2" r="1.8"/><circle cx="472.2" cy="40.5" r="2.5"/><circle cx="463.3" cy="54.5" r="2.6"/><circle cx="479.1" cy="48.7" r="2.6"/><circle cx="481.7" cy="31.2" r="2.7"/><circle cx="465.9" cy="50.8" r="2.2"/><circle cx="461.4" cy="25.2" r="2.6"/><circle cx="481.9" cy="50.9" r="2"/><circle cx="471" cy="60.5" r="2.4"/><circle cx="477.2" cy="43.8" r="2.7"/><circle cx="474" cy="61.1" r="1.7"/><circle cx="476.3" cy="35.7" r="2.5"/><circle cx="460.4" cy="40.1" r="2.1"/><circle cx="462.7" cy="42.9" r="2.4"/><circle cx="483.4" cy="56" r="2.3"/><circle cx="470.5" cy="36.5" r="1.7"/><circle cx="475.8" cy="53.2" r="1.9"/><circle cx="468.7" cy="39.6" r="2.7"/><circle cx="459.7" cy="25.2" r="2.5"/><circle cx="460.4" cy="37.4" r="2.1"/><circle cx="483.5" cy="50.8" r="1.9"/><circle cx="466" cy="24.1" r="2.4"/><circle cx="462.2" cy="48.6" r="2.1"/><circle cx="452.9" cy="33.3" r="1.9"/><circle cx="457.4" cy="50.1" r="2.2"/><circle cx="470.7" cy="46.7" r="2.6"/><circle cx="452.3" cy="43.8" r="2"/><circle cx="464.7" cy="32" r="2.6"/><circle cx="465.9" cy="56.1" r="2.3"/><circle cx="460.8" cy="27.2" r="2.6"/><circle cx="468.3" cy="28.1" r="2.5"/><circle cx="453.5" cy="37.6" r="2.4"/><circle cx="465.8" cy="58.7" r="2.5"/><circle cx="462.4" cy="45.7" r="2.4"/><circle cx="471.5" cy="43.4" r="2.4"/><circle cx="471.6" cy="29.5" r="1.9"/><circle cx="457.8" cy="46.5" r="1.9"/><circle cx="468" cy="22.1" r="2.4"/><circle cx="467" cy="37.3" r="2.7"/><circle cx="478" cy="33.6" r="2.2"/><circle cx="458.8" cy="55.9" r="2.4"/><circle cx="470.5" cy="49.9" r="2.1"/><circle cx="472.5" cy="49.7" r="1.9"/><circle cx="472.9" cy="54.1" r="2.3"/><circle cx="464.4" cy="46.4" r="2.2"/><circle cx="466.2" cy="45.4" r="2.4"/><circle cx="454.5" cy="47.4" r="1.7"/><circle cx="464.3" cy="27.7" r="2.4"/><circle cx="456" cy="32.2" r="2.1"/><circle cx="464.8" cy="38.2" r="1.9"/><circle cx="469.8" cy="41.8" r="1.8"/><circle cx="464.4" cy="51.6" r="2"/><circle cx="474.9" cy="32.7" r="2.5"/><circle cx="466.5" cy="27.5" r="1.8"/><circle cx="467" cy="60.1" r="2.1"/><circle cx="477.6" cy="46.2" r="2.4"/><circle cx="466.4" cy="29.4" r="1.7"/><circle cx="464.4" cy="43.1" r="2.7"/><circle cx="457" cy="33.6" r="2.1"/><circle cx="475.1" cy="44.9" r="2.4"/><circle cx="481.1" cy="44.8" r="2.6"/><circle cx="478" cy="52.8" r="2.5"/><circle cx="461.3" cy="32.7" r="2.2"/><circle cx="478.2" cy="55" r="2.4"/><circle cx="482.3" cy="54.7" r="2"/><circle cx="451" cy="34.5" r="1.9"/><circle cx="468.5" cy="32.6" r="1.9"/><circle cx="474.6" cy="56.2" r="2"/><circle cx="469.4" cy="45.5" r="1.7"/><circle cx="467.9" cy="56.2" r="2.1"/><circle cx="460.4" cy="54.9" r="1.8"/><circle cx="479.7" cy="28.9" r="2.1"/><circle cx="469.7" cy="31.2" r="1.9"/><circle cx="467.1" cy="34" r="2.2"/><circle cx="466.1" cy="53.8" r="1.9"/><circle cx="472.2" cy="56.3" r="1.8"/><circle cx="475" cy="59" r="2.3"/><circle cx="457.3" cy="41.9" r="2.3"/><circle cx="452.8" cy="39.7" r="2.5"/><circle cx="479.6" cy="50.2" r="2"/><circle cx="475.8" cy="24.9" r="2"/><circle cx="473.3" cy="35.3" r="2.5"/><circle cx="463.9" cy="44.7" r="2.2"/><circle cx="472.8" cy="37.5" r="2.4"/><circle cx="456.9" cy="30.1" r="2.2"/><circle cx="475.2" cy="27.8" r="2"/><circle cx="459.5" cy="51.6" r="1.8"/><circle cx="479.4" cy="39.7" r="1.7"/><circle cx="463.1" cy="41.3" r="2.6"/><circle cx="471.4" cy="48.3" r="2.2"/><circle cx="478" cy="28.8" r="2"/><circle cx="484.3" cy="36.4" r="2.2"/><circle cx="483.8" cy="52.7" r="2.3"/><circle cx="458.6" cy="26.8" r="2.4"/><circle cx="456.8" cy="44.5" r="1.9"/><circle cx="464.3" cy="35.8" r="2.5"/><circle cx="471.7" cy="24.4" r="2.4"/><circle cx="481.5" cy="48.5" r="2"/><circle cx="474" cy="38.7" r="2.6"/><circle cx="455.5" cy="35.5" r="2.1"/><circle cx="454" cy="45.9" r="2.5"/><circle cx="473.4" cy="59.2" r="2.4"/><circle cx="455.2" cy="51.3" r="2.4"/><circle cx="471.5" cy="52.7" r="1.7"/><circle cx="460.4" cy="48.6" r="1.8"/><circle cx="453.9" cy="49.4" r="1.8"/><circle cx="480" cy="46.7" r="1.7"/><circle cx="460.7" cy="44.6" r="2.5"/><circle cx="461.8" cy="22.8" r="2"/><circle cx="484.8" cy="43" r="1.7"/><circle cx="468.5" cy="52.1" r="1.7"/><circle cx="456.9" cy="27.9" r="2.2"/><circle cx="483.2" cy="47.9" r="2.3"/><circle cx="472.7" cy="46.9" r="1.9"/><circle cx="457.3" cy="48.4" r="2.7"/><circle cx="460.1" cy="42" r="2.5"/><circle cx="468.9" cy="61.1" r="2.5"/><circle cx="478" cy="63.1" r="2.2"/><circle cx="482.2" cy="33.2" r="2.4"/><circle cx="462.6" cy="39.4" r="2"/><circle cx="467.6" cy="50.5" r="2.5"/><circle cx="463" cy="32.9" r="2.2"/><circle cx="456.2" cy="40.5" r="2.5"/><circle cx="468.9" cy="23.7" r="2.6"/><circle cx="476.8" cy="30.4" r="2.4"/><circle cx="476.7" cy="64.1" r="2.6"/><circle cx="465.6" cy="41.8" r="2"/><circle cx="458.8" cy="53.7" r="2.2"/><circle cx="468" cy="47.9" r="1.9"/><circle cx="484.5" cy="49.1" r="2.1"/><circle cx="468.9" cy="49.4" r="2.2"/><circle cx="460.1" cy="46.9" r="2.1"/><circle cx="466.4" cy="22.2" r="2.5"/><circle cx="482.1" cy="34.9" r="2.4"/><circle cx="474.3" cy="46.6" r="2.5"/><circle cx="482.7" cy="37.9" r="2.6"/><circle cx="473.4" cy="28.4" r="2.1"/><circle cx="453.5" cy="41.7" r="2.3"/><circle cx="480.4" cy="43.3" r="1.7"/><circle cx="471.3" cy="54.6" r="1.9"/><circle cx="476" cy="42.5" r="2.5"/><circle cx="466.3" cy="25.9" r="2"/><circle cx="473.1" cy="52.4" r="2.3"/><circle cx="479.5" cy="35.7" r="2"/><circle cx="467.1" cy="40.1" r="2.1"/><circle cx="474.3" cy="26.3" r="1.9"/><circle cx="471.5" cy="35.1" r="2.1"/><circle cx="456.1" cy="46.9" r="2.6"/><circle cx="478.9" cy="59.8" r="1.9"/><circle cx="458" cy="32" r="2.6"/><circle cx="460" cy="28.9" r="1.8"/><circle cx="483.2" cy="57.8" r="2.1"/><circle cx="469.8" cy="34.7" r="1.9"/><circle cx="462.1" cy="58.1" r="2.5"/><circle cx="471.6" cy="31.1" r="1.8"/><circle cx="481.4" cy="52.6" r="2.7"/><circle cx="460.3" cy="30.9" r="1.9"/><circle cx="476" cy="46.5" r="1.8"/><circle cx="466.3" cy="47.3" r="2.3"/><circle cx="454.5" cy="32.9" r="2.3"/><circle cx="459.1" cy="44.8" r="2"/><circle cx="469.4" cy="59.4" r="2.6"/><circle cx="481.6" cy="46.7" r="2.5"/><circle cx="462.7" cy="56.1" r="1.9"/><circle cx="466.1" cy="43.7" r="2.5"/><circle cx="457.2" cy="36.3" r="2.2"/><circle cx="458.7" cy="38.1" r="1.8"/><circle cx="474.2" cy="63" r="2.7"/></g>
<g fill="#def0fd" stroke="#72bdf2" stroke-width="0.42"><circle cx="491.9" cy="13" r="1.8"/><circle cx="505.2" cy="16.1" r="2.5"/><circle cx="505.3" cy="22.6" r="2.2"/><circle cx="506.1" cy="8.6" r="1.8"/><circle cx="492.5" cy="31.2" r="1.8"/><circle cx="498.7" cy="19.1" r="2.4"/><circle cx="494" cy="30.1" r="2.1"/><circle cx="495.6" cy="2.9" r="2.5"/><circle cx="510.3" cy="14.7" r="2"/><circle cx="507.3" cy="21.4" r="2.7"/><circle cx="490.4" cy="6.4" r="2.6"/><circle cx="511.8" cy="13.9" r="2.5"/><circle cx="497.4" cy="10.2" r="2.4"/><circle cx="510.3" cy="19.5" r="2.6"/><circle cx="496.8" cy="13.2" r="2.2"/><circle cx="484.4" cy="13.4" r="2.3"/><circle cx="491.5" cy="22.6" r="2.3"/><circle cx="493.9" cy="14.9" r="1.8"/><circle cx="489" cy="2.8" r="1.7"/><circle cx="507.4" cy="10.7" r="2.2"/><circle cx="482.6" cy="6.3" r="1.8"/><circle cx="488" cy="11.9" r="2.3"/><circle cx="508.5" cy="17.4" r="2.6"/><circle cx="494.9" cy="17.7" r="2.4"/><circle cx="494.2" cy="10.4" r="2.7"/><circle cx="494" cy="23.6" r="2.1"/><circle cx="506.3" cy="19.3" r="1.7"/><circle cx="491.5" cy="29.5" r="2.4"/><circle cx="485.8" cy="14.5" r="2.1"/><circle cx="499.8" cy="10.3" r="2.6"/><circle cx="510" cy="8.7" r="1.7"/><circle cx="490" cy="9.1" r="2"/><circle cx="510.3" cy="11" r="2.3"/><circle cx="497.1" cy="5.6" r="2.2"/><circle cx="490.4" cy="25.6" r="1.7"/><circle cx="503.7" cy="20.2" r="1.9"/><circle cx="487" cy="24.6" r="2.5"/><circle cx="481.5" cy="12.3" r="2.4"/><circle cx="498.4" cy="3.8" r="1.9"/><circle cx="483.7" cy="18.9" r="2.4"/><circle cx="493.5" cy="8.1" r="2.4"/><circle cx="491.3" cy="3" r="2.4"/><circle cx="484.8" cy="21.6" r="1.7"/><circle cx="494.9" cy="21.3" r="2.2"/><circle cx="485.5" cy="6.1" r="2.2"/><circle cx="502.4" cy="16.4" r="2.7"/><circle cx="501" cy="22" r="2"/><circle cx="486.7" cy="19.6" r="2.1"/><circle cx="485.9" cy="27" r="2.2"/><circle cx="511.6" cy="16.1" r="2.4"/><circle cx="480.3" cy="16" r="2.5"/><circle cx="488.3" cy="17.9" r="2.3"/><circle cx="495.1" cy="8.7" r="2.3"/><circle cx="487" cy="22" r="2.2"/><circle cx="504.1" cy="13.2" r="2.5"/><circle cx="485.3" cy="30.2" r="2.2"/><circle cx="478.5" cy="9.2" r="1.8"/><circle cx="481.1" cy="21" r="2.1"/><circle cx="482.4" cy="9.4" r="2.4"/><circle cx="485.2" cy="17.4" r="2.5"/><circle cx="491.5" cy="10" r="2.4"/><circle cx="489.5" cy="27.2" r="2.3"/><circle cx="496" cy="22.6" r="2.5"/><circle cx="498.4" cy="23.2" r="2.4"/><circle cx="491.6" cy="16.5" r="2.2"/><circle cx="501.6" cy="17.9" r="1.9"/><circle cx="482" cy="24.9" r="2.4"/><circle cx="494.7" cy="5.2" r="2.1"/><circle cx="505.5" cy="24.7" r="2.7"/><circle cx="493.9" cy="13.2" r="2.1"/><circle cx="484.6" cy="11.6" r="2.4"/><circle cx="479.1" cy="7.7" r="2.6"/><circle cx="485.9" cy="3.8" r="1.8"/><circle cx="487.8" cy="14.6" r="1.9"/><circle cx="493.7" cy="27.3" r="2.5"/><circle cx="484.8" cy="25.5" r="2.5"/><circle cx="496.6" cy="27.6" r="1.9"/><circle cx="487.5" cy="6.4" r="2.4"/><circle cx="483.7" cy="24.1" r="2.2"/><circle cx="507.5" cy="23.2" r="1.8"/><circle cx="502.8" cy="26.3" r="2.1"/><circle cx="497.3" cy="7.9" r="2.1"/><circle cx="484.5" cy="28.2" r="2.2"/><circle cx="490" cy="15.7" r="2.3"/><circle cx="496.3" cy="15.6" r="2.7"/><circle cx="480.6" cy="18.6" r="2.3"/><circle cx="500" cy="6.8" r="1.9"/><circle cx="504.3" cy="18.8" r="1.8"/><circle cx="500.4" cy="27.6" r="2.7"/><circle cx="485.4" cy="8.2" r="2.3"/><circle cx="487" cy="16.8" r="2"/><circle cx="501.9" cy="14.3" r="2.2"/><circle cx="505.3" cy="10.9" r="1.8"/><circle cx="508.3" cy="15.5" r="2.2"/><circle cx="488.6" cy="23.6" r="2"/><circle cx="482.3" cy="22.7" r="2.6"/><circle cx="482.4" cy="29.7" r="2.6"/><circle cx="502.7" cy="23.7" r="2.1"/><circle cx="496.5" cy="18.3" r="2.5"/><circle cx="507" cy="7.3" r="1.8"/><circle cx="501.8" cy="6.9" r="2.5"/><circle cx="482.2" cy="17.3" r="1.8"/><circle cx="504.4" cy="6.5" r="1.8"/><circle cx="497.7" cy="25.8" r="2.1"/><circle cx="488.7" cy="21.7" r="2.6"/><circle cx="488.2" cy="31.3" r="1.7"/><circle cx="495.9" cy="6.7" r="2.4"/><circle cx="509.3" cy="20.9" r="1.9"/><circle cx="479" cy="14.3" r="2.2"/><circle cx="510.6" cy="17.5" r="2.4"/><circle cx="495" cy="25.5" r="2.6"/><circle cx="483.7" cy="5" r="2.6"/><circle cx="489.9" cy="28.9" r="2.4"/><circle cx="487.6" cy="28.4" r="2.6"/><circle cx="493.4" cy="3.4" r="2.1"/><circle cx="480.7" cy="6.2" r="2"/><circle cx="499.4" cy="15.7" r="1.9"/><circle cx="490" cy="18.2" r="1.8"/><circle cx="489.5" cy="13" r="2.6"/><circle cx="481.8" cy="14.8" r="2.6"/><circle cx="506.7" cy="12.5" r="1.8"/><circle cx="483.5" cy="16.1" r="2.3"/><circle cx="491" cy="11.5" r="2"/><circle cx="497.8" cy="17.1" r="2.2"/><circle cx="488.9" cy="19.4" r="1.9"/><circle cx="508.7" cy="11.9" r="1.8"/><circle cx="489.4" cy="4.8" r="2.2"/><circle cx="511.3" cy="12.2" r="2.6"/><circle cx="508.5" cy="8" r="2.2"/><circle cx="504.3" cy="9" r="2.7"/><circle cx="499.9" cy="20.7" r="2.7"/><circle cx="486.6" cy="9.7" r="1.8"/><circle cx="505.9" cy="13.9" r="2.3"/><circle cx="492.6" cy="25.1" r="2.7"/><circle cx="490.9" cy="20.8" r="2.2"/><circle cx="479.8" cy="12.8" r="2.1"/><circle cx="484.3" cy="9.7" r="2.6"/><circle cx="508.3" cy="19.1" r="2.7"/><circle cx="482.8" cy="27.9" r="2.4"/><circle cx="501.1" cy="5.2" r="2.6"/><circle cx="491.7" cy="5.4" r="2"/><circle cx="487.2" cy="8.1" r="2.2"/><circle cx="493.2" cy="22.1" r="1.9"/><circle cx="501.4" cy="12.2" r="2.6"/><circle cx="496.3" cy="20.1" r="1.9"/><circle cx="498.8" cy="13.8" r="2.2"/><circle cx="500.9" cy="24.8" r="2.3"/><circle cx="498.7" cy="12" r="2.1"/><circle cx="482.5" cy="20.3" r="1.9"/><circle cx="502.3" cy="8.8" r="1.8"/><circle cx="496.4" cy="24.4" r="2.2"/><circle cx="497.9" cy="21.4" r="2.3"/><circle cx="503.6" cy="14.9" r="2.1"/><circle cx="498.3" cy="28.3" r="1.8"/><circle cx="493.4" cy="20.3" r="2.2"/><circle cx="499.7" cy="8.5" r="2.1"/><circle cx="495.3" cy="28.6" r="2"/><circle cx="495.9" cy="11.6" r="1.9"/><circle cx="501.6" cy="20" r="2"/><circle cx="492.7" cy="11.4" r="2.2"/><circle cx="493.4" cy="17" r="2.6"/><circle cx="483" cy="11.3" r="2.7"/><circle cx="492.2" cy="28.1" r="2.2"/><circle cx="486.9" cy="32.4" r="1.8"/><circle cx="485.5" cy="23.1" r="2.2"/><circle cx="492.4" cy="6.9" r="2.5"/><circle cx="480.3" cy="8.8" r="1.9"/><circle cx="490.7" cy="31.4" r="2"/><circle cx="492" cy="18.9" r="2.1"/><circle cx="502.7" cy="10.8" r="2"/><circle cx="496.7" cy="29.5" r="2.3"/><circle cx="506.1" cy="17.6" r="2.3"/><circle cx="477.5" cy="11" r="2.1"/><circle cx="486.4" cy="12.4" r="2.2"/><circle cx="503.2" cy="22.1" r="2.5"/><circle cx="488.5" cy="25.5" r="2.1"/><circle cx="488.4" cy="10.1" r="2.4"/><circle cx="506.7" cy="15.3" r="2.1"/><circle cx="479.6" cy="11.1" r="2.4"/><circle cx="487.6" cy="4.8" r="2"/><circle cx="492.2" cy="14.8" r="2"/><circle cx="487.2" cy="2.6" r="2.4"/><circle cx="502.7" cy="5.2" r="1.8"/><circle cx="505.2" cy="20.9" r="2.4"/></g>
<g fill="#efe8fd" stroke="#c6b1f5" stroke-width="0.42"><circle cx="488.8" cy="52.9" r="2.4"/><circle cx="499.2" cy="47.9" r="2"/><circle cx="503.6" cy="50.7" r="2.1"/><circle cx="507.9" cy="72.9" r="1.9"/><circle cx="512.5" cy="55.1" r="2"/><circle cx="489" cy="67.2" r="1.9"/><circle cx="495.6" cy="58.1" r="1.7"/><circle cx="508.4" cy="66" r="2.3"/><circle cx="499.4" cy="40.2" r="2"/><circle cx="510.2" cy="65.6" r="2.3"/><circle cx="494.8" cy="73" r="2.6"/><circle cx="504.9" cy="54.3" r="2.2"/><circle cx="493.3" cy="47.1" r="2.5"/><circle cx="500.7" cy="45.6" r="2.3"/><circle cx="499.4" cy="59" r="1.7"/><circle cx="494.3" cy="34.6" r="2.2"/><circle cx="497.8" cy="69.8" r="1.8"/><circle cx="497.5" cy="45" r="2.6"/><circle cx="501.1" cy="73.5" r="1.9"/><circle cx="491.5" cy="37.1" r="2.5"/><circle cx="500.6" cy="63.3" r="2.2"/><circle cx="493.4" cy="40.3" r="1.8"/><circle cx="490.8" cy="57.2" r="2.4"/><circle cx="493.8" cy="53.5" r="2.6"/><circle cx="504" cy="67.5" r="2.2"/><circle cx="502.2" cy="33.3" r="1.7"/><circle cx="505.9" cy="73.1" r="2.4"/><circle cx="516.6" cy="58.4" r="2.7"/><circle cx="498.8" cy="51.8" r="1.8"/><circle cx="506.4" cy="49.5" r="2.6"/><circle cx="509.3" cy="70.8" r="2.7"/><circle cx="489.5" cy="54.6" r="1.9"/><circle cx="502.8" cy="57" r="2.5"/><circle cx="501.6" cy="61" r="2.3"/><circle cx="506.9" cy="63.7" r="1.8"/><circle cx="498.3" cy="53.6" r="2.3"/><circle cx="493.3" cy="44.7" r="2"/><circle cx="502.2" cy="40.3" r="1.9"/><circle cx="502.4" cy="69.7" r="1.9"/><circle cx="493.3" cy="64.2" r="2.5"/><circle cx="512" cy="68.9" r="2.2"/><circle cx="490.9" cy="69" r="1.9"/><circle cx="506.5" cy="51.1" r="1.9"/><circle cx="505.1" cy="36.9" r="2.5"/><circle cx="503.6" cy="48" r="2.4"/><circle cx="507.8" cy="60.5" r="2.3"/><circle cx="496.5" cy="63.9" r="1.9"/><circle cx="492.7" cy="50.2" r="2.5"/><circle cx="505.6" cy="61.8" r="2.5"/><circle cx="493.7" cy="66.2" r="1.9"/><circle cx="493.9" cy="57.5" r="2.4"/><circle cx="490.2" cy="47.4" r="2.3"/><circle cx="498.9" cy="67" r="2.7"/><circle cx="504.5" cy="56" r="2.4"/><circle cx="490.3" cy="60" r="1.9"/><circle cx="496.5" cy="35.7" r="2.6"/><circle cx="509.8" cy="42.9" r="2.2"/><circle cx="512.5" cy="64.7" r="2.5"/><circle cx="498.7" cy="56.9" r="2.4"/><circle cx="494.1" cy="38.8" r="2.6"/><circle cx="496.2" cy="41.1" r="2.3"/><circle cx="502.2" cy="51.7" r="2.1"/><circle cx="493.7" cy="37" r="2.3"/><circle cx="506.2" cy="47.2" r="2"/><circle cx="494.9" cy="32.7" r="2.1"/><circle cx="487.6" cy="64.5" r="2.2"/><circle cx="490.7" cy="66.5" r="2"/><circle cx="501.3" cy="37.4" r="2.1"/><circle cx="502.7" cy="75.1" r="2.7"/><circle cx="497.3" cy="33.3" r="2.2"/><circle cx="513" cy="52.2" r="2.7"/><circle cx="491" cy="61.7" r="1.8"/><circle cx="515.2" cy="51.6" r="2.4"/><circle cx="513.8" cy="70" r="2.1"/><circle cx="516.7" cy="55" r="1.8"/><circle cx="501.1" cy="43.2" r="2"/><circle cx="490.5" cy="43" r="2.1"/><circle cx="495.9" cy="68.7" r="2.6"/><circle cx="498.2" cy="65.3" r="2.1"/><circle cx="494.2" cy="55.9" r="2.6"/><circle cx="499.4" cy="36.3" r="2.3"/><circle cx="494.1" cy="30.2" r="2"/><circle cx="494.3" cy="48.6" r="2.5"/><circle cx="515.6" cy="63.7" r="2.6"/><circle cx="504.7" cy="39.2" r="2.5"/><circle cx="508.6" cy="62.7" r="2"/><circle cx="502.7" cy="63.6" r="2.1"/><circle cx="510" cy="45.2" r="2.7"/><circle cx="511.9" cy="49.1" r="2.4"/><circle cx="500.5" cy="50.7" r="1.9"/><circle cx="490.8" cy="40.7" r="1.7"/><circle cx="496.9" cy="37.3" r="1.9"/><circle cx="487.9" cy="59.2" r="1.8"/><circle cx="491.8" cy="39.1" r="1.8"/><circle cx="499.9" cy="55.7" r="1.9"/><circle cx="505.7" cy="45" r="2"/><circle cx="514.4" cy="54.1" r="2.6"/><circle cx="499.1" cy="42.8" r="2.6"/><circle cx="502.1" cy="44.8" r="2.5"/><circle cx="496.1" cy="49.5" r="2.3"/><circle cx="498.4" cy="50.1" r="1.9"/><circle cx="507.1" cy="53.6" r="2.1"/><circle cx="502.1" cy="59.2" r="2.6"/><circle cx="514.2" cy="61.9" r="2.3"/><circle cx="504.1" cy="65.4" r="2.2"/><circle cx="510.5" cy="51" r="2.3"/><circle cx="510" cy="56.7" r="2.5"/><circle cx="514.5" cy="66.7" r="2.4"/><circle cx="508" cy="41.1" r="2.1"/><circle cx="497" cy="60.9" r="1.8"/><circle cx="501.4" cy="65.5" r="2.1"/><circle cx="489" cy="62" r="2.6"/><circle cx="509" cy="50.4" r="1.7"/><circle cx="506.9" cy="43.3" r="2.5"/><circle cx="494.7" cy="43.6" r="2.7"/><circle cx="492.1" cy="42.5" r="1.8"/><circle cx="516.1" cy="66.2" r="2.1"/><circle cx="503.4" cy="62.1" r="2.6"/><circle cx="503.6" cy="43.3" r="2.5"/><circle cx="497.2" cy="58.3" r="2.3"/><circle cx="496" cy="70.5" r="1.7"/><circle cx="503.9" cy="72.7" r="2.6"/><circle cx="509.4" cy="67.6" r="2.3"/><circle cx="490.7" cy="64.2" r="2.6"/><circle cx="491.9" cy="53.7" r="2.6"/><circle cx="507.4" cy="56.2" r="2.4"/><circle cx="495.2" cy="60.4" r="2.1"/><circle cx="504.4" cy="46.5" r="2.6"/><circle cx="506.1" cy="68.3" r="2"/><circle cx="516.2" cy="61.6" r="1.8"/><circle cx="499.6" cy="34.4" r="2.4"/><circle cx="493.2" cy="59.4" r="2.2"/><circle cx="490.6" cy="49.3" r="1.9"/><circle cx="492.3" cy="56.6" r="1.7"/><circle cx="500.3" cy="68.9" r="2"/><circle cx="501" cy="52.9" r="2.2"/><circle cx="512" cy="70.8" r="1.8"/><circle cx="492.8" cy="62.1" r="1.9"/><circle cx="506.7" cy="66" r="1.8"/><circle cx="494.5" cy="62.4" r="1.9"/><circle cx="502.4" cy="46.5" r="2.7"/><circle cx="498.9" cy="32.5" r="2.5"/><circle cx="511.3" cy="61.2" r="2.3"/><circle cx="513.6" cy="56.6" r="1.8"/><circle cx="488.5" cy="49.6" r="2.4"/><circle cx="518.1" cy="59.3" r="1.9"/><circle cx="505.7" cy="60" r="2.6"/><circle cx="509.3" cy="55.1" r="2.3"/><circle cx="509.6" cy="61" r="1.9"/><circle cx="506" cy="70.2" r="2"/><circle cx="496" cy="74" r="2.2"/><circle cx="510.6" cy="46.9" r="2.2"/><circle cx="502.6" cy="38.3" r="2.3"/><circle cx="504.8" cy="49.4" r="2.4"/><circle cx="497.2" cy="46.7" r="2.3"/><circle cx="500.6" cy="71.3" r="2.6"/><circle cx="510.1" cy="53.2" r="2.2"/><circle cx="496.5" cy="66.8" r="2.7"/><circle cx="500.8" cy="48.5" r="1.9"/><circle cx="507.9" cy="44.7" r="1.9"/><circle cx="491.6" cy="44.7" r="2.3"/><circle cx="512.2" cy="67.3" r="1.7"/><circle cx="502" cy="67.7" r="1.8"/><circle cx="498.6" cy="37.9" r="2.5"/><circle cx="503.7" cy="52.9" r="2.2"/><circle cx="502.1" cy="35.7" r="2.4"/><circle cx="504.2" cy="41.7" r="2.6"/><circle cx="495.3" cy="52" r="2.2"/><circle cx="515.7" cy="57.1" r="2.5"/><circle cx="511" cy="58.1" r="2.5"/><circle cx="510" cy="48.5" r="2.6"/><circle cx="491.1" cy="51.1" r="2.1"/><circle cx="513.1" cy="59.3" r="2.2"/><circle cx="492.6" cy="70.8" r="2.3"/><circle cx="507.8" cy="67.8" r="2"/><circle cx="501.5" cy="54.6" r="1.9"/><circle cx="496.1" cy="53.5" r="2.2"/><circle cx="497.9" cy="73.5" r="2.5"/><circle cx="488.2" cy="55.7" r="2.4"/><circle cx="495" cy="47.1" r="2.3"/><circle cx="498.7" cy="63.8" r="1.7"/><circle cx="497.4" cy="55.5" r="2.3"/><circle cx="502.4" cy="49.5" r="2.1"/><circle cx="507.1" cy="38.9" r="2.4"/><circle cx="508" cy="58.7" r="1.8"/><circle cx="499.2" cy="61.3" r="2.1"/><circle cx="495.2" cy="45.3" r="2.1"/><circle cx="489" cy="44.3" r="2.4"/><circle cx="507.9" cy="48.3" r="2.4"/><circle cx="503.6" cy="71.1" r="2.5"/><circle cx="505.8" cy="57" r="2.4"/><circle cx="502.1" cy="31.5" r="2.1"/><circle cx="492.8" cy="34" r="1.8"/><circle cx="497.1" cy="39.6" r="2.3"/><circle cx="488.9" cy="57.8" r="1.8"/><circle cx="503.7" cy="60" r="2.3"/><circle cx="492.9" cy="73.9" r="2"/><circle cx="506" cy="41" r="2.4"/><circle cx="493" cy="67.8" r="2.2"/><circle cx="507.8" cy="70.6" r="2.4"/><circle cx="496.8" cy="51.1" r="1.7"/><circle cx="497.5" cy="31" r="1.8"/><circle cx="503.4" cy="36.6" r="1.8"/><circle cx="500.4" cy="57.4" r="2.4"/><circle cx="503.8" cy="34.2" r="2.2"/><circle cx="513.7" cy="50.2" r="1.8"/><circle cx="518.6" cy="62.6" r="2.2"/><circle cx="499.2" cy="44.4" r="2.5"/><circle cx="489.3" cy="65.2" r="2"/><circle cx="494.2" cy="69.6" r="2"/><circle cx="497.7" cy="71.8" r="1.9"/><circle cx="494.4" cy="50.5" r="2.5"/><circle cx="508.1" cy="52" r="2.2"/><circle cx="516" cy="59.9" r="2.2"/><circle cx="510.5" cy="63" r="2.3"/><circle cx="517.2" cy="64.4" r="2"/><circle cx="505.4" cy="52.5" r="1.7"/><circle cx="496.8" cy="43.4" r="2.4"/><circle cx="499.2" cy="74.5" r="2.5"/><circle cx="504.6" cy="69.3" r="2.1"/><circle cx="489" cy="46" r="2.4"/><circle cx="500.6" cy="38.9" r="2.6"/><circle cx="498.9" cy="46.2" r="2.6"/><circle cx="495.9" cy="56.4" r="2.3"/><circle cx="495.8" cy="31.4" r="1.9"/><circle cx="493.1" cy="51.9" r="1.8"/><circle cx="510.3" cy="69.1" r="1.8"/><circle cx="508.7" cy="69.2" r="2.2"/><circle cx="512.4" cy="62.8" r="2.6"/><circle cx="502.3" cy="42.1" r="1.8"/><circle cx="512.2" cy="47.5" r="2.2"/><circle cx="493.7" cy="41.9" r="2.7"/><circle cx="495.4" cy="65.1" r="1.7"/><circle cx="504.3" cy="74.7" r="2.3"/><circle cx="513.9" cy="63.6" r="2.3"/><circle cx="495.8" cy="38.6" r="2.6"/><circle cx="511.8" cy="53.3" r="2.7"/><circle cx="492.2" cy="48.5" r="1.9"/><circle cx="516" cy="53" r="2.1"/><circle cx="499.5" cy="72.5" r="1.7"/><circle cx="493.3" cy="32.4" r="2.1"/><circle cx="504.9" cy="58.6" r="1.7"/><circle cx="511.6" cy="56.5" r="2"/><circle cx="502.2" cy="72" r="2.1"/><circle cx="497.9" cy="62.3" r="1.7"/><circle cx="497.3" cy="48.3" r="2.4"/><circle cx="500.3" cy="31.1" r="1.7"/><circle cx="514.6" cy="68.5" r="2.7"/><circle cx="509.7" cy="59.4" r="2.6"/><circle cx="504.9" cy="63.5" r="2"/><circle cx="503.3" cy="54.6" r="2.5"/><circle cx="508.9" cy="47" r="2"/><circle cx="492.3" cy="35.6" r="2.7"/><circle cx="515" cy="55.6" r="1.9"/><circle cx="500.6" cy="33" r="2.6"/></g>
<g fill="#e6e6e6" stroke="#a9a9a9" stroke-width="0.42"><circle cx="523" cy="25.1" r="1.7"/><circle cx="504.3" cy="33" r="2.3"/><circle cx="511.3" cy="38.6" r="1.9"/><circle cx="505.8" cy="40" r="2.3"/><circle cx="508.8" cy="24.4" r="2"/><circle cx="507.9" cy="29.2" r="2.1"/><circle cx="519" cy="35.4" r="1.8"/><circle cx="523.2" cy="32.6" r="1.7"/><circle cx="522.3" cy="51.5" r="2"/><circle cx="521.6" cy="22.7" r="2.6"/><circle cx="521.4" cy="33.1" r="2.5"/><circle cx="517.1" cy="23.4" r="2.4"/><circle cx="526.1" cy="37.9" r="2.2"/><circle cx="525.7" cy="29.6" r="2.6"/><circle cx="526.2" cy="46.5" r="2.4"/><circle cx="522.8" cy="53.1" r="2.4"/><circle cx="512.4" cy="28" r="2.2"/><circle cx="508.7" cy="38.8" r="2"/><circle cx="528.3" cy="29.4" r="1.9"/><circle cx="513.1" cy="52" r="2.3"/><circle cx="517.2" cy="38.8" r="1.8"/><circle cx="526.2" cy="39.8" r="2.7"/><circle cx="527.3" cy="43.2" r="2.3"/><circle cx="529.6" cy="36.5" r="2.1"/><circle cx="519.2" cy="54.4" r="1.8"/><circle cx="510.2" cy="40.2" r="2.1"/><circle cx="517" cy="47.6" r="1.9"/><circle cx="510.1" cy="42.7" r="1.7"/><circle cx="524.7" cy="35.8" r="1.9"/><circle cx="516.8" cy="42.2" r="1.9"/><circle cx="510.5" cy="22.8" r="1.9"/><circle cx="507.6" cy="42.3" r="2"/><circle cx="511.3" cy="46" r="2.7"/><circle cx="519.9" cy="48.8" r="2.4"/><circle cx="524.9" cy="42.2" r="2"/><circle cx="515.3" cy="47.8" r="2.1"/><circle cx="528.2" cy="39.4" r="2.2"/><circle cx="524.4" cy="38.3" r="2.1"/><circle cx="507.1" cy="25.4" r="1.9"/><circle cx="513.9" cy="47.1" r="1.8"/><circle cx="519.9" cy="56" r="2.3"/><circle cx="525.8" cy="53.3" r="2.7"/><circle cx="515.5" cy="32.3" r="1.7"/><circle cx="531.9" cy="41" r="1.8"/><circle cx="514.4" cy="53.4" r="2.6"/><circle cx="506" cy="44.9" r="1.9"/><circle cx="522.5" cy="26.8" r="2.1"/><circle cx="503.1" cy="36" r="2.2"/><circle cx="509.5" cy="51.7" r="2.1"/><circle cx="526.5" cy="50.6" r="2"/><circle cx="515.1" cy="25.8" r="2.5"/><circle cx="507.3" cy="32.3" r="2.2"/><circle cx="513.1" cy="32" r="2.5"/><circle cx="527" cy="48.5" r="2.7"/><circle cx="505" cy="27.1" r="1.8"/><circle cx="520.5" cy="38.3" r="2"/><circle cx="522.7" cy="43.2" r="1.8"/><circle cx="517.1" cy="33.5" r="1.8"/><circle cx="516.7" cy="21.1" r="1.9"/><circle cx="517.2" cy="29.5" r="2.1"/><circle cx="522.2" cy="30.4" r="2.4"/><circle cx="511.6" cy="44.3" r="2.1"/><circle cx="513.1" cy="56.1" r="2.5"/><circle cx="512.7" cy="21" r="1.9"/><circle cx="518.8" cy="28.6" r="2.2"/><circle cx="525.3" cy="44.1" r="1.9"/><circle cx="527.5" cy="41" r="2.4"/><circle cx="518.7" cy="22.3" r="2.5"/><circle cx="526.1" cy="28" r="1.7"/><circle cx="518.7" cy="43.5" r="2.3"/><circle cx="522.5" cy="49.8" r="2.4"/><circle cx="507.7" cy="45.8" r="1.9"/><circle cx="511.1" cy="20.5" r="2.6"/><circle cx="511.5" cy="36.2" r="2.2"/><circle cx="510.4" cy="31.7" r="2.1"/><circle cx="504.2" cy="37.8" r="2.2"/><circle cx="508.7" cy="37.2" r="2.2"/><circle cx="529" cy="46.9" r="2.2"/><circle cx="515" cy="38.5" r="1.9"/><circle cx="519.6" cy="41" r="1.8"/><circle cx="516.3" cy="52.8" r="2.1"/><circle cx="505.3" cy="42.8" r="2.2"/><circle cx="520.8" cy="24.8" r="2.6"/><circle cx="514.7" cy="20.4" r="1.8"/><circle cx="516" cy="44.5" r="2.6"/><circle cx="525.1" cy="51.8" r="2.1"/><circle cx="514.7" cy="34.4" r="2.6"/><circle cx="516.4" cy="56.5" r="2.1"/><circle cx="508" cy="22" r="2"/><circle cx="529.1" cy="41.4" r="1.7"/><circle cx="519.9" cy="32.5" r="2.3"/><circle cx="523.6" cy="45.5" r="2.5"/><circle cx="515.2" cy="55" r="1.9"/><circle cx="529.6" cy="31.3" r="2.2"/><circle cx="510.4" cy="50.2" r="1.9"/><circle cx="518.5" cy="50.7" r="2.5"/><circle cx="512.4" cy="54.6" r="2"/><circle cx="512.7" cy="49.6" r="2"/><circle cx="517.8" cy="31.7" r="2.6"/><circle cx="508.7" cy="34.8" r="2"/><circle cx="514" cy="43.7" r="2.1"/><circle cx="515.7" cy="36.8" r="2.5"/><circle cx="507.6" cy="48.5" r="2.5"/><circle cx="508.3" cy="50.2" r="2.2"/><circle cx="513" cy="39.2" r="2.4"/><circle cx="509.1" cy="44.5" r="2.5"/><circle cx="525.1" cy="25.8" r="1.8"/><circle cx="530.7" cy="33.9" r="2.3"/><circle cx="521.9" cy="55.6" r="1.8"/><circle cx="514.5" cy="40.4" r="2"/><circle cx="511.4" cy="30.1" r="1.9"/><circle cx="526.6" cy="32" r="2.3"/><circle cx="518.7" cy="46.4" r="2.7"/><circle cx="519.4" cy="25.9" r="2.4"/><circle cx="520.2" cy="47.2" r="2.4"/><circle cx="521.8" cy="41.6" r="2.1"/><circle cx="509.8" cy="28.9" r="1.8"/><circle cx="516.8" cy="40.4" r="2.2"/><circle cx="531.5" cy="35.5" r="1.8"/><circle cx="521.1" cy="28" r="2.6"/><circle cx="524.2" cy="49.5" r="2"/><circle cx="525.9" cy="34.3" r="2.1"/><circle cx="522.6" cy="36.6" r="2.7"/><circle cx="505.8" cy="38.2" r="2"/><circle cx="511.8" cy="40.7" r="1.9"/><circle cx="508.9" cy="47.1" r="1.8"/><circle cx="517.2" cy="45.6" r="2.6"/><circle cx="506.5" cy="35.5" r="2.6"/><circle cx="523" cy="47.9" r="1.9"/><circle cx="514.2" cy="28" r="1.8"/><circle cx="513.3" cy="23.4" r="2.6"/><circle cx="515.7" cy="49.6" r="1.9"/><circle cx="530.8" cy="46.1" r="2.3"/><circle cx="511.6" cy="26.5" r="2"/><circle cx="511.1" cy="47.8" r="2.1"/><circle cx="520.6" cy="34.8" r="2.1"/><circle cx="511.9" cy="24.5" r="2.7"/><circle cx="509" cy="30.5" r="1.8"/><circle cx="523.3" cy="28.2" r="2.6"/><circle cx="520.6" cy="52.9" r="2.1"/><circle cx="505.8" cy="29.8" r="1.8"/><circle cx="527.6" cy="36.5" r="1.8"/><circle cx="510" cy="53.3" r="2.3"/><circle cx="508.5" cy="27.6" r="2.3"/><circle cx="519.7" cy="30.6" r="2.3"/><circle cx="518.7" cy="23.9" r="2.3"/><circle cx="505.8" cy="23.8" r="2.3"/><circle cx="516.6" cy="26.8" r="1.7"/><circle cx="529.8" cy="44.3" r="2.7"/><circle cx="506.1" cy="33.5" r="2.5"/><circle cx="522" cy="45.8" r="1.8"/><circle cx="516.9" cy="25.1" r="2.1"/><circle cx="527.6" cy="33.4" r="1.9"/><circle cx="524.1" cy="33.9" r="2"/><circle cx="518.2" cy="48.9" r="2"/><circle cx="528.9" cy="48.7" r="2"/><circle cx="512.3" cy="33.9" r="2"/><circle cx="505.2" cy="31.3" r="2.1"/><circle cx="530.5" cy="39.4" r="2.3"/><circle cx="522.7" cy="38.4" r="2.4"/><circle cx="524.8" cy="47.6" r="2.2"/><circle cx="520.3" cy="44.9" r="2.4"/><circle cx="526.9" cy="45" r="1.8"/><circle cx="520.1" cy="50.5" r="2.7"/><circle cx="503.9" cy="29.2" r="2"/><circle cx="520.7" cy="42.9" r="1.8"/><circle cx="515.2" cy="22.8" r="2.6"/><circle cx="523.4" cy="40.9" r="2.2"/><circle cx="507.4" cy="40.6" r="2.4"/><circle cx="505.9" cy="46.5" r="2.2"/><circle cx="517.5" cy="36.5" r="1.9"/><circle cx="528.3" cy="50.4" r="2.1"/><circle cx="514" cy="36.9" r="2.6"/><circle cx="513.5" cy="41.9" r="2.4"/><circle cx="514.3" cy="30.4" r="1.8"/><circle cx="506.8" cy="27.5" r="2.3"/><circle cx="531.4" cy="37.9" r="2.7"/><circle cx="523.4" cy="23.4" r="2.4"/><circle cx="523.9" cy="54.8" r="2.2"/><circle cx="508.9" cy="32.6" r="2.5"/><circle cx="517.5" cy="54.7" r="1.9"/><circle cx="530.7" cy="42" r="2.4"/><circle cx="527.2" cy="52.3" r="1.9"/><circle cx="518.7" cy="37.7" r="1.8"/><circle cx="505.1" cy="36.3" r="2.3"/><circle cx="503.6" cy="34.5" r="2.1"/><circle cx="525.1" cy="24.1" r="2.4"/><circle cx="513.1" cy="45.5" r="2.4"/><circle cx="520.1" cy="57.7" r="2.2"/><circle cx="515.1" cy="42.2" r="2.2"/><circle cx="532.2" cy="43" r="2.7"/><circle cx="514.9" cy="51.8" r="2.4"/><circle cx="529.2" cy="38.1" r="2.1"/><circle cx="513.3" cy="26" r="1.8"/><circle cx="514.9" cy="45.7" r="2.5"/><circle cx="527.8" cy="27.6" r="2.6"/><circle cx="510.5" cy="33.7" r="1.7"/><circle cx="513.1" cy="35.4" r="2.7"/><circle cx="509.9" cy="35.9" r="2.4"/><circle cx="509.4" cy="21.1" r="2.6"/><circle cx="518.2" cy="52.6" r="2.5"/></g>
<path d="M500 40C500 40.1 500.1 40.3 500 40.4C500 40.6 499.9 40.7 499.8 40.9C499.7 41 499.6 41.2 499.4 41.3C499.2 41.5 499.1 41.7 498.9 41.8C498.7 42 498.5 42.2 498.3 42.4C498.1 42.5 497.9 42.7 497.7 42.9C497.5 43 497.3 43.2 497.2 43.4C497 43.5 496.9 43.7 496.8 43.9C496.7 44 496.6 44.1 496.5 44.3C496.5 44.4 496.5 44.6 496.5 44.7" stroke="#806da6" stroke-width="1.08" fill="none" stroke-linecap="round"/>
<path d="M501.8 47.2C501.8 47.3 501.8 47.4 501.7 47.6C501.7 47.7 501.6 47.9 501.5 48C501.4 48.2 501.3 48.3 501.1 48.5C501 48.6 500.8 48.8 500.6 49C500.4 49.2 500.2 49.3 500 49.5C499.8 49.7 499.6 49.8 499.4 50C499.2 50.2 499 50.4 498.9 50.5C498.7 50.7 498.6 50.8 498.5 51C498.4 51.1 498.3 51.3 498.3 51.4C498.2 51.6 498.2 51.7 498.2 51.8" stroke="#7d69a5" stroke-width="1.08" fill="none" stroke-linecap="round"/>
<path d="M503.5 54.3C503.5 54.4 503.5 54.6 503.5 54.7C503.4 54.9 503.3 55 503.2 55.1C503.1 55.3 503 55.5 502.8 55.6C502.7 55.8 502.5 56 502.3 56.1C502.1 56.3 501.9 56.5 501.7 56.6C501.5 56.8 501.3 57 501.1 57.2C500.9 57.3 500.8 57.5 500.6 57.7C500.4 57.8 500.3 58 500.2 58.1C500.1 58.3 500 58.4 500 58.6C499.9 58.7 500 58.9 500 59" stroke="#7b66a4" stroke-width="1.08" fill="none" stroke-linecap="round"/>
<path d="M494.8 37.5C494.8 37.6 494.9 37.8 495 37.9C495.1 38 495.2 38.1 495.4 38.1C495.6 38.2 495.8 38.3 496 38.4C496.2 38.5 496.4 38.5 496.7 38.6C496.9 38.7 497.2 38.7 497.4 38.8C497.7 38.9 497.9 38.9 498.2 39C498.4 39 498.7 39.1 498.9 39.2C499.1 39.3 499.3 39.3 499.5 39.4C499.6 39.5 499.8 39.6 499.9 39.7C500 39.8 500 40 500 40" stroke="#ba9eef" stroke-width="1.8" fill="none" stroke-linecap="round"/>
<path d="M496.5 44.7C496.6 44.7 496.6 44.9 496.7 45C496.8 45.1 497 45.2 497.1 45.3C497.3 45.4 497.5 45.4 497.7 45.5C497.9 45.6 498.1 45.7 498.4 45.7C498.6 45.8 498.9 45.9 499.1 45.9C499.4 46 499.7 46.1 499.9 46.1C500.1 46.2 500.4 46.3 500.6 46.3C500.8 46.4 501 46.5 501.2 46.6C501.3 46.7 501.5 46.8 501.6 46.9C501.7 47 501.7 47.1 501.8 47.2" stroke="#b699ed" stroke-width="1.8" fill="none" stroke-linecap="round"/>
<path d="M498.2 51.8C498.3 51.9 498.3 52 498.4 52.1C498.5 52.2 498.7 52.3 498.8 52.4C499 52.5 499.2 52.6 499.4 52.7C499.6 52.7 499.9 52.8 500.1 52.9C500.3 52.9 500.6 53 500.9 53.1C501.1 53.1 501.4 53.2 501.6 53.3C501.9 53.3 502.1 53.4 502.3 53.5C502.5 53.6 502.7 53.6 502.9 53.7C503 53.8 503.2 53.9 503.3 54C503.4 54.1 503.4 54.3 503.5 54.3" stroke="#b295ec" stroke-width="1.8" fill="none" stroke-linecap="round"/>
<path d="M500 59C500 59 500 59.2 500.1 59.3C500.2 59.4 500.4 59.5 500.5 59.6C500.7 59.7 500.9 59.7 501.1 59.8C501.3 59.9 501.6 60 501.8 60C502.1 60.1 502.3 60.1 502.6 60.2C502.8 60.3 503.1 60.3 503.3 60.4C503.6 60.5 503.8 60.5 504 60.6C504.2 60.7 504.4 60.8 504.6 60.9C504.8 60.9 504.9 61 505 61.1C505.1 61.2 505.2 61.4 505.2 61.5" stroke="#ae90ea" stroke-width="1.8" fill="none" stroke-linecap="round"/>
<path d="M507.9 39.3C507.9 39.4 508 39.6 507.9 39.7C507.9 39.8 507.8 40 507.8 40.1C507.7 40.3 507.6 40.5 507.4 40.6C507.3 40.8 507.2 41 507 41.2C506.8 41.3 506.7 41.5 506.5 41.7C506.3 41.9 506.2 42.1 506 42.2C505.8 42.4 505.7 42.6 505.6 42.8C505.4 42.9 505.3 43.1 505.2 43.3C505.2 43.4 505.1 43.6 505.1 43.7C505 43.8 505.1 44 505.1 44.1" stroke="#8b7ba9" stroke-width="0.8999999999999999" fill="none" stroke-linecap="round"/>
<path d="M509.9 46.9C509.9 47 510 47.2 509.9 47.3C509.9 47.4 509.8 47.6 509.8 47.7C509.7 47.9 509.6 48.1 509.4 48.2C509.3 48.4 509.2 48.6 509 48.8C508.8 48.9 508.7 49.1 508.5 49.3C508.3 49.5 508.2 49.7 508 49.8C507.8 50 507.7 50.2 507.6 50.4C507.4 50.5 507.3 50.7 507.2 50.9C507.2 51 507.1 51.2 507.1 51.3C507 51.4 507.1 51.6 507.1 51.7" stroke="#8777a8" stroke-width="0.8999999999999999" fill="none" stroke-linecap="round"/>
<path d="M503.1 36.5C503.1 36.6 503.2 36.8 503.3 36.9C503.4 37 503.5 37.1 503.6 37.2C503.8 37.3 504 37.4 504.2 37.4C504.4 37.5 504.6 37.6 504.8 37.7C505 37.8 505.3 37.8 505.5 37.9C505.7 38 506 38 506.2 38.1C506.4 38.2 506.6 38.3 506.8 38.4C507 38.4 507.2 38.5 507.4 38.6C507.5 38.7 507.6 38.8 507.7 38.9C507.8 39 507.9 39.2 507.9 39.3" stroke="#cab4f3" stroke-width="1.5" fill="none" stroke-linecap="round"/>
<path d="M505.1 44.1C505.1 44.2 505.2 44.4 505.3 44.5C505.4 44.6 505.5 44.7 505.6 44.8C505.8 44.9 506 45 506.2 45C506.4 45.1 506.6 45.2 506.8 45.3C507 45.4 507.3 45.4 507.5 45.5C507.7 45.6 508 45.6 508.2 45.7C508.4 45.8 508.6 45.9 508.8 46C509 46 509.2 46.1 509.4 46.2C509.5 46.3 509.6 46.4 509.7 46.5C509.8 46.6 509.9 46.8 509.9 46.9" stroke="#c4aef2" stroke-width="1.5" fill="none" stroke-linecap="round"/>
<path d="M507.1 51.7C507.1 51.8 507.2 52 507.3 52.1C507.4 52.2 507.5 52.3 507.6 52.4C507.8 52.5 508 52.6 508.2 52.6C508.4 52.7 508.6 52.8 508.8 52.9C509 53 509.3 53 509.5 53.1C509.7 53.2 510 53.2 510.2 53.3C510.4 53.4 510.6 53.5 510.8 53.6C511 53.6 511.2 53.7 511.4 53.8C511.5 53.9 511.6 54 511.7 54.1C511.8 54.2 511.9 54.4 511.9 54.5" stroke="#bfa8f0" stroke-width="1.5" fill="none" stroke-linecap="round"/>
<path d="M500 35C501.3 36.2 506 39.5 508 42C510 44.5 512.2 47.8 512 50C511.8 52.2 507.8 54.2 507 55" stroke="#d0a870" stroke-width="0.8" fill="none" stroke-linecap="round" stroke-linejoin="round"/>
<path d="M478.2 43.8C479.5 43.8 483.6 43.7 486 43.6C488.4 43.5 490.8 43.7 492.5 43.2C494.2 42.7 495.7 41.1 496.3 40.7" stroke="#f0a820" stroke-width="1.7" fill="none" stroke-linecap="round" stroke-linejoin="round"/>
<path d="M478.2 47.3C478.8 47.3 480.6 47.5 482 47.6C483.4 47.7 485.6 47.8 486.3 47.8" stroke="#f0b030" stroke-width="1.2" fill="none" stroke-linecap="round" stroke-linejoin="round"/>
<path d="M492.5 31.9C491.4 32.3 486.1 33 485.7 34.4C485.3 35.8 489.5 37.8 490 40C490.5 42.2 490.2 44.8 488.8 47.5C487.4 50.2 481.9 54.4 481.3 56.3C480.7 58.2 484.5 57.8 485 58.8C485.5 59.8 484.5 62 484.4 62.6" stroke="#1a1ae0" stroke-width="1.6" fill="none" stroke-linecap="round" stroke-linejoin="round"/>
<path d="M468.1 64.4C469.1 64.7 472.9 66 473.8 66.3" stroke="#1a1ae0" stroke-width="1.4" fill="none" stroke-linecap="round" stroke-linejoin="round"/>
<path d="M473.8 66.3C474.5 66.7 476.6 67.8 478 68.5C479.4 69.2 481.8 70.3 482.5 70.7" stroke="#6fd6e8" stroke-width="1.1" fill="none" stroke-linecap="round" stroke-linejoin="round"/>
<g fill="#fff0ed" stroke="#f6bab1" stroke-width="0.42"><circle cx="613.7" cy="82.5" r="2.3"/><circle cx="610.5" cy="73" r="2.6"/><circle cx="600.7" cy="71.5" r="2.2"/><circle cx="614" cy="67.7" r="2.1"/><circle cx="614.3" cy="72.6" r="2.3"/><circle cx="620.4" cy="72.3" r="2.7"/><circle cx="611.4" cy="82.5" r="2.5"/><circle cx="596.3" cy="73.6" r="1.9"/><circle cx="622.3" cy="75.5" r="1.7"/><circle cx="606.8" cy="78.7" r="1.9"/><circle cx="616.5" cy="66.7" r="1.9"/><circle cx="621" cy="76.5" r="2.1"/><circle cx="605.8" cy="81.6" r="2"/><circle cx="616.1" cy="74.3" r="2.2"/><circle cx="602.7" cy="78.7" r="1.9"/><circle cx="608.7" cy="62.5" r="1.9"/><circle cx="604" cy="62.4" r="2.7"/><circle cx="619.3" cy="73.5" r="2.5"/><circle cx="601.5" cy="69.5" r="1.7"/><circle cx="596.5" cy="80.5" r="2.6"/><circle cx="607" cy="84.7" r="2.6"/><circle cx="611.6" cy="80.5" r="2"/><circle cx="596.9" cy="69" r="2.5"/><circle cx="608" cy="81.1" r="2.1"/><circle cx="618.9" cy="67.7" r="1.9"/><circle cx="619.8" cy="70.2" r="2.1"/><circle cx="613.3" cy="70.3" r="2"/><circle cx="612.3" cy="74.5" r="2.2"/><circle cx="601.2" cy="67.2" r="2.4"/><circle cx="618.1" cy="81.4" r="2.5"/><circle cx="600.3" cy="80.7" r="2"/><circle cx="611.6" cy="67.3" r="2.3"/><circle cx="606.8" cy="74" r="2.6"/><circle cx="603.6" cy="74.7" r="1.7"/><circle cx="615.7" cy="79.3" r="1.8"/><circle cx="599.6" cy="66.2" r="1.9"/><circle cx="606.5" cy="69.9" r="2.6"/><circle cx="616.3" cy="70.6" r="2.3"/><circle cx="608.4" cy="82.9" r="2.7"/><circle cx="610.5" cy="63.2" r="2.5"/><circle cx="596.8" cy="76.7" r="2.3"/><circle cx="608.4" cy="73.5" r="2.1"/><circle cx="601.8" cy="81.6" r="2.1"/><circle cx="613.6" cy="78.5" r="2.3"/><circle cx="612.9" cy="64.3" r="2.1"/><circle cx="606.7" cy="63.5" r="2.7"/><circle cx="598" cy="67.5" r="1.8"/><circle cx="594.7" cy="66" r="1.9"/><circle cx="609.8" cy="85.2" r="2.2"/><circle cx="604.5" cy="84" r="2.6"/><circle cx="601.8" cy="64.6" r="1.7"/><circle cx="613.2" cy="84.3" r="1.8"/><circle cx="603.9" cy="64.2" r="2.4"/><circle cx="615" cy="80.9" r="2.2"/><circle cx="612.6" cy="72.6" r="2.4"/><circle cx="608.7" cy="76.4" r="1.8"/><circle cx="601.1" cy="77.9" r="2.6"/><circle cx="597.7" cy="64.9" r="2"/><circle cx="602" cy="74.4" r="2.4"/><circle cx="609.7" cy="66" r="2.5"/><circle cx="598.5" cy="78.2" r="1.9"/><circle cx="609.9" cy="81.1" r="1.9"/><circle cx="608.5" cy="69.5" r="2.5"/><circle cx="599.5" cy="73" r="2.7"/><circle cx="600" cy="68.5" r="2"/><circle cx="619.1" cy="78.5" r="2"/><circle cx="604.9" cy="67.4" r="2.2"/><circle cx="598.1" cy="81.1" r="2.6"/><circle cx="605.1" cy="79" r="2.1"/><circle cx="610.5" cy="75.3" r="1.7"/><circle cx="611.5" cy="76.8" r="2.3"/><circle cx="617.7" cy="72.1" r="2.5"/><circle cx="600.2" cy="76.3" r="2.1"/><circle cx="602.1" cy="62.8" r="2.1"/><circle cx="607.7" cy="67.1" r="2"/><circle cx="610.5" cy="79.1" r="2.6"/><circle cx="618.9" cy="75.6" r="2.1"/><circle cx="605.5" cy="61.5" r="1.9"/><circle cx="616.2" cy="64.7" r="2.6"/><circle cx="614.9" cy="75.6" r="2.6"/><circle cx="602.8" cy="66.1" r="2.2"/><circle cx="610.1" cy="69" r="1.9"/><circle cx="595" cy="72.3" r="1.9"/><circle cx="595.6" cy="67.9" r="2.2"/><circle cx="603.3" cy="69.6" r="2.1"/><circle cx="603.7" cy="81.2" r="1.9"/><circle cx="604.5" cy="70.7" r="2.3"/><circle cx="595.2" cy="78.3" r="2"/><circle cx="606.1" cy="65.4" r="2.1"/><circle cx="605.6" cy="75.1" r="2.3"/><circle cx="602.4" cy="72" r="2.7"/><circle cx="618.1" cy="66.2" r="2.5"/><circle cx="611.3" cy="84.2" r="2"/><circle cx="608.2" cy="64.2" r="2.1"/><circle cx="603" cy="83.3" r="2.4"/><circle cx="619" cy="82.9" r="2"/><circle cx="596.7" cy="71.8" r="1.7"/><circle cx="617.8" cy="69.5" r="2.4"/><circle cx="617.9" cy="77.3" r="2"/><circle cx="606.2" cy="71.8" r="1.7"/><circle cx="616.6" cy="82.5" r="2.1"/><circle cx="598.8" cy="71.5" r="2.4"/><circle cx="605.1" cy="73.2" r="1.9"/><circle cx="607.2" cy="76.9" r="2.4"/><circle cx="599.3" cy="63.9" r="1.8"/><circle cx="617.6" cy="79.3" r="2.5"/><circle cx="609.1" cy="71.1" r="2"/><circle cx="594.7" cy="74.2" r="1.9"/><circle cx="608.9" cy="79.5" r="2.2"/><circle cx="613.6" cy="76.9" r="2.2"/><circle cx="611.7" cy="70.1" r="2.5"/><circle cx="604" cy="76.5" r="1.8"/><circle cx="594.1" cy="69" r="2.2"/><circle cx="620.5" cy="79.4" r="1.9"/><circle cx="598.6" cy="75.7" r="2.6"/><circle cx="612.4" cy="65.9" r="2.4"/><circle cx="619.9" cy="81.1" r="1.9"/><circle cx="614.8" cy="65.9" r="1.9"/><circle cx="615.8" cy="72.1" r="2.3"/><circle cx="595.7" cy="70.3" r="2.7"/><circle cx="596.9" cy="78.7" r="2.2"/><circle cx="606.4" cy="68.2" r="2.4"/><circle cx="595.3" cy="75.7" r="2"/><circle cx="620.9" cy="74.5" r="2.6"/><circle cx="615.2" cy="77.6" r="2.6"/><circle cx="598.2" cy="74.1" r="2"/><circle cx="615.1" cy="69.4" r="2.6"/><circle cx="613.4" cy="80.5" r="2"/><circle cx="615.1" cy="83.8" r="2.3"/></g>
<g fill="#f6fdf6" stroke="#c4f2c4" stroke-width="0.42"><circle cx="593.7" cy="35.7" r="2.6"/><circle cx="605.8" cy="39.3" r="2.7"/><circle cx="611.3" cy="47.4" r="1.8"/><circle cx="613.7" cy="57.6" r="2.5"/><circle cx="622.7" cy="39.1" r="1.9"/><circle cx="621.2" cy="50" r="2.3"/><circle cx="617.7" cy="22.5" r="1.7"/><circle cx="617.7" cy="41.4" r="2"/><circle cx="614.6" cy="45.6" r="2.1"/><circle cx="621.7" cy="40.9" r="2.2"/><circle cx="596.1" cy="40.5" r="2.2"/><circle cx="612.6" cy="48.9" r="2.5"/><circle cx="608.1" cy="53.9" r="1.8"/><circle cx="602.5" cy="28.5" r="2.6"/><circle cx="607.4" cy="61.1" r="1.9"/><circle cx="599.8" cy="59.8" r="1.8"/><circle cx="610.4" cy="28.3" r="2.3"/><circle cx="602" cy="32.9" r="2.2"/><circle cx="612.5" cy="36.3" r="2.2"/><circle cx="608.5" cy="24.4" r="2.5"/><circle cx="607" cy="33.8" r="1.8"/><circle cx="617.8" cy="57.8" r="2.7"/><circle cx="599.4" cy="43.1" r="2.1"/><circle cx="613.5" cy="31.3" r="2.5"/><circle cx="609.6" cy="35.8" r="2"/><circle cx="620.9" cy="33.7" r="1.8"/><circle cx="622.3" cy="48.1" r="2.4"/><circle cx="607.8" cy="26.1" r="1.8"/><circle cx="611.4" cy="38.5" r="1.9"/><circle cx="619.2" cy="26" r="1.8"/><circle cx="619.7" cy="35.6" r="1.8"/><circle cx="603.5" cy="46.5" r="2.4"/><circle cx="611.8" cy="62.6" r="2.5"/><circle cx="618.4" cy="52.4" r="1.7"/><circle cx="615" cy="39.9" r="2.4"/><circle cx="598" cy="38.1" r="2"/><circle cx="606.1" cy="25.1" r="2.5"/><circle cx="615.6" cy="35.5" r="2.1"/><circle cx="601.8" cy="50.7" r="2.6"/><circle cx="611.2" cy="59" r="2.2"/><circle cx="621.8" cy="35.3" r="2.1"/><circle cx="600.4" cy="36.3" r="1.9"/><circle cx="605.7" cy="56.8" r="2.6"/><circle cx="600.5" cy="54.1" r="2.1"/><circle cx="594.8" cy="48.9" r="2.2"/><circle cx="620.5" cy="39" r="2.4"/><circle cx="625.6" cy="28.7" r="2"/><circle cx="614" cy="44" r="2.4"/><circle cx="614.2" cy="53.5" r="2.6"/><circle cx="593.7" cy="51.1" r="2.6"/><circle cx="610.1" cy="53.7" r="1.9"/><circle cx="615.7" cy="21.6" r="1.8"/><circle cx="604.9" cy="42.2" r="2.2"/><circle cx="605.2" cy="35.2" r="1.7"/><circle cx="597.2" cy="41.8" r="2.3"/><circle cx="618.1" cy="48.2" r="1.7"/><circle cx="606.4" cy="44.2" r="2.4"/><circle cx="607.7" cy="29.6" r="1.8"/><circle cx="615.2" cy="29.5" r="2.4"/><circle cx="611.9" cy="23.3" r="2.4"/><circle cx="610" cy="37.5" r="1.9"/><circle cx="609.5" cy="55.3" r="2.6"/><circle cx="614.5" cy="60.6" r="2"/><circle cx="599.8" cy="46" r="2.6"/><circle cx="603.4" cy="61.8" r="1.8"/><circle cx="597" cy="57.7" r="2.5"/><circle cx="615.2" cy="27.2" r="2.4"/><circle cx="616.8" cy="40.1" r="2.5"/><circle cx="601.3" cy="49" r="1.9"/><circle cx="608" cy="37.3" r="1.7"/><circle cx="595.8" cy="35.9" r="2.4"/><circle cx="597.7" cy="51.1" r="1.9"/><circle cx="614.3" cy="37.8" r="1.7"/><circle cx="599.2" cy="50.2" r="2.4"/><circle cx="624.1" cy="34.4" r="2.5"/><circle cx="603.9" cy="59.2" r="2.5"/><circle cx="615.8" cy="51.1" r="2.5"/><circle cx="615.3" cy="33" r="2.2"/><circle cx="619" cy="42.6" r="1.8"/><circle cx="597.3" cy="30.4" r="2.5"/><circle cx="596.5" cy="34.3" r="2.1"/><circle cx="606.9" cy="50.4" r="2.3"/><circle cx="615.5" cy="59.1" r="2.5"/><circle cx="606.6" cy="27.7" r="2.2"/><circle cx="607.1" cy="48.5" r="2.1"/><circle cx="616.6" cy="45.8" r="1.9"/><circle cx="610.3" cy="31.3" r="2.1"/><circle cx="615.6" cy="55.9" r="2.4"/><circle cx="612.8" cy="34.2" r="2.4"/><circle cx="620.3" cy="23.4" r="2.3"/><circle cx="601" cy="57.4" r="2"/><circle cx="600.1" cy="55.7" r="2.2"/><circle cx="618" cy="34.5" r="2.5"/><circle cx="602.9" cy="30.3" r="2.2"/><circle cx="604.4" cy="38.4" r="2.1"/><circle cx="608.6" cy="49.7" r="1.7"/><circle cx="610.4" cy="44.3" r="2.4"/><circle cx="602.8" cy="42.1" r="2.1"/><circle cx="592.7" cy="54.6" r="2.7"/><circle cx="596.3" cy="54.5" r="2.6"/><circle cx="619" cy="44.4" r="2.1"/><circle cx="622.8" cy="45.5" r="2.3"/><circle cx="609.6" cy="61.5" r="2.5"/><circle cx="612.2" cy="41.8" r="1.9"/><circle cx="619.3" cy="28.5" r="2.6"/><circle cx="599.8" cy="32.7" r="1.9"/><circle cx="622.5" cy="27.1" r="2.3"/><circle cx="592.8" cy="33.8" r="2"/><circle cx="598.4" cy="40.6" r="2.2"/><circle cx="613.2" cy="25.1" r="1.9"/><circle cx="609.5" cy="26.2" r="2"/><circle cx="619.1" cy="56.2" r="2.7"/><circle cx="612.5" cy="51.4" r="2.2"/><circle cx="599" cy="52.6" r="2.5"/><circle cx="597.8" cy="48.2" r="2"/><circle cx="611.9" cy="54.6" r="2.1"/><circle cx="598.9" cy="28.3" r="2"/><circle cx="621.3" cy="29.5" r="1.9"/><circle cx="608.5" cy="39.5" r="1.9"/><circle cx="624.6" cy="37.3" r="2.6"/><circle cx="620" cy="54.7" r="2.6"/><circle cx="608.5" cy="58.7" r="2.7"/><circle cx="622.3" cy="53.3" r="2.7"/><circle cx="611.7" cy="26.9" r="2.2"/><circle cx="600.4" cy="39.7" r="2"/><circle cx="604.6" cy="29.8" r="2"/><circle cx="594.9" cy="34.2" r="2.2"/><circle cx="606.4" cy="54.3" r="2.5"/><circle cx="617.3" cy="30.3" r="2.1"/><circle cx="606.6" cy="52.1" r="2.2"/><circle cx="607" cy="42.7" r="1.9"/><circle cx="592.6" cy="37" r="1.9"/><circle cx="614.9" cy="24" r="2.2"/><circle cx="621.5" cy="56.6" r="1.8"/><circle cx="616.7" cy="25.5" r="2.1"/><circle cx="621.2" cy="25.7" r="2.5"/><circle cx="594.6" cy="32.2" r="1.8"/><circle cx="602.8" cy="53.8" r="2.5"/><circle cx="594.6" cy="45.6" r="2"/><circle cx="601.2" cy="26.4" r="2.6"/><circle cx="595.7" cy="52.2" r="1.8"/><circle cx="609.8" cy="41.8" r="2"/><circle cx="605.9" cy="37.3" r="2.1"/><circle cx="608.9" cy="47.2" r="2.5"/><circle cx="595" cy="43.2" r="2.2"/><circle cx="602" cy="60.3" r="1.9"/><circle cx="618.8" cy="37.2" r="2.5"/><circle cx="598.9" cy="31" r="1.8"/><circle cx="610.5" cy="39.9" r="2.6"/><circle cx="614.2" cy="42" r="2.2"/><circle cx="604.3" cy="54.7" r="2.3"/><circle cx="598.7" cy="35.9" r="1.8"/><circle cx="599.2" cy="58.3" r="2.7"/><circle cx="622.9" cy="42.8" r="2.4"/><circle cx="601.7" cy="47.1" r="2.1"/><circle cx="621.3" cy="44.1" r="2"/><circle cx="608.2" cy="52.1" r="1.7"/><circle cx="606.4" cy="46.2" r="1.9"/><circle cx="603.1" cy="48.2" r="1.9"/><circle cx="615.6" cy="48.9" r="2"/><circle cx="592.7" cy="47.1" r="2.5"/><circle cx="598.4" cy="54.8" r="2.3"/><circle cx="611" cy="25" r="2.3"/><circle cx="594.1" cy="41.6" r="2"/><circle cx="621.5" cy="31.6" r="1.8"/><circle cx="604" cy="51" r="2.6"/><circle cx="610.7" cy="51.2" r="2.6"/><circle cx="613.2" cy="40.3" r="2.6"/><circle cx="596.5" cy="44.4" r="1.8"/><circle cx="612.3" cy="29.2" r="2.3"/><circle cx="608.8" cy="32.1" r="1.7"/><circle cx="618.4" cy="32.4" r="1.9"/><circle cx="592.6" cy="44.7" r="2.1"/><circle cx="606.9" cy="23.2" r="2"/><circle cx="592.3" cy="49.6" r="2.3"/><circle cx="593.8" cy="39.4" r="2.5"/><circle cx="622.8" cy="51.8" r="1.8"/><circle cx="621.5" cy="37.4" r="2"/><circle cx="609" cy="34.1" r="2.1"/><circle cx="596.6" cy="56.1" r="1.8"/><circle cx="596" cy="38.7" r="1.8"/><circle cx="619.6" cy="49.7" r="2.2"/><circle cx="623" cy="25.4" r="2.1"/><circle cx="624" cy="27.9" r="2.6"/><circle cx="620.4" cy="48.2" r="2.2"/><circle cx="595.8" cy="46.9" r="2.4"/><circle cx="606.4" cy="31.1" r="2.6"/><circle cx="623.3" cy="31.1" r="2.7"/><circle cx="604.5" cy="49.4" r="2"/><circle cx="592.1" cy="42.7" r="2"/><circle cx="598.4" cy="44.9" r="2.6"/><circle cx="611.7" cy="52.9" r="1.9"/><circle cx="615.8" cy="53.7" r="2.7"/><circle cx="604.3" cy="27.7" r="2.7"/><circle cx="608.4" cy="44.8" r="1.8"/><circle cx="623.4" cy="49.5" r="1.8"/><circle cx="616.1" cy="38" r="2.4"/><circle cx="602.9" cy="39.7" r="1.8"/><circle cx="616" cy="43.5" r="2.5"/><circle cx="602.9" cy="26.1" r="2.6"/><circle cx="594.5" cy="55.4" r="1.9"/><circle cx="607.6" cy="35.6" r="2.1"/><circle cx="609.9" cy="22.3" r="2.4"/><circle cx="601.6" cy="37.6" r="2.5"/><circle cx="624.5" cy="32.2" r="2.5"/><circle cx="611.3" cy="60.8" r="2.6"/><circle cx="601.7" cy="55.6" r="2"/><circle cx="605.7" cy="60" r="1.8"/><circle cx="604.3" cy="33.4" r="2.2"/><circle cx="613.7" cy="28.2" r="1.7"/><circle cx="617.3" cy="20.6" r="1.8"/><circle cx="619.5" cy="46.5" r="2.5"/><circle cx="619.5" cy="40.4" r="2.4"/><circle cx="616.7" cy="32.1" r="2.1"/><circle cx="596.7" cy="32" r="2.6"/><circle cx="611.3" cy="32.7" r="1.9"/><circle cx="607.2" cy="41" r="2.2"/><circle cx="600.9" cy="31.3" r="2.2"/><circle cx="611.2" cy="57.1" r="2"/><circle cx="613.7" cy="47.1" r="2.6"/><circle cx="592.2" cy="39.9" r="1.8"/><circle cx="622.9" cy="32.8" r="1.9"/><circle cx="600.7" cy="41.8" r="1.8"/><circle cx="601.9" cy="34.8" r="1.8"/><circle cx="612.5" cy="44.7" r="1.9"/><circle cx="598" cy="46.6" r="2.1"/><circle cx="595.2" cy="57.3" r="2.4"/><circle cx="616" cy="41.5" r="1.9"/><circle cx="598.4" cy="56.6" r="2.6"/><circle cx="593.9" cy="53.2" r="2"/><circle cx="604.5" cy="25.2" r="2.2"/><circle cx="619.6" cy="30.6" r="2"/><circle cx="623.9" cy="41" r="1.8"/><circle cx="594.2" cy="37.8" r="1.9"/><circle cx="617.4" cy="59.6" r="2.7"/><circle cx="618" cy="38.7" r="2"/><circle cx="602.8" cy="44.1" r="2.2"/><circle cx="603.3" cy="56.9" r="2.6"/><circle cx="623.4" cy="36" r="2"/><circle cx="599.4" cy="48.6" r="2.4"/><circle cx="617.4" cy="27.6" r="2.3"/><circle cx="604.4" cy="44.9" r="2.6"/><circle cx="603.1" cy="36.7" r="2.7"/><circle cx="604.3" cy="31.6" r="2.2"/><circle cx="614.1" cy="55.2" r="2.4"/><circle cx="610.3" cy="49" r="1.8"/><circle cx="600.6" cy="29" r="2.5"/><circle cx="606.3" cy="58.4" r="2.4"/><circle cx="605.1" cy="47.8" r="1.7"/><circle cx="608.9" cy="43.1" r="2.3"/><circle cx="596.4" cy="49.5" r="2.5"/><circle cx="599" cy="34.3" r="2.6"/><circle cx="620.5" cy="51.5" r="2.7"/><circle cx="598.2" cy="60.5" r="2.4"/><circle cx="605" cy="53.1" r="2.7"/><circle cx="611.3" cy="34.8" r="1.9"/><circle cx="621.5" cy="46.4" r="2.4"/><circle cx="621.8" cy="54.9" r="2.3"/><circle cx="620.8" cy="42.3" r="2.2"/><circle cx="618" cy="50.2" r="2.6"/><circle cx="615.4" cy="31.2" r="2.2"/><circle cx="618" cy="24.3" r="2.1"/></g>
<g fill="#def0fd" stroke="#72bdf2" stroke-width="0.42"><circle cx="624.4" cy="11.9" r="2.1"/><circle cx="626.6" cy="7.2" r="2.6"/><circle cx="635.3" cy="5.7" r="2.4"/><circle cx="641.9" cy="11.7" r="2.5"/><circle cx="620.6" cy="21" r="1.7"/><circle cx="615.8" cy="16.6" r="1.8"/><circle cx="629.9" cy="20" r="2.3"/><circle cx="639.4" cy="15.4" r="2.5"/><circle cx="627.5" cy="22.8" r="2"/><circle cx="635.3" cy="22.1" r="2.1"/><circle cx="616.3" cy="14.3" r="2.6"/><circle cx="632.2" cy="13.3" r="2.1"/><circle cx="634.9" cy="12.8" r="1.8"/><circle cx="620.1" cy="9.6" r="2.5"/><circle cx="618.1" cy="6.3" r="2"/><circle cx="635.9" cy="2.2" r="2.5"/><circle cx="643.6" cy="11.9" r="2.1"/><circle cx="624.9" cy="23.4" r="2.1"/><circle cx="627.3" cy="18.5" r="2.4"/><circle cx="649.7" cy="16.7" r="2.5"/><circle cx="618.4" cy="14.1" r="2.6"/><circle cx="621.2" cy="11.5" r="2.6"/><circle cx="630.4" cy="3.8" r="2.6"/><circle cx="644" cy="8" r="2.1"/><circle cx="628.3" cy="11.3" r="2.5"/><circle cx="621.5" cy="19.5" r="2.5"/><circle cx="624.9" cy="13.6" r="2.4"/><circle cx="636.5" cy="10.1" r="1.7"/><circle cx="622.4" cy="13.7" r="2.4"/><circle cx="647.7" cy="17.7" r="2.4"/><circle cx="642.2" cy="6.3" r="2.3"/><circle cx="632.4" cy="16.1" r="1.9"/><circle cx="632" cy="10.7" r="2.2"/><circle cx="627.2" cy="15.5" r="2.3"/><circle cx="637.6" cy="7" r="1.8"/><circle cx="631.8" cy="24.9" r="2.2"/><circle cx="633.1" cy="6.7" r="2.3"/><circle cx="645.6" cy="17.9" r="2.1"/><circle cx="627.3" cy="24.4" r="1.8"/><circle cx="626.3" cy="9.3" r="2.5"/><circle cx="640.8" cy="10.3" r="2.3"/><circle cx="641.5" cy="14.4" r="1.9"/><circle cx="625.2" cy="18.3" r="1.9"/><circle cx="632.5" cy="2.6" r="1.8"/><circle cx="648" cy="10.3" r="2.3"/><circle cx="633.5" cy="14.4" r="2.3"/><circle cx="649.7" cy="12.5" r="2.1"/><circle cx="641.3" cy="17.1" r="2.2"/><circle cx="635.4" cy="17.2" r="2.2"/><circle cx="635.7" cy="23.8" r="2.1"/><circle cx="633.5" cy="24.9" r="2.3"/><circle cx="645.5" cy="13" r="2.6"/><circle cx="621.7" cy="22.6" r="1.8"/><circle cx="620.7" cy="17.1" r="2.5"/><circle cx="642.3" cy="19.8" r="2.3"/><circle cx="615.9" cy="10.7" r="2"/><circle cx="633" cy="1" r="2.3"/><circle cx="623.3" cy="21.3" r="2.5"/><circle cx="631.3" cy="5.9" r="2.4"/><circle cx="631.3" cy="1.3" r="2.2"/><circle cx="642.7" cy="9.8" r="2.6"/><circle cx="617.9" cy="19.9" r="2.2"/><circle cx="620.6" cy="15.1" r="1.7"/><circle cx="623.9" cy="15.6" r="2.7"/><circle cx="627.4" cy="4.7" r="2.4"/><circle cx="639.2" cy="11.9" r="1.8"/><circle cx="624.6" cy="6.5" r="2"/><circle cx="614.9" cy="9.4" r="2.5"/><circle cx="632.6" cy="9" r="2.2"/><circle cx="646.2" cy="10.9" r="2.6"/><circle cx="640.4" cy="5.6" r="2.4"/><circle cx="631.3" cy="17.5" r="2.6"/><circle cx="624" cy="3.7" r="2.3"/><circle cx="638" cy="8.8" r="2"/><circle cx="628.4" cy="2.4" r="2.3"/><circle cx="620.6" cy="6.4" r="1.7"/><circle cx="617.6" cy="12.3" r="2.2"/><circle cx="630.6" cy="8.4" r="2.2"/><circle cx="638.4" cy="4.4" r="2.1"/><circle cx="647" cy="13.7" r="1.8"/><circle cx="643.4" cy="13.5" r="1.7"/><circle cx="634.4" cy="20.1" r="1.8"/><circle cx="630.4" cy="15.5" r="2.4"/><circle cx="617.4" cy="8.3" r="1.9"/><circle cx="642.1" cy="22.3" r="1.7"/><circle cx="638.4" cy="20.9" r="2.1"/><circle cx="623.1" cy="7.3" r="2"/><circle cx="618.9" cy="17.6" r="2.2"/><circle cx="633.8" cy="11.2" r="2.1"/><circle cx="648.5" cy="15.4" r="2.6"/><circle cx="638" cy="18.4" r="2.2"/><circle cx="640" cy="8.1" r="2.4"/><circle cx="622.9" cy="18" r="2.5"/><circle cx="629.7" cy="6.4" r="2.6"/><circle cx="646" cy="15.8" r="2.3"/><circle cx="630.4" cy="22.5" r="1.9"/><circle cx="622.8" cy="9.8" r="2.5"/><circle cx="639.4" cy="17.4" r="2.5"/><circle cx="632.6" cy="22.9" r="2.4"/><circle cx="645.7" cy="19.7" r="2.6"/><circle cx="636.8" cy="12.4" r="2.2"/><circle cx="647.4" cy="8.7" r="1.8"/><circle cx="637.1" cy="16.8" r="1.9"/><circle cx="643.6" cy="15.5" r="2"/><circle cx="618.9" cy="15.8" r="2.2"/><circle cx="638" cy="14" r="2.4"/><circle cx="629.9" cy="12.7" r="2.4"/><circle cx="628.2" cy="8.7" r="2.4"/><circle cx="627" cy="13.1" r="2.3"/><circle cx="643.8" cy="18.3" r="1.9"/><circle cx="629.4" cy="10" r="2.5"/><circle cx="632.2" cy="21" r="2.7"/><circle cx="628" cy="21.1" r="2.4"/><circle cx="623.3" cy="23.7" r="2.5"/><circle cx="633.1" cy="4.3" r="2.2"/><circle cx="615.9" cy="18.4" r="2.3"/><circle cx="636.6" cy="20.5" r="2.2"/><circle cx="635.5" cy="8.3" r="2.4"/><circle cx="636.5" cy="14.9" r="2.3"/><circle cx="626" cy="3.1" r="1.9"/><circle cx="624.7" cy="9.3" r="1.8"/><circle cx="623" cy="5.6" r="1.9"/><circle cx="640.9" cy="20.9" r="2.4"/><circle cx="639.8" cy="19.8" r="2.1"/><circle cx="637.2" cy="22.4" r="1.9"/><circle cx="625.4" cy="16.3" r="1.9"/><circle cx="622.2" cy="15.5" r="2.2"/><circle cx="629.4" cy="24.3" r="2.3"/><circle cx="644.5" cy="10.2" r="2"/><circle cx="632.9" cy="19" r="2.4"/><circle cx="644.1" cy="20.8" r="1.8"/><circle cx="629.4" cy="17.7" r="1.9"/><circle cx="619.8" cy="12.5" r="2.4"/><circle cx="648" cy="12" r="2.3"/><circle cx="619.5" cy="7.7" r="2.7"/><circle cx="640.3" cy="22.9" r="2.6"/><circle cx="621.9" cy="8.4" r="2.5"/><circle cx="625" cy="20.1" r="2.6"/><circle cx="645.9" cy="8.1" r="2.6"/><circle cx="628" cy="6.3" r="2"/><circle cx="618.9" cy="11.1" r="2.6"/><circle cx="615.5" cy="12.8" r="1.9"/><circle cx="626.6" cy="11.3" r="2.2"/><circle cx="636.2" cy="18.7" r="1.8"/><circle cx="641.6" cy="8.2" r="2.5"/><circle cx="635" cy="3.8" r="1.8"/><circle cx="619.7" cy="19.4" r="2.5"/><circle cx="644" cy="6.2" r="2.5"/><circle cx="625.8" cy="5" r="1.9"/><circle cx="641" cy="18.8" r="2.1"/><circle cx="617.6" cy="10" r="2.6"/><circle cx="628.5" cy="13.7" r="2.4"/><circle cx="637.4" cy="2.8" r="1.8"/><circle cx="625.9" cy="21.6" r="2.6"/><circle cx="636.8" cy="4.8" r="1.8"/><circle cx="634.5" cy="15.7" r="1.9"/><circle cx="649.9" cy="14.2" r="2.2"/><circle cx="633.8" cy="17.5" r="2.2"/><circle cx="639" cy="10.1" r="2.4"/><circle cx="639.8" cy="13.4" r="2.4"/></g>
<g fill="#efe8fd" stroke="#c6b1f5" stroke-width="0.42"><circle cx="627.1" cy="63.7" r="1.8"/><circle cx="624.4" cy="49" r="2.3"/><circle cx="642.8" cy="55.7" r="2.1"/><circle cx="639.2" cy="42.5" r="2.2"/><circle cx="639.5" cy="47.8" r="2.4"/><circle cx="625" cy="44.9" r="1.9"/><circle cx="631" cy="56.7" r="2.3"/><circle cx="634.3" cy="75.6" r="2.6"/><circle cx="646" cy="66.9" r="1.9"/><circle cx="632.7" cy="59.7" r="2.4"/><circle cx="630.7" cy="62" r="2.6"/><circle cx="641.5" cy="71.2" r="2.2"/><circle cx="625.2" cy="53.4" r="2.3"/><circle cx="646.7" cy="64.6" r="2.3"/><circle cx="635.7" cy="64" r="2.3"/><circle cx="642.6" cy="36.3" r="1.8"/><circle cx="634.8" cy="42.3" r="2.4"/><circle cx="630.6" cy="51.1" r="2.5"/><circle cx="642.3" cy="67.6" r="2"/><circle cx="633.6" cy="61.3" r="2.7"/><circle cx="643.6" cy="61.5" r="1.8"/><circle cx="633.1" cy="48.4" r="2.1"/><circle cx="645.8" cy="47.3" r="2.5"/><circle cx="648.6" cy="56.1" r="2.2"/><circle cx="627.3" cy="54.4" r="2"/><circle cx="638.3" cy="34.7" r="2.1"/><circle cx="644.2" cy="68.4" r="2.1"/><circle cx="626.7" cy="38.9" r="2.1"/><circle cx="648.5" cy="49.9" r="2.5"/><circle cx="638.4" cy="69.7" r="2.2"/><circle cx="626.7" cy="48.9" r="2"/><circle cx="646.8" cy="60.7" r="2.3"/><circle cx="643.9" cy="39.3" r="2.3"/><circle cx="628.5" cy="72.4" r="2.4"/><circle cx="638.2" cy="57.2" r="1.9"/><circle cx="648" cy="54.1" r="2.4"/><circle cx="633.2" cy="37.5" r="2"/><circle cx="639.3" cy="36.5" r="2.6"/><circle cx="638" cy="52.9" r="2.7"/><circle cx="647.3" cy="43" r="2"/><circle cx="640.2" cy="65.2" r="1.9"/><circle cx="635.9" cy="66.1" r="2.5"/><circle cx="628.6" cy="50.2" r="2.3"/><circle cx="626.1" cy="51.4" r="1.8"/><circle cx="645" cy="50.3" r="2.7"/><circle cx="644.7" cy="48.6" r="2.4"/><circle cx="649.1" cy="63.6" r="2"/><circle cx="643.3" cy="50.2" r="1.7"/><circle cx="643.7" cy="42.6" r="2.4"/><circle cx="637.8" cy="37.1" r="2.4"/><circle cx="635.8" cy="72.6" r="1.9"/><circle cx="628.7" cy="47.2" r="2"/><circle cx="633.6" cy="66.2" r="2.4"/><circle cx="636" cy="55.8" r="2.7"/><circle cx="640.6" cy="51.1" r="2.5"/><circle cx="646.9" cy="69.1" r="2.2"/><circle cx="637.2" cy="51" r="1.9"/><circle cx="644.5" cy="64.5" r="2.3"/><circle cx="645.3" cy="42" r="2.7"/><circle cx="638.6" cy="60.2" r="2"/><circle cx="634.7" cy="36.6" r="2.3"/><circle cx="651.9" cy="65.1" r="2.6"/><circle cx="653.5" cy="61.2" r="2.6"/><circle cx="651.6" cy="55.5" r="1.8"/><circle cx="633.6" cy="51.6" r="2.5"/><circle cx="638" cy="74.5" r="1.7"/><circle cx="641.6" cy="59.8" r="2.4"/><circle cx="629.6" cy="35.6" r="1.7"/><circle cx="625.3" cy="59" r="2.3"/><circle cx="633.7" cy="55.2" r="2.5"/><circle cx="651.6" cy="61.7" r="1.9"/><circle cx="624.3" cy="37.4" r="2.1"/><circle cx="626.3" cy="41.3" r="2.2"/><circle cx="624.9" cy="64.1" r="2.7"/><circle cx="647.3" cy="71.4" r="2.3"/><circle cx="641.2" cy="54.6" r="1.8"/><circle cx="630.5" cy="45.8" r="1.8"/><circle cx="627.1" cy="46.4" r="1.8"/><circle cx="640.1" cy="44.3" r="1.7"/><circle cx="629.3" cy="41.2" r="2.5"/><circle cx="638.5" cy="49.4" r="2.3"/><circle cx="636.6" cy="34.9" r="2.6"/><circle cx="631.1" cy="48.7" r="2.1"/><circle cx="636.4" cy="38.4" r="1.7"/><circle cx="645" cy="54.6" r="2.3"/><circle cx="629.8" cy="52.6" r="2.6"/><circle cx="646.3" cy="52.6" r="2.6"/><circle cx="630.8" cy="70.2" r="2.6"/><circle cx="638.5" cy="65.9" r="2.1"/><circle cx="633.3" cy="44.7" r="2"/><circle cx="629" cy="38.7" r="2.3"/><circle cx="624.3" cy="52.1" r="2.3"/><circle cx="638.5" cy="43.9" r="2.5"/><circle cx="632.1" cy="65.1" r="1.8"/><circle cx="628.9" cy="68.2" r="1.7"/><circle cx="631.9" cy="40" r="1.9"/><circle cx="641.7" cy="49.1" r="2.2"/><circle cx="639.9" cy="73.9" r="1.9"/><circle cx="640.8" cy="37.4" r="2"/><circle cx="623" cy="53.1" r="2.6"/><circle cx="650.5" cy="53.9" r="1.7"/><circle cx="639.5" cy="39.9" r="1.8"/><circle cx="645.1" cy="56.2" r="1.9"/><circle cx="651" cy="63.5" r="2.6"/><circle cx="637" cy="48.5" r="1.7"/><circle cx="648.4" cy="59.2" r="1.9"/><circle cx="630" cy="55.2" r="1.9"/><circle cx="629.6" cy="58.1" r="1.9"/><circle cx="645.3" cy="70.7" r="2.5"/><circle cx="627.3" cy="69.6" r="2.7"/><circle cx="643.3" cy="47.5" r="2.1"/><circle cx="636.5" cy="45.3" r="1.8"/><circle cx="640.8" cy="69.2" r="2.4"/><circle cx="634.4" cy="68.1" r="1.9"/><circle cx="631.5" cy="43.7" r="1.8"/><circle cx="633.2" cy="57.8" r="2.6"/><circle cx="629.2" cy="65.4" r="2.3"/><circle cx="637" cy="40" r="2.4"/><circle cx="632.3" cy="42.2" r="2.2"/><circle cx="628.7" cy="44.2" r="2.2"/><circle cx="632.1" cy="53.7" r="2.2"/><circle cx="626.2" cy="36.2" r="1.9"/><circle cx="639.9" cy="61.4" r="2.6"/><circle cx="637.1" cy="42.3" r="2.5"/><circle cx="650.1" cy="57.7" r="1.8"/><circle cx="634.7" cy="52.8" r="2.3"/><circle cx="628" cy="59.7" r="1.9"/><circle cx="644.2" cy="59.1" r="1.8"/><circle cx="631.3" cy="67" r="2.5"/><circle cx="643.6" cy="44.5" r="1.8"/><circle cx="625.6" cy="68.3" r="2.2"/><circle cx="625.8" cy="56.6" r="1.8"/><circle cx="647.4" cy="57.9" r="2.5"/><circle cx="624.9" cy="61.9" r="2.1"/><circle cx="640.9" cy="45.9" r="2.3"/><circle cx="623.1" cy="50.6" r="2.6"/><circle cx="628" cy="51.8" r="2.6"/><circle cx="647.5" cy="45.2" r="1.8"/><circle cx="624.4" cy="39.2" r="2.5"/><circle cx="649.9" cy="66.6" r="2.4"/><circle cx="632.1" cy="50.7" r="2.4"/><circle cx="642.9" cy="34.4" r="2.5"/><circle cx="637.4" cy="54.9" r="1.9"/><circle cx="635.9" cy="60.9" r="2.3"/><circle cx="641.6" cy="73.8" r="2.3"/><circle cx="636.5" cy="71.2" r="2.6"/><circle cx="625.3" cy="66.5" r="2"/><circle cx="652" cy="60" r="2.1"/><circle cx="643" cy="57.6" r="1.9"/><circle cx="637.7" cy="46.5" r="1.7"/><circle cx="627.4" cy="56.4" r="2"/><circle cx="652.7" cy="63" r="2.2"/><circle cx="634.7" cy="39.6" r="2.6"/><circle cx="627" cy="67.1" r="2.1"/><circle cx="641.8" cy="43.7" r="2.2"/><circle cx="635.1" cy="48.2" r="1.9"/><circle cx="641.8" cy="53.1" r="2.1"/><circle cx="642" cy="40.8" r="2.3"/><circle cx="637.4" cy="67.8" r="2.6"/><circle cx="624.5" cy="46.7" r="2.4"/><circle cx="637.8" cy="63.9" r="2.3"/><circle cx="648.4" cy="67.2" r="1.8"/><circle cx="642.1" cy="64.6" r="2.2"/><circle cx="630.8" cy="36.9" r="2.3"/><circle cx="632.8" cy="71.5" r="2.2"/><circle cx="641" cy="34.8" r="1.7"/><circle cx="641.5" cy="62.8" r="1.8"/><circle cx="630.9" cy="68.5" r="2.1"/><circle cx="634.4" cy="50" r="2.5"/><circle cx="624.1" cy="42.2" r="1.8"/><circle cx="649.3" cy="60.8" r="1.9"/><circle cx="651.9" cy="57.2" r="1.9"/><circle cx="623.5" cy="57.8" r="2.4"/><circle cx="627.5" cy="61.9" r="2.2"/><circle cx="642.9" cy="69.8" r="2"/><circle cx="636.3" cy="75" r="2.4"/><circle cx="641.1" cy="58.2" r="2.1"/><circle cx="638.4" cy="62.3" r="2.5"/><circle cx="639.6" cy="67.6" r="2.5"/><circle cx="649.8" cy="51.1" r="2.3"/><circle cx="648.6" cy="69" r="2.1"/><circle cx="632.3" cy="73.4" r="2.6"/><circle cx="630" cy="72" r="2.3"/><circle cx="638.3" cy="72.8" r="2"/><circle cx="644.4" cy="72.5" r="1.7"/><circle cx="648.2" cy="48.1" r="2.5"/><circle cx="628" cy="36.6" r="2.3"/><circle cx="639.5" cy="71.2" r="1.7"/><circle cx="628.1" cy="42.7" r="1.9"/><circle cx="637.2" cy="58.8" r="2.2"/><circle cx="635.2" cy="57.3" r="2.4"/><circle cx="641.2" cy="56.5" r="2"/><circle cx="644.3" cy="53" r="1.8"/><circle cx="641.4" cy="39.2" r="2.5"/><circle cx="645.6" cy="45.4" r="2"/><circle cx="641" cy="42.2" r="2.7"/><circle cx="636.4" cy="69.5" r="1.9"/><circle cx="645.1" cy="62.3" r="2.3"/><circle cx="623" cy="55.9" r="2"/><circle cx="630.4" cy="64.1" r="2.4"/><circle cx="635.6" cy="44" r="2.3"/><circle cx="647.9" cy="51.8" r="2.5"/><circle cx="647.6" cy="62.8" r="1.7"/><circle cx="636.3" cy="53.7" r="1.9"/><circle cx="626.5" cy="71.6" r="2.4"/><circle cx="634.4" cy="71.2" r="2.2"/><circle cx="639.8" cy="53.6" r="2.2"/><circle cx="642.6" cy="45.9" r="2.3"/><circle cx="632.6" cy="46.7" r="2.6"/><circle cx="646.6" cy="48.9" r="2.1"/><circle cx="630.6" cy="60.3" r="2.1"/><circle cx="634.3" cy="73.3" r="2.4"/><circle cx="626.2" cy="42.9" r="2.1"/><circle cx="632.6" cy="35.3" r="2.5"/><circle cx="634.9" cy="34.9" r="2"/><circle cx="631.1" cy="58.7" r="2.3"/><circle cx="632.7" cy="68.5" r="2.1"/><circle cx="636.8" cy="62.7" r="2.3"/><circle cx="645.7" cy="39.7" r="2.7"/><circle cx="624.2" cy="60.2" r="2.2"/><circle cx="634.1" cy="63.2" r="2.5"/><circle cx="639.9" cy="63.4" r="2.6"/><circle cx="628.7" cy="63.4" r="2.4"/><circle cx="626.7" cy="44.5" r="2.1"/><circle cx="648.5" cy="65.4" r="1.8"/><circle cx="632.4" cy="62.7" r="2.3"/><circle cx="646.6" cy="50.8" r="2.2"/><circle cx="634.5" cy="46.2" r="1.7"/><circle cx="633.4" cy="40.8" r="2.4"/><circle cx="635.2" cy="59" r="2.3"/><circle cx="626.4" cy="60.5" r="2.4"/><circle cx="644.2" cy="36.9" r="2"/><circle cx="643.3" cy="65.9" r="2.5"/><circle cx="645.5" cy="57.8" r="2.3"/><circle cx="646.7" cy="56.1" r="2.1"/><circle cx="650" cy="49.2" r="2.3"/><circle cx="625.8" cy="70.1" r="2.6"/><circle cx="630" cy="42.7" r="2.7"/><circle cx="639" cy="55.7" r="2"/><circle cx="639" cy="51.6" r="2.6"/><circle cx="629" cy="61" r="1.7"/><circle cx="635.5" cy="51.2" r="2.1"/><circle cx="643.2" cy="63" r="2"/></g>
<g fill="#e6e6e6" stroke="#a9a9a9" stroke-width="0.42"><circle cx="643.6" cy="37.7" r="2.6"/><circle cx="660.7" cy="31.9" r="2.6"/><circle cx="667.2" cy="48.2" r="2.5"/><circle cx="665.2" cy="46.4" r="2.3"/><circle cx="645" cy="46.4" r="2"/><circle cx="648.4" cy="49.7" r="2.4"/><circle cx="666.1" cy="36.7" r="2"/><circle cx="659.1" cy="32" r="1.8"/><circle cx="647.3" cy="33.6" r="2"/><circle cx="657.9" cy="53.5" r="1.7"/><circle cx="652.9" cy="51.3" r="2.3"/><circle cx="648.6" cy="38.8" r="1.9"/><circle cx="657" cy="51.1" r="1.8"/><circle cx="650" cy="46.5" r="1.8"/><circle cx="652.2" cy="36.1" r="2.1"/><circle cx="664.3" cy="34.4" r="2.5"/><circle cx="650.8" cy="43" r="1.9"/><circle cx="647.6" cy="55.2" r="2.4"/><circle cx="653" cy="31.4" r="1.9"/><circle cx="663.9" cy="50.8" r="2.7"/><circle cx="660.2" cy="47.2" r="1.8"/><circle cx="667.7" cy="37.2" r="2.2"/><circle cx="665" cy="39.1" r="2.2"/><circle cx="664.1" cy="49" r="2.5"/><circle cx="655.1" cy="45.2" r="2.4"/><circle cx="658.3" cy="39.9" r="2.2"/><circle cx="644.9" cy="31.5" r="2.4"/><circle cx="650.5" cy="50.2" r="2.2"/><circle cx="661.7" cy="43.6" r="2.4"/><circle cx="647.2" cy="47.4" r="2.7"/><circle cx="655.3" cy="52.1" r="2.3"/><circle cx="644.8" cy="52.1" r="2.1"/><circle cx="650" cy="44.8" r="2.2"/><circle cx="647.4" cy="27.8" r="2.3"/><circle cx="649.7" cy="34.3" r="2.1"/><circle cx="642.8" cy="53" r="2.5"/><circle cx="644.6" cy="54.6" r="2"/><circle cx="657.8" cy="29.4" r="2.4"/><circle cx="663.2" cy="32.1" r="2.3"/><circle cx="666.4" cy="34.7" r="1.9"/><circle cx="661.4" cy="51.8" r="1.7"/><circle cx="644.3" cy="41.9" r="2.5"/><circle cx="643.8" cy="47.8" r="1.7"/><circle cx="663.1" cy="40.1" r="2.3"/><circle cx="660" cy="42.6" r="2.2"/><circle cx="646.1" cy="39.1" r="2.6"/><circle cx="645.1" cy="34.2" r="2.2"/><circle cx="660.8" cy="38.7" r="2.4"/><circle cx="655.6" cy="37.8" r="2.6"/><circle cx="666.2" cy="42.2" r="1.7"/><circle cx="659.9" cy="36.1" r="2.3"/><circle cx="653.5" cy="48.2" r="2"/><circle cx="651.6" cy="29.6" r="1.9"/><circle cx="647.4" cy="42.9" r="1.8"/><circle cx="647.1" cy="52.9" r="2.4"/><circle cx="642.4" cy="36.6" r="2.4"/><circle cx="642" cy="42.4" r="1.8"/><circle cx="649.6" cy="29.9" r="2"/><circle cx="641.4" cy="38.2" r="1.8"/><circle cx="648" cy="57.3" r="2.4"/><circle cx="658.8" cy="28.2" r="1.7"/><circle cx="650.3" cy="57.2" r="2.1"/><circle cx="656.5" cy="39.4" r="2.4"/><circle cx="651.7" cy="45.5" r="2.1"/><circle cx="654.6" cy="33.5" r="2.6"/><circle cx="648.8" cy="26.7" r="1.8"/><circle cx="658.6" cy="45.3" r="2"/><circle cx="649.7" cy="53.8" r="1.9"/><circle cx="647.6" cy="37.5" r="2.4"/><circle cx="663.8" cy="44.7" r="1.9"/><circle cx="651.9" cy="47.4" r="2.2"/><circle cx="643.4" cy="32.7" r="2.6"/><circle cx="656.3" cy="32.3" r="1.8"/><circle cx="650.5" cy="26.3" r="1.7"/><circle cx="652.2" cy="40.6" r="2.6"/><circle cx="656.9" cy="42.3" r="1.9"/><circle cx="649" cy="43.2" r="2.2"/><circle cx="667.7" cy="43.8" r="1.9"/><circle cx="667.2" cy="40.4" r="2.4"/><circle cx="660.6" cy="34.3" r="1.9"/><circle cx="655.2" cy="26.7" r="2.6"/><circle cx="655.9" cy="57.4" r="2.2"/><circle cx="652.2" cy="49.5" r="2.5"/><circle cx="654.1" cy="54.5" r="2.1"/><circle cx="659.5" cy="51" r="2.4"/><circle cx="655.1" cy="28.8" r="2.1"/><circle cx="649.1" cy="40.9" r="2"/><circle cx="643" cy="44.7" r="2.1"/><circle cx="647.7" cy="30.4" r="2"/><circle cx="658.4" cy="55.5" r="2.1"/><circle cx="653.2" cy="44.2" r="2.2"/><circle cx="644.5" cy="39.2" r="2.3"/><circle cx="660.1" cy="44.5" r="2.3"/><circle cx="656.9" cy="34.5" r="1.8"/><circle cx="656.9" cy="44.1" r="2.2"/><circle cx="663" cy="42.6" r="2.6"/><circle cx="643.5" cy="34.6" r="2.6"/><circle cx="642.7" cy="50.4" r="2.2"/><circle cx="642.4" cy="28.9" r="2"/><circle cx="647.3" cy="45.8" r="2.6"/><circle cx="658.4" cy="33.9" r="2.5"/><circle cx="662.5" cy="47.4" r="2.3"/><circle cx="642" cy="47" r="2.6"/><circle cx="654" cy="41.6" r="2"/><circle cx="641.4" cy="33.1" r="1.9"/><circle cx="668.7" cy="42.5" r="2.4"/><circle cx="663.7" cy="29.7" r="2.5"/><circle cx="656.1" cy="54.3" r="2.7"/><circle cx="654.2" cy="39.7" r="2"/><circle cx="653.4" cy="38.1" r="2.1"/><circle cx="659.4" cy="49.4" r="2"/><circle cx="645" cy="36.6" r="2.1"/><circle cx="653.3" cy="52.9" r="2.4"/><circle cx="643.7" cy="30.3" r="2.7"/><circle cx="652.6" cy="27.2" r="2.2"/><circle cx="658.1" cy="36.2" r="2.4"/><circle cx="665.4" cy="51.2" r="2.3"/><circle cx="654" cy="35.4" r="2"/><circle cx="650.7" cy="32.2" r="1.9"/><circle cx="644.3" cy="28.1" r="2.3"/><circle cx="647.6" cy="51.3" r="2.6"/><circle cx="655.9" cy="47.7" r="1.9"/><circle cx="667.2" cy="50.1" r="2.3"/><circle cx="649.3" cy="48.2" r="2.7"/><circle cx="659.7" cy="40.9" r="1.9"/><circle cx="652.3" cy="55.2" r="2.7"/><circle cx="664" cy="53.3" r="1.7"/><circle cx="645.5" cy="49.2" r="2.4"/><circle cx="646.1" cy="29.8" r="2.4"/><circle cx="645.5" cy="40.7" r="1.8"/><circle cx="661.2" cy="53.7" r="2.7"/><circle cx="662.8" cy="33.8" r="2.4"/><circle cx="668.3" cy="46.3" r="2"/><circle cx="654.2" cy="56.6" r="2"/><circle cx="663.2" cy="37.4" r="2.4"/><circle cx="662.1" cy="28.7" r="2.6"/><circle cx="661.5" cy="37.3" r="2"/><circle cx="662.3" cy="49.3" r="2.3"/><circle cx="647.8" cy="35.6" r="1.8"/><circle cx="642.1" cy="40.7" r="2"/><circle cx="656.7" cy="49.3" r="2"/><circle cx="660.5" cy="29.1" r="1.9"/><circle cx="650.9" cy="52.5" r="2.1"/><circle cx="651.2" cy="37.7" r="1.8"/><circle cx="656.8" cy="27.2" r="1.7"/><circle cx="669.1" cy="40.3" r="1.9"/><circle cx="652.8" cy="34.1" r="2.5"/><circle cx="664.5" cy="41.7" r="2"/><circle cx="655.6" cy="35.7" r="2"/><circle cx="665.8" cy="44.6" r="2"/><circle cx="655.3" cy="43.1" r="2.1"/><circle cx="658" cy="38.1" r="1.9"/><circle cx="644.6" cy="44" r="1.9"/><circle cx="647.4" cy="40.3" r="1.9"/><circle cx="645.8" cy="56.9" r="2.6"/><circle cx="641.8" cy="31.1" r="2.4"/><circle cx="650.1" cy="28.3" r="2.2"/><circle cx="646" cy="44.8" r="2.6"/><circle cx="654.2" cy="30.2" r="2.1"/><circle cx="662.2" cy="30.3" r="1.8"/><circle cx="654.4" cy="50.5" r="2"/><circle cx="659.4" cy="56.9" r="2.6"/><circle cx="641.9" cy="48.7" r="2.3"/><circle cx="661.8" cy="41.5" r="1.8"/><circle cx="660.3" cy="55.3" r="1.9"/></g>
<path d="M631 44C631 44.1 631.1 44.3 631 44.4C631 44.6 630.9 44.7 630.8 44.9C630.7 45 630.6 45.2 630.4 45.3C630.2 45.5 630.1 45.7 629.9 45.8C629.7 46 629.5 46.2 629.3 46.4C629.1 46.5 628.9 46.7 628.7 46.9C628.5 47 628.3 47.2 628.2 47.4C628 47.5 627.9 47.7 627.8 47.9C627.7 48 627.6 48.1 627.5 48.3C627.5 48.4 627.5 48.6 627.5 48.7" stroke="#806da6" stroke-width="1.08" fill="none" stroke-linecap="round"/>
<path d="M632.8 51.2C632.8 51.3 632.8 51.4 632.7 51.6C632.7 51.7 632.6 51.9 632.5 52C632.4 52.2 632.3 52.3 632.1 52.5C632 52.6 631.8 52.8 631.6 53C631.4 53.2 631.2 53.3 631 53.5C630.8 53.7 630.6 53.8 630.4 54C630.2 54.2 630 54.4 629.9 54.5C629.7 54.7 629.6 54.8 629.5 55C629.4 55.1 629.3 55.3 629.3 55.4C629.2 55.6 629.2 55.7 629.2 55.8" stroke="#7d69a5" stroke-width="1.08" fill="none" stroke-linecap="round"/>
<path d="M634.5 58.3C634.5 58.4 634.5 58.6 634.5 58.7C634.4 58.9 634.3 59 634.2 59.1C634.1 59.3 634 59.5 633.8 59.6C633.7 59.8 633.5 60 633.3 60.1C633.1 60.3 632.9 60.5 632.7 60.6C632.5 60.8 632.3 61 632.1 61.2C631.9 61.3 631.8 61.5 631.6 61.7C631.4 61.8 631.3 62 631.2 62.1C631.1 62.3 631 62.4 631 62.6C630.9 62.7 631 62.9 631 63" stroke="#7b66a4" stroke-width="1.08" fill="none" stroke-linecap="round"/>
<path d="M625.8 41.5C625.8 41.6 625.9 41.8 626 41.9C626.1 42 626.2 42.1 626.4 42.1C626.6 42.2 626.8 42.3 627 42.4C627.2 42.5 627.4 42.5 627.7 42.6C627.9 42.7 628.2 42.7 628.4 42.8C628.7 42.9 628.9 42.9 629.2 43C629.4 43 629.7 43.1 629.9 43.2C630.1 43.3 630.3 43.3 630.5 43.4C630.6 43.5 630.8 43.6 630.9 43.7C631 43.8 631 44 631 44" stroke="#ba9eef" stroke-width="1.8" fill="none" stroke-linecap="round"/>
<path d="M627.5 48.7C627.6 48.7 627.6 48.9 627.7 49C627.8 49.1 628 49.2 628.1 49.3C628.3 49.4 628.5 49.4 628.7 49.5C628.9 49.6 629.1 49.7 629.4 49.7C629.6 49.8 629.9 49.9 630.1 49.9C630.4 50 630.7 50.1 630.9 50.1C631.1 50.2 631.4 50.3 631.6 50.3C631.8 50.4 632 50.5 632.2 50.6C632.3 50.7 632.5 50.8 632.6 50.9C632.7 51 632.7 51.1 632.8 51.2" stroke="#b699ed" stroke-width="1.8" fill="none" stroke-linecap="round"/>
<path d="M629.2 55.8C629.3 55.9 629.3 56 629.4 56.1C629.5 56.2 629.7 56.3 629.8 56.4C630 56.5 630.2 56.6 630.4 56.7C630.6 56.7 630.9 56.8 631.1 56.9C631.3 56.9 631.6 57 631.9 57.1C632.1 57.1 632.4 57.2 632.6 57.3C632.9 57.3 633.1 57.4 633.3 57.5C633.5 57.6 633.7 57.6 633.9 57.7C634 57.8 634.2 57.9 634.3 58C634.4 58.1 634.4 58.3 634.5 58.3" stroke="#b295ec" stroke-width="1.8" fill="none" stroke-linecap="round"/>
<path d="M631 63C631 63 631 63.2 631.1 63.3C631.2 63.4 631.4 63.5 631.5 63.6C631.7 63.7 631.9 63.7 632.1 63.8C632.3 63.9 632.6 64 632.8 64C633.1 64.1 633.3 64.1 633.6 64.2C633.8 64.3 634.1 64.3 634.3 64.4C634.6 64.5 634.8 64.5 635 64.6C635.2 64.7 635.4 64.8 635.6 64.9C635.8 64.9 635.9 65 636 65.1C636.1 65.2 636.2 65.4 636.2 65.5" stroke="#ae90ea" stroke-width="1.8" fill="none" stroke-linecap="round"/>
<path d="M638.9 46.5C638.9 46.6 639 46.8 638.9 46.9C638.9 47.1 638.9 47.2 638.8 47.4C638.7 47.6 638.6 47.7 638.4 47.9C638.3 48.1 638.2 48.3 638 48.5C637.8 48.6 637.7 48.8 637.5 49C637.3 49.2 637.2 49.4 637 49.5C636.8 49.7 636.7 49.9 636.6 50.1C636.4 50.3 636.3 50.4 636.2 50.6C636.1 50.8 636.1 50.9 636.1 51.1C636 51.2 636.1 51.4 636.1 51.5" stroke="#8b7ba9" stroke-width="0.8999999999999999" fill="none" stroke-linecap="round"/>
<path d="M640.9 54.5C640.9 54.6 641 54.8 640.9 54.9C640.9 55.1 640.9 55.2 640.8 55.4C640.7 55.6 640.6 55.7 640.4 55.9C640.3 56.1 640.2 56.3 640 56.5C639.8 56.6 639.7 56.8 639.5 57C639.3 57.2 639.2 57.4 639 57.5C638.8 57.7 638.7 57.9 638.6 58.1C638.4 58.3 638.3 58.4 638.2 58.6C638.1 58.8 638.1 58.9 638.1 59.1C638 59.2 638.1 59.4 638.1 59.5" stroke="#8777a8" stroke-width="0.8999999999999999" fill="none" stroke-linecap="round"/>
<path d="M634.1 43.5C634.1 43.5 634.2 43.7 634.3 43.9C634.3 44 634.5 44.1 634.6 44.2C634.8 44.3 635 44.4 635.2 44.5C635.4 44.6 635.6 44.7 635.8 44.7C636 44.8 636.3 44.9 636.5 45C636.7 45.1 637 45.2 637.2 45.3C637.4 45.3 637.6 45.4 637.8 45.5C638 45.6 638.2 45.7 638.4 45.8C638.5 45.9 638.7 46 638.7 46.1C638.8 46.3 638.9 46.5 638.9 46.5" stroke="#cab4f3" stroke-width="1.5" fill="none" stroke-linecap="round"/>
<path d="M636.1 51.5C636.1 51.5 636.2 51.7 636.3 51.9C636.3 52 636.5 52.1 636.6 52.2C636.8 52.3 637 52.4 637.2 52.5C637.4 52.6 637.6 52.7 637.8 52.7C638 52.8 638.3 52.9 638.5 53C638.7 53.1 639 53.2 639.2 53.3C639.4 53.3 639.6 53.4 639.8 53.5C640 53.6 640.2 53.7 640.4 53.8C640.5 53.9 640.7 54 640.7 54.1C640.8 54.3 640.9 54.5 640.9 54.5" stroke="#c4aef2" stroke-width="1.5" fill="none" stroke-linecap="round"/>
<path d="M638.1 59.5C638.1 59.5 638.2 59.7 638.3 59.9C638.3 60 638.5 60.1 638.6 60.2C638.8 60.3 639 60.4 639.2 60.5C639.4 60.6 639.6 60.7 639.8 60.7C640 60.8 640.3 60.9 640.5 61C640.7 61.1 641 61.2 641.2 61.3C641.4 61.3 641.6 61.4 641.8 61.5C642 61.6 642.2 61.7 642.4 61.8C642.5 61.9 642.7 62 642.7 62.1C642.8 62.3 642.9 62.5 642.9 62.5" stroke="#bfa8f0" stroke-width="1.5" fill="none" stroke-linecap="round"/>
<path d="M621 25.5C622.5 25.8 627.2 26.5 630 27C632.8 27.5 635.5 28.7 638 28.5C640.5 28.3 643.8 26.4 645 26" stroke="#f0a820" stroke-width="1.8" fill="none" stroke-linecap="round" stroke-linejoin="round"/>
<path d="M617 39C616.2 40.2 612.7 43.7 612 46C611.3 48.3 611.7 52 613 53C614.3 54 618 53.5 620 52C622 50.5 623.7 46.3 625 44C626.3 41.7 627.5 39 628 38" stroke="#e6b340" stroke-width="0.9" fill="none" stroke-linecap="round" stroke-linejoin="round"/>
<path d="M636 24C636 25.2 636.5 29.3 636 31C635.5 32.7 633.5 33.5 633 34" stroke="#1a1ae0" stroke-width="1.6" fill="none" stroke-linecap="round" stroke-linejoin="round"/>
<path d="M595.4 60C595.2 60.7 594.8 62.8 594.5 64C594.2 65.2 593.8 66.5 593.7 67" stroke="#1a1ae0" stroke-width="1.6" fill="none" stroke-linecap="round" stroke-linejoin="round"/>
<path d="M588 67C589.3 67.7 593 70.2 596 71C599 71.8 603 72.5 606 72C609 71.5 612.7 68.7 614 68" stroke="#8fe0f0" stroke-width="1.0" fill="none" stroke-linecap="round" stroke-linejoin="round"/>
<rect x="359.1" y="36.2" width="23.7" height="36" fill="none" stroke="#222" stroke-width="0.9" stroke-dasharray="2.4,1.4"/>
<path d="M359.1 72.2L303.6 90.7M382.8 72.2L413 90.7" stroke="#222" stroke-width="0.8" fill="none"/>
<rect x="303.6" y="90.7" width="109.4" height="160.3" fill="none" stroke="#333" stroke-width="0.7" stroke-dasharray="2,1.4"/>
<rect x="493.4" y="30.1" width="22.8" height="37.3" fill="none" stroke="#222" stroke-width="0.9" stroke-dasharray="2.4,1.4"/>
<path d="M493.4 67.4L446.8 90.1M516.2 67.4L552.1 90.1" stroke="#222" stroke-width="0.8" fill="none"/>
<rect x="446.8" y="90.1" width="105.3" height="159.4" fill="none" stroke="#333" stroke-width="0.7" stroke-dasharray="2,1.4"/>
<rect x="622.6" y="33.2" width="22.1" height="37.4" fill="none" stroke="#222" stroke-width="0.9" stroke-dasharray="2.4,1.4"/>
<path d="M622.6 70.6L580.8 91.3M644.7 70.6L683.6 91.3" stroke="#222" stroke-width="0.8" fill="none"/>
<rect x="580.8" y="91.3" width="102.8" height="159.3" fill="none" stroke="#333" stroke-width="0.7" stroke-dasharray="2,1.4"/>
<path d="M416.6 168.9H436" stroke="#111" stroke-width="1.3"/>
<path d="M441 168.9L434.5 165.9L434.5 171.9Z" fill="#111"/>
<path d="M554.5 165.2H573.2" stroke="#111" stroke-width="1.3"/>
<path d="M578.2 165.2L571.7 162.2L571.7 168.2Z" fill="#111"/>
<rect x="319.3" y="260.5" width="78.5" height="18.8" fill="#fff" stroke="#9a1ad6" stroke-width="1.2"/>
<text transform="translate(330.8,272.7) scale(0.95,1)" font-size="8.8">Cas12a<tspan font-size="5.7" dy="-3.5">KD2P</tspan><tspan dy="3.5">-S2</tspan></text>
<rect x="459.6" y="257.8" width="84.9" height="19.4" fill="#fff" stroke="#2cb089" stroke-width="1.2"/>
<text transform="translate(471.9,270.3) scale(0.95,1)" font-size="8.8">Cas12a<tspan font-size="5.7" dy="-3.5">KD2P</tspan><tspan dy="3.5">-S4b</tspan></text>
<rect x="599.2" y="257.5" width="65.9" height="18.4" fill="#fff" stroke="#ecaa28" stroke-width="1.2"/>
<text transform="translate(609,269.5) scale(0.95,1)" font-size="8.8">Cas12a<tspan font-size="5.7" dy="-3.5">WT</tspan><tspan dy="3.5">-I4</tspan></text>
<path d="M366.6 142.3C366.6 142.4 366.6 142.8 366.4 143.1C366.2 143.5 365.9 143.8 365.5 144.2C365 144.6 364.5 145 363.9 145.4C363.3 145.8 362.6 146.2 361.9 146.7C361.2 147.1 360.4 147.6 359.7 148C358.9 148.4 358.1 148.9 357.4 149.3C356.7 149.8 356 150.2 355.4 150.6C354.9 151 354.3 151.4 353.9 151.8C353.5 152.2 353.2 152.5 353 152.9C352.8 153.2 352.8 153.6 352.8 153.7" stroke="#4a0955" stroke-width="3.48" fill="none" stroke-linecap="round"/>
<path d="M370.2 158.3C370.1 158.4 370.2 158.8 370 159.1C369.8 159.5 369.4 159.8 369 160.2C368.6 160.6 368.1 161 367.5 161.4C366.9 161.8 366.2 162.2 365.5 162.7C364.8 163.1 364 163.6 363.2 164C362.5 164.4 361.7 164.9 361 165.3C360.3 165.8 359.6 166.2 359 166.6C358.4 167 357.9 167.4 357.5 167.8C357.1 168.2 356.7 168.5 356.5 168.9C356.3 169.2 356.4 169.6 356.3 169.7" stroke="#510b5a" stroke-width="3.48" fill="none" stroke-linecap="round"/>
<path d="M373.7 174.3C373.7 174.4 373.7 174.8 373.5 175.1C373.3 175.5 373 175.8 372.6 176.2C372.2 176.6 371.6 177 371.1 177.4C370.5 177.8 369.8 178.2 369.1 178.7C368.4 179.1 367.6 179.6 366.8 180C366.1 180.4 365.3 180.9 364.6 181.3C363.9 181.8 363.2 182.2 362.6 182.6C362 183 361.5 183.4 361 183.8C360.6 184.2 360.3 184.5 360.1 184.9C359.9 185.2 359.9 185.6 359.9 185.7" stroke="#570d5f" stroke-width="3.48" fill="none" stroke-linecap="round"/>
<path d="M349.2 137.7C349.3 137.9 349.4 138.2 349.8 138.5C350.1 138.7 350.5 138.8 351 139C351.6 139.2 352.2 139.3 352.9 139.4C353.7 139.5 354.5 139.6 355.3 139.7C356.1 139.8 357 139.9 357.9 140C358.8 140.1 359.7 140.2 360.5 140.3C361.3 140.4 362.1 140.5 362.8 140.6C363.5 140.7 364.2 140.8 364.7 141C365.3 141.2 365.7 141.3 366 141.5C366.3 141.8 366.5 142.1 366.6 142.3" stroke="#660b76" stroke-width="5.8" fill="none" stroke-linecap="round"/>
<path d="M352.8 153.7C352.9 153.9 353 154.2 353.3 154.5C353.6 154.7 354.1 154.8 354.6 155C355.1 155.2 355.8 155.3 356.5 155.4C357.2 155.5 358 155.6 358.9 155.7C359.7 155.8 360.6 155.9 361.5 156C362.3 156.1 363.2 156.2 364.1 156.3C364.9 156.4 365.7 156.5 366.4 156.6C367.1 156.7 367.8 156.8 368.3 157C368.8 157.2 369.3 157.3 369.6 157.5C369.9 157.8 370.1 158.1 370.2 158.3" stroke="#6f0e7d" stroke-width="5.8" fill="none" stroke-linecap="round"/>
<path d="M356.3 169.7C356.4 169.9 356.6 170.2 356.9 170.5C357.2 170.7 357.7 170.8 358.2 171C358.7 171.2 359.4 171.3 360.1 171.4C360.8 171.5 361.6 171.6 362.4 171.7C363.3 171.8 364.2 171.9 365 172C365.9 172.1 366.8 172.2 367.6 172.3C368.5 172.4 369.3 172.5 370 172.6C370.7 172.7 371.4 172.8 371.9 173C372.4 173.2 372.9 173.3 373.2 173.5C373.5 173.8 373.6 174.1 373.7 174.3" stroke="#791285" stroke-width="5.8" fill="none" stroke-linecap="round"/>
<path d="M359.9 185.7C360 185.9 360.2 186.2 360.5 186.5C360.8 186.7 361.2 186.8 361.8 187C362.3 187.2 363 187.3 363.7 187.4C364.4 187.5 365.2 187.6 366 187.7C366.8 187.8 367.7 187.9 368.6 188C369.5 188.1 370.4 188.2 371.2 188.3C372 188.4 372.8 188.5 373.6 188.6C374.3 188.7 374.9 188.8 375.5 189C376 189.2 376.4 189.3 376.7 189.5C377.1 189.8 377.2 190.1 377.3 190.3" stroke="#82158c" stroke-width="5.8" fill="none" stroke-linecap="round"/>
<path d="M377.5 199.3C377.5 199.4 377.4 199.8 377.2 200.1C377 200.3 376.6 200.6 376.1 200.9C375.7 201.1 375.1 201.4 374.4 201.7C373.8 202 373.1 202.3 372.3 202.5C371.6 202.8 370.7 203.1 369.9 203.4C369.2 203.7 368.3 204 367.6 204.3C366.8 204.5 366.1 204.8 365.5 205.1C364.8 205.4 364.2 205.7 363.8 205.9C363.3 206.2 362.9 206.5 362.7 206.7C362.5 207 362.4 207.4 362.4 207.5" stroke="#611467" stroke-width="3.48" fill="none" stroke-linecap="round"/>
<path d="M378.1 214.5C378.1 214.6 378 215 377.8 215.3C377.6 215.5 377.2 215.8 376.7 216.1C376.3 216.3 375.7 216.6 375 216.9C374.4 217.2 373.7 217.5 372.9 217.7C372.2 218 371.3 218.3 370.6 218.6C369.8 218.9 368.9 219.2 368.2 219.5C367.4 219.7 366.7 220 366.1 220.3C365.4 220.6 364.8 220.9 364.4 221.1C363.9 221.4 363.5 221.7 363.3 221.9C363.1 222.2 363 222.6 363 222.7" stroke="#66196d" stroke-width="3.48" fill="none" stroke-linecap="round"/>
<path d="M361.8 192.3C361.8 192.4 361.9 192.8 362.2 193.1C362.4 193.3 362.8 193.5 363.3 193.8C363.8 194 364.4 194.2 365 194.5C365.7 194.7 366.5 194.9 367.2 195.1C368 195.4 368.8 195.6 369.6 195.8C370.5 196 371.3 196.2 372.1 196.5C372.8 196.7 373.6 196.9 374.3 197.1C374.9 197.4 375.5 197.6 376 197.8C376.5 198.1 376.9 198.3 377.1 198.5C377.4 198.8 377.5 199.2 377.5 199.3" stroke="#861890" stroke-width="5.8" fill="none" stroke-linecap="round"/>
<path d="M362.4 207.5C362.4 207.6 362.5 208 362.8 208.3C363 208.5 363.4 208.7 363.9 209C364.4 209.2 365 209.4 365.6 209.7C366.3 209.9 367.1 210.1 367.8 210.3C368.6 210.6 369.4 210.8 370.2 211C371.1 211.2 371.9 211.4 372.7 211.7C373.4 211.9 374.2 212.1 374.9 212.3C375.5 212.6 376.1 212.8 376.6 213C377.1 213.3 377.5 213.5 377.7 213.7C378 214 378.1 214.4 378.1 214.5" stroke="#8f2198" stroke-width="5.8" fill="none" stroke-linecap="round"/>
<path d="M363 222.7C363 222.8 363.1 223.2 363.4 223.5C363.6 223.7 364 223.9 364.5 224.2C365 224.4 365.6 224.6 366.2 224.9C366.9 225.1 367.7 225.3 368.4 225.5C369.2 225.8 370 226 370.9 226.2C371.7 226.4 372.5 226.6 373.3 226.9C374 227.1 374.8 227.3 375.5 227.5C376.1 227.8 376.7 228 377.2 228.2C377.7 228.5 378.1 228.7 378.3 228.9C378.6 229.2 378.7 229.6 378.7 229.7" stroke="#982aa0" stroke-width="5.8" fill="none" stroke-linecap="round"/>
<path d="M369 180C367.8 180.8 364.2 183.7 362 185C359.8 186.3 358.2 188.5 356 188C353.8 187.5 351.2 183.2 349 182C346.8 180.8 345.3 180.9 343 180.5C340.7 180.1 337.6 179.8 335 179.3C332.4 178.8 329.1 178.6 327.2 177.7C325.3 176.8 323.9 175.6 323.9 174C323.9 172.4 325 169.3 327.2 168C329.4 166.7 333.9 165.6 336.8 166.4C339.8 167.2 343.8 170.5 344.9 172.9C346 175.3 344.1 178 343.3 181C342.5 184 341.9 188.1 340 191C338.1 193.9 334.9 197.6 332 198.6C329.1 199.6 325.5 196.7 322.3 197C319.1 197.3 314.9 198.4 312.7 200.3C310.5 202.2 309.4 205.9 309.4 208.3C309.4 210.7 311.1 214.5 312.7 214.8C314.3 215.1 317.5 211.3 319.1 210C320.7 208.7 321 207.5 322.3 206.7C323.6 205.9 326.2 204.3 327.2 205.1C328.1 205.9 327.5 209.8 328 211.5C328.5 213.2 328.1 214.8 330.4 215.6C332.7 216.4 338.9 215.2 341.6 216.4C344.3 217.6 345.7 221.7 346.5 222.8" stroke="#9a84ea" stroke-width="1.9" fill="none" stroke-linecap="round" stroke-linejoin="round"/>
<path d="M344 181C345.3 181.2 349.3 181.2 352 182C354.7 182.8 357.3 186.5 360 186C362.7 185.5 366.7 180.2 368 179" stroke="#9a84ea" stroke-width="1.5" fill="none" stroke-linecap="round" stroke-linejoin="round"/>
<path d="M331 175.5C331.8 175.8 334.7 176.8 336 177.5C337.3 178.2 338.5 179.6 339 180" stroke="#8a70e0" stroke-width="4.5" fill="none" stroke-linecap="round" stroke-linejoin="round"/>
<path d="M341.6 222.8L349 221L354.5 224L351 231L346 228Z" fill="#9c84ec"/>
<path d="M350 230C350.8 230.9 352.1 234.2 354.5 235.7C356.9 237.2 361 238.4 364.2 238.9C367.4 239.4 371.8 240.2 373.9 238.9C376 237.6 376.5 232.3 377 231" stroke="#8e1f95" stroke-width="2.6" fill="none" stroke-linecap="round" stroke-linejoin="round"/>
<path d="M366 133C366.2 132.5 367.2 131 367 130C366.8 129 365.3 127.5 365 127" stroke="#e25aa8" stroke-width="2.2" fill="none" stroke-linecap="round" stroke-linejoin="round"/>
<path d="M358.2 124C358.2 123.8 358.2 123.5 358.4 123.3C358.6 123.1 358.8 122.9 359.2 122.6C359.5 122.4 359.9 122.2 360.3 121.9C360.8 121.7 361.3 121.5 361.8 121.2C362.4 121 362.9 120.7 363.5 120.5C364.1 120.3 364.6 120 365.2 119.8C365.7 119.5 366.2 119.3 366.7 119.1C367.1 118.8 367.5 118.6 367.8 118.4C368.2 118.1 368.4 117.9 368.6 117.7C368.8 117.5 368.8 117.2 368.8 117" stroke="#a34a7d" stroke-width="2.76" fill="none" stroke-linecap="round"/>
<path d="M369.5 129.7C369.4 129.6 369.4 129.3 369.2 129.1C369 128.9 368.7 128.7 368.4 128.5C368 128.3 367.6 128.1 367.1 127.9C366.7 127.7 366.1 127.6 365.6 127.4C365 127.2 364.4 127 363.8 126.8C363.3 126.7 362.7 126.5 362.1 126.3C361.6 126.1 361 125.9 360.5 125.7C360.1 125.5 359.6 125.4 359.3 125.2C358.9 125 358.7 124.8 358.5 124.6C358.3 124.4 358.2 124.1 358.2 124" stroke="#e460ac" stroke-width="4.6" fill="none" stroke-linecap="round"/>
<path d="M368.8 117C368.8 116.9 368.7 116.6 368.5 116.4C368.3 116.2 368.1 116 367.7 115.8C367.4 115.6 366.9 115.5 366.5 115.3C366 115.1 365.4 114.9 364.9 114.7C364.3 114.5 363.7 114.3 363.2 114.2C362.6 114 362 113.8 361.4 113.6C360.9 113.4 360.3 113.3 359.9 113.1C359.4 112.9 359 112.7 358.6 112.5C358.3 112.3 358 112.1 357.8 111.9C357.6 111.7 357.6 111.4 357.5 111.3" stroke="#ee76bc" stroke-width="4.6" fill="none" stroke-linecap="round"/>
<path d="M362 111C362.7 110.7 364.3 109.5 366 109C367.7 108.5 369.4 108.5 372 108C374.6 107.5 379.7 107.1 381.8 106C383.9 104.9 385 102.7 384.5 101.5C384 100.3 381 99.1 379 98.8C377 98.5 373.4 98.8 372.5 99.6C371.6 100.4 371.9 102.7 373.5 103.5C375.1 104.3 379.9 103.5 382 104.2C384.1 105 385.1 105.7 386 108C386.9 110.3 386.6 115.2 387.4 118C388.2 120.8 390.2 123 391 125C391.8 127 391.8 129.2 392 130" stroke="#e86ab4" stroke-width="1.7" fill="none" stroke-linecap="round" stroke-linejoin="round"/>
<path d="M400.1 134.5C400 134.6 400.1 135 400 135.2C399.9 135.5 399.6 135.9 399.3 136.2C399 136.6 398.6 137 398.2 137.5C397.7 137.9 397.2 138.4 396.6 138.8C396.1 139.3 395.5 139.8 394.9 140.3C394.3 140.8 393.7 141.3 393.2 141.8C392.6 142.2 392.1 142.7 391.6 143.1C391.2 143.6 390.8 144 390.5 144.4C390.2 144.7 389.9 145.1 389.8 145.4C389.7 145.6 389.8 146 389.7 146.1" stroke="#a1497c" stroke-width="3.12" fill="none" stroke-linecap="round"/>
<path d="M405.3 146.9C405.2 147 405.3 147.4 405.2 147.6C405.1 147.9 404.8 148.3 404.5 148.6C404.2 149 403.8 149.4 403.4 149.9C402.9 150.3 402.4 150.8 401.8 151.2C401.3 151.7 400.7 152.2 400.1 152.7C399.5 153.2 398.9 153.7 398.4 154.2C397.8 154.6 397.3 155.1 396.8 155.5C396.4 156 396 156.4 395.7 156.8C395.4 157.1 395.1 157.5 395 157.8C394.9 158 395 158.4 394.9 158.5" stroke="#a75785" stroke-width="3.12" fill="none" stroke-linecap="round"/>
<path d="M384.5 133.7C384.6 133.8 384.8 134.1 385.1 134.2C385.4 134.3 385.8 134.4 386.3 134.4C386.8 134.5 387.4 134.5 388 134.5C388.6 134.4 389.3 134.4 390 134.3C390.8 134.3 391.5 134.2 392.3 134.1C393.1 134 393.8 133.9 394.6 133.9C395.3 133.8 396 133.8 396.6 133.7C397.2 133.7 397.8 133.7 398.3 133.8C398.8 133.8 399.2 133.9 399.5 134C399.8 134.1 400 134.4 400.1 134.5" stroke="#e45fab" stroke-width="5.2" fill="none" stroke-linecap="round"/>
<path d="M389.7 146.1C389.8 146.2 390 146.5 390.3 146.6C390.6 146.7 391 146.8 391.5 146.8C392 146.9 392.6 146.9 393.2 146.9C393.8 146.8 394.5 146.8 395.2 146.7C396 146.7 396.7 146.6 397.5 146.5C398.3 146.4 399 146.3 399.8 146.3C400.5 146.2 401.2 146.2 401.8 146.1C402.4 146.1 403 146.1 403.5 146.2C404 146.2 404.4 146.3 404.7 146.4C405 146.5 405.2 146.8 405.3 146.9" stroke="#eb73b8" stroke-width="5.2" fill="none" stroke-linecap="round"/>
<path d="M394.9 158.5C395 158.6 395.2 158.9 395.5 159C395.8 159.1 396.2 159.2 396.7 159.2C397.2 159.3 397.8 159.3 398.4 159.3C399 159.2 399.7 159.2 400.4 159.1C401.2 159.1 401.9 159 402.7 158.9C403.5 158.8 404.2 158.7 405 158.7C405.7 158.6 406.4 158.6 407 158.5C407.6 158.5 408.2 158.5 408.7 158.6C409.2 158.6 409.6 158.7 409.9 158.8C410.2 158.9 410.4 159.2 410.5 159.3" stroke="#f287c5" stroke-width="5.2" fill="none" stroke-linecap="round"/>
<path d="M507.2 156.2C507.2 156.3 507.2 156.7 507 157C506.8 157.4 506.5 157.7 506.1 158.1C505.7 158.5 505.1 158.9 504.5 159.3C504 159.7 503.3 160.2 502.6 160.6C501.9 161.1 501.1 161.5 500.4 162C499.6 162.5 498.8 162.9 498.1 163.4C497.4 163.8 496.7 164.3 496.2 164.7C495.6 165.1 495 165.5 494.6 165.9C494.2 166.3 493.9 166.6 493.7 167C493.5 167.3 493.5 167.7 493.5 167.8" stroke="#4d0956" stroke-width="3.48" fill="none" stroke-linecap="round"/>
<path d="M511 172.2C511 172.3 511 172.7 510.8 173C510.6 173.4 510.3 173.7 509.9 174.1C509.5 174.5 508.9 174.9 508.3 175.3C507.8 175.7 507.1 176.2 506.4 176.6C505.7 177.1 504.9 177.5 504.1 178C503.4 178.5 502.6 178.9 501.9 179.4C501.2 179.8 500.5 180.3 500 180.7C499.4 181.1 498.8 181.5 498.4 181.9C498 182.3 497.7 182.6 497.5 183C497.3 183.3 497.3 183.7 497.3 183.8" stroke="#550c5d" stroke-width="3.48" fill="none" stroke-linecap="round"/>
<path d="M489.7 151.8C489.8 152 490 152.4 490.3 152.6C490.6 152.8 491 152.9 491.6 153.1C492.1 153.3 492.8 153.4 493.5 153.5C494.2 153.6 495 153.7 495.9 153.8C496.7 153.9 497.6 153.9 498.4 154C499.3 154.1 500.2 154.1 501 154.2C501.9 154.3 502.7 154.4 503.4 154.5C504.1 154.6 504.8 154.7 505.3 154.9C505.9 155.1 506.3 155.2 506.6 155.4C506.9 155.6 507.1 156 507.2 156.2" stroke="#670b77" stroke-width="5.8" fill="none" stroke-linecap="round"/>
<path d="M493.5 167.8C493.6 168 493.8 168.4 494.1 168.6C494.4 168.8 494.8 168.9 495.4 169.1C495.9 169.3 496.6 169.4 497.3 169.5C498 169.6 498.8 169.7 499.7 169.8C500.5 169.9 501.4 169.9 502.2 170C503.1 170.1 504 170.1 504.8 170.2C505.7 170.3 506.5 170.4 507.2 170.5C507.9 170.6 508.6 170.7 509.1 170.9C509.7 171.1 510.1 171.2 510.4 171.4C510.7 171.6 510.9 172 511 172.2" stroke="#741081" stroke-width="5.8" fill="none" stroke-linecap="round"/>
<path d="M497.3 183.8C497.4 184 497.6 184.4 497.9 184.6C498.2 184.8 498.6 184.9 499.2 185.1C499.7 185.3 500.4 185.4 501.1 185.5C501.8 185.6 502.6 185.7 503.5 185.8C504.3 185.9 505.2 185.9 506.1 186C506.9 186.1 507.8 186.1 508.6 186.2C509.5 186.3 510.3 186.4 511 186.5C511.7 186.6 512.4 186.7 512.9 186.9C513.5 187.1 513.9 187.2 514.2 187.4C514.5 187.6 514.7 188 514.8 188.2" stroke="#81158b" stroke-width="5.8" fill="none" stroke-linecap="round"/>
<path d="M515.8 196.4C515.7 196.6 515.7 196.9 515.5 197.2C515.3 197.5 514.9 197.8 514.4 198.1C514 198.4 513.4 198.7 512.8 199C512.1 199.3 511.4 199.7 510.6 200C509.9 200.3 509 200.7 508.2 201C507.5 201.3 506.6 201.7 505.9 202C505.1 202.3 504.4 202.7 503.7 203C503.1 203.3 502.5 203.6 502.1 203.9C501.6 204.2 501.2 204.5 501 204.8C500.8 205.1 500.8 205.4 500.7 205.6" stroke="#601366" stroke-width="3.48" fill="none" stroke-linecap="round"/>
<path d="M517.4 211.1C517.4 211.2 517.4 211.6 517.1 211.9C516.9 212.1 516.6 212.4 516.1 212.7C515.6 213 515.1 213.3 514.4 213.7C513.8 214 513 214.3 512.3 214.7C511.5 215 510.7 215.3 509.9 215.7C509.1 216 508.3 216.3 507.5 216.7C506.8 217 506 217.3 505.4 217.7C504.8 218 504.2 218.3 503.7 218.6C503.3 218.9 502.9 219.2 502.7 219.5C502.5 219.7 502.4 220.1 502.4 220.2" stroke="#65186b" stroke-width="3.48" fill="none" stroke-linecap="round"/>
<path d="M519.1 225.8C519.1 225.9 519 226.3 518.8 226.5C518.6 226.8 518.2 227.1 517.8 227.4C517.3 227.7 516.7 228 516.1 228.3C515.5 228.7 514.7 229 514 229.3C513.2 229.7 512.4 230 511.6 230.3C510.8 230.7 510 231 509.2 231.3C508.5 231.7 507.7 232 507.1 232.3C506.4 232.7 505.9 233 505.4 233.3C504.9 233.6 504.6 233.9 504.4 234.1C504.1 234.4 504.1 234.8 504.1 234.9" stroke="#6a1d70" stroke-width="3.48" fill="none" stroke-linecap="round"/>
<path d="M499.1 190.9C499.1 191 499.2 191.4 499.5 191.6C499.8 191.8 500.2 192 500.7 192.2C501.2 192.4 501.9 192.6 502.6 192.7C503.3 192.9 504.1 193.1 504.9 193.2C505.7 193.4 506.6 193.5 507.4 193.7C508.3 193.8 509.1 194 510 194.1C510.8 194.3 511.6 194.4 512.3 194.6C512.9 194.8 513.6 194.9 514.1 195.1C514.6 195.3 515 195.5 515.3 195.7C515.6 196 515.7 196.3 515.8 196.4" stroke="#861890" stroke-width="5.8" fill="none" stroke-linecap="round"/>
<path d="M500.7 205.6C500.8 205.7 500.9 206 501.2 206.3C501.5 206.5 501.9 206.7 502.4 206.9C502.9 207.1 503.6 207.2 504.2 207.4C504.9 207.6 505.7 207.7 506.5 207.9C507.4 208 508.2 208.2 509.1 208.3C509.9 208.5 510.8 208.6 511.6 208.8C512.4 208.9 513.2 209.1 513.9 209.3C514.6 209.4 515.3 209.6 515.8 209.8C516.3 210 516.7 210.2 517 210.4C517.3 210.6 517.4 211 517.4 211.1" stroke="#8d1f96" stroke-width="5.8" fill="none" stroke-linecap="round"/>
<path d="M502.4 220.2C502.5 220.4 502.6 220.7 502.9 220.9C503.1 221.1 503.6 221.3 504.1 221.5C504.6 221.7 505.2 221.9 505.9 222.1C506.6 222.2 507.4 222.4 508.2 222.5C509 222.7 509.9 222.8 510.8 223C511.6 223.2 512.5 223.3 513.3 223.5C514.1 223.6 514.9 223.8 515.6 223.9C516.3 224.1 516.9 224.3 517.4 224.5C517.9 224.7 518.4 224.9 518.6 225.1C518.9 225.3 519 225.6 519.1 225.8" stroke="#94269d" stroke-width="5.8" fill="none" stroke-linecap="round"/>
<path d="M495.9 172.9C494.8 172.4 490.8 169.2 489.5 169.7C488.2 170.2 489.5 174.9 487.9 176.1C486.3 177.3 480.1 176.1 479.8 176.9C479.5 177.7 483.9 181.3 486.3 180.9C488.7 180.5 493 175.6 494.3 174.5" stroke="#9a84ea" stroke-width="1.6" fill="none" stroke-linecap="round" stroke-linejoin="round"/>
<path d="M483.8 199.5C483.5 197.9 482 192.9 482 190C482 187.1 482.8 184.5 484 182C485.2 179.5 488.2 176.2 489 175" stroke="#9a84ea" stroke-width="1.6" fill="none" stroke-linecap="round" stroke-linejoin="round"/>
<path d="M494.3 174.5C492.6 175.9 487.5 180.1 484 183C480.5 185.9 475.4 189 473.4 192.2C471.4 195.3 472.9 199.2 471.8 201.9C470.7 204.6 470.2 206.8 467 208.3C463.8 209.8 452.7 210 452.4 210.7C452.1 211.4 462.6 211.1 465.3 212.3C468 213.5 467.7 216 468.5 218C469.3 220 468.6 223.1 470.2 224.4C471.8 225.7 475.8 226.3 478.2 226C480.6 225.7 483.5 223.3 484.6 222.8" stroke="#9a84ea" stroke-width="1.9" fill="none" stroke-linecap="round" stroke-linejoin="round"/>
<path d="M471 186C471.7 185.8 473.8 184.2 475 184.5C476.2 184.8 477.5 187.4 478 188" stroke="#8a70e0" stroke-width="4.5" fill="none" stroke-linecap="round" stroke-linejoin="round"/>
<path d="M481.4 221.5L487 220.5L494.3 236L492 241L485 232Z" fill="#a48cf0" stroke="#8a70e0" stroke-width="0.6"/>
<path d="M492 239C493.3 239.6 496.9 241.7 500 242.5C503.1 243.3 507.6 243.8 510.4 243.7C513.2 243.6 515.3 243.4 516.9 242.1C518.5 240.8 519.5 236.8 520 235.7" stroke="#8e1f95" stroke-width="2.6" fill="none" stroke-linecap="round" stroke-linejoin="round"/>
<path d="M497 150C496.3 148.3 494.3 143.2 493 140C491.7 136.8 489.7 133.6 489 131C488.3 128.4 488.2 126.4 488.9 124.3C489.6 122.2 492.5 119.5 493.2 118.6" stroke="#640a74" stroke-width="2.0" fill="none" stroke-linecap="round" stroke-linejoin="round"/>
<path d="M493.2 118.6C492.5 117.6 490.3 115.1 488.9 112.9C487.5 110.8 485.1 107.4 484.6 105.7C484.1 104 484.8 103.7 486 102.9C487.2 102.1 489.7 100.7 491.8 100.9C493.9 101.1 497.5 102.8 498.9 104.3C500.3 105.8 499.7 108.9 500.4 110C501.1 111.1 502.6 110.8 503 111" stroke="#e25aa8" stroke-width="2.0" fill="none" stroke-linecap="round" stroke-linejoin="round"/>
<path d="M511.5 107.9C511.6 108 511.8 108.3 511.8 108.6C511.9 108.8 511.9 109.1 511.8 109.5C511.8 109.8 511.7 110.3 511.6 110.7C511.5 111.1 511.3 111.6 511.2 112C511 112.5 510.8 113 510.6 113.5C510.4 114 510.3 114.5 510.1 115C509.9 115.4 509.8 115.9 509.7 116.3C509.5 116.7 509.4 117.2 509.4 117.5C509.4 117.9 509.4 118.2 509.4 118.4C509.5 118.7 509.7 119 509.7 119.1" stroke="#a85986" stroke-width="2.76" fill="none" stroke-linecap="round"/>
<path d="M500.2 109.1C500.3 109.2 500.6 109.4 500.9 109.4C501.1 109.5 501.5 109.5 501.8 109.5C502.2 109.5 502.6 109.4 503 109.3C503.4 109.2 503.9 109.1 504.4 109C504.9 108.8 505.4 108.7 505.9 108.5C506.4 108.3 506.9 108.2 507.4 108C507.8 107.9 508.3 107.8 508.7 107.7C509.2 107.6 509.6 107.5 509.9 107.5C510.3 107.5 510.6 107.5 510.9 107.6C511.1 107.6 511.4 107.8 511.5 107.9" stroke="#e666b0" stroke-width="4.6" fill="none" stroke-linecap="round"/>
<path d="M513.2 117.2C514.4 117.9 518.7 119.8 520.4 121.5C522.1 123.2 523.5 125.6 523.3 127.2C523.1 128.8 519.7 130.4 519 131" stroke="#e86ab4" stroke-width="1.7" fill="none" stroke-linecap="round" stroke-linejoin="round"/>
<path d="M527.7 133.4C527.7 133.6 527.9 133.9 527.9 134.2C527.9 134.6 527.7 135 527.6 135.4C527.4 135.8 527.1 136.3 526.8 136.8C526.5 137.4 526.2 137.9 525.8 138.5C525.4 139.1 525 139.7 524.6 140.3C524.2 140.9 523.8 141.5 523.4 142.1C523 142.7 522.7 143.2 522.4 143.8C522.1 144.3 521.8 144.8 521.6 145.2C521.5 145.6 521.3 146 521.3 146.4C521.3 146.7 521.5 147 521.5 147.2" stroke="#a1497c" stroke-width="3.3" fill="none" stroke-linecap="round"/>
<path d="M536.5 145.8C536.5 146 536.7 146.3 536.7 146.6C536.7 147 536.5 147.4 536.4 147.8C536.2 148.2 535.9 148.7 535.6 149.2C535.3 149.8 535 150.3 534.6 150.9C534.2 151.5 533.8 152.1 533.4 152.7C533 153.3 532.6 153.9 532.2 154.5C531.8 155.1 531.5 155.6 531.2 156.2C530.9 156.7 530.6 157.2 530.4 157.6C530.3 158 530.1 158.4 530.1 158.8C530.1 159.1 530.3 159.4 530.3 159.6" stroke="#a75785" stroke-width="3.3" fill="none" stroke-linecap="round"/>
<path d="M512.7 134.8C512.8 134.8 513.1 135.1 513.4 135.2C513.7 135.3 514.1 135.3 514.6 135.3C515.1 135.3 515.6 135.2 516.2 135.1C516.8 135 517.5 134.8 518.1 134.6C518.8 134.5 519.5 134.3 520.2 134.1C520.9 133.9 521.6 133.7 522.3 133.6C522.9 133.4 523.6 133.2 524.2 133.1C524.8 133 525.3 132.9 525.8 132.9C526.3 132.9 526.7 132.9 527 133C527.3 133.1 527.6 133.4 527.7 133.4" stroke="#e45fab" stroke-width="5.5" fill="none" stroke-linecap="round"/>
<path d="M521.5 147.2C521.6 147.2 521.9 147.5 522.2 147.6C522.5 147.7 522.9 147.7 523.4 147.7C523.9 147.7 524.4 147.6 525 147.5C525.6 147.4 526.3 147.2 526.9 147C527.6 146.9 528.3 146.7 529 146.5C529.7 146.3 530.4 146.1 531.1 146C531.7 145.8 532.4 145.6 533 145.5C533.6 145.4 534.1 145.3 534.6 145.3C535.1 145.3 535.5 145.3 535.8 145.4C536.1 145.5 536.4 145.8 536.5 145.8" stroke="#eb73b8" stroke-width="5.5" fill="none" stroke-linecap="round"/>
<path d="M530.3 159.6C530.4 159.6 530.7 159.9 531 160C531.3 160.1 531.7 160.1 532.2 160.1C532.7 160.1 533.2 160 533.8 159.9C534.4 159.8 535.1 159.6 535.7 159.4C536.4 159.3 537.1 159.1 537.8 158.9C538.5 158.7 539.2 158.5 539.9 158.4C540.5 158.2 541.2 158 541.8 157.9C542.4 157.8 542.9 157.7 543.4 157.7C543.9 157.7 544.3 157.7 544.6 157.8C544.9 157.9 545.2 158.2 545.3 158.2" stroke="#f287c5" stroke-width="5.5" fill="none" stroke-linecap="round"/>
<path d="M636.9 161.9C636.9 162 636.9 162.4 636.8 162.8C636.6 163.1 636.3 163.5 635.9 163.9C635.5 164.3 635 164.7 634.4 165.2C633.8 165.6 633.1 166.1 632.5 166.5C631.8 167 631 167.5 630.3 168C629.6 168.5 628.8 169 628.1 169.5C627.5 169.9 626.8 170.4 626.2 170.8C625.6 171.3 625.1 171.7 624.7 172.1C624.3 172.5 624 172.9 623.8 173.2C623.7 173.6 623.7 174 623.7 174.1" stroke="#4d0956" stroke-width="3.48" fill="none" stroke-linecap="round"/>
<path d="M641.3 177.9C641.3 178 641.3 178.4 641.2 178.8C641 179.1 640.7 179.5 640.3 179.9C639.9 180.3 639.4 180.7 638.8 181.2C638.2 181.6 637.5 182.1 636.9 182.5C636.2 183 635.4 183.5 634.7 184C634 184.5 633.2 185 632.5 185.5C631.9 185.9 631.2 186.4 630.6 186.8C630 187.3 629.5 187.7 629.1 188.1C628.7 188.5 628.4 188.9 628.2 189.2C628.1 189.6 628.1 190 628.1 190.1" stroke="#550c5d" stroke-width="3.48" fill="none" stroke-linecap="round"/>
<path d="M619.3 158.1C619.4 158.2 619.6 158.6 619.9 158.8C620.2 159 620.7 159.2 621.2 159.3C621.7 159.5 622.4 159.6 623.1 159.6C623.8 159.7 624.7 159.8 625.5 159.9C626.3 159.9 627.2 160 628.1 160C629 160 629.9 160.1 630.7 160.1C631.5 160.2 632.4 160.3 633.1 160.4C633.8 160.4 634.5 160.5 635 160.7C635.5 160.8 636 161 636.3 161.2C636.6 161.4 636.8 161.8 636.9 161.9" stroke="#670b77" stroke-width="5.8" fill="none" stroke-linecap="round"/>
<path d="M623.7 174.1C623.8 174.2 624 174.6 624.3 174.8C624.6 175 625.1 175.2 625.6 175.3C626.1 175.5 626.8 175.6 627.5 175.6C628.2 175.7 629.1 175.8 629.9 175.9C630.7 175.9 631.6 176 632.5 176C633.4 176 634.3 176.1 635.1 176.1C635.9 176.2 636.8 176.3 637.5 176.4C638.2 176.4 638.9 176.5 639.4 176.7C639.9 176.8 640.4 177 640.7 177.2C641 177.4 641.2 177.8 641.3 177.9" stroke="#741081" stroke-width="5.8" fill="none" stroke-linecap="round"/>
<path d="M628.1 190.1C628.2 190.2 628.4 190.6 628.7 190.8C629 191 629.5 191.2 630 191.3C630.5 191.5 631.2 191.6 631.9 191.6C632.6 191.7 633.5 191.8 634.3 191.9C635.1 191.9 636 192 636.9 192C637.8 192 638.7 192.1 639.5 192.1C640.3 192.2 641.2 192.3 641.9 192.4C642.6 192.4 643.3 192.5 643.8 192.7C644.3 192.8 644.8 193 645.1 193.2C645.4 193.4 645.6 193.8 645.7 193.9" stroke="#81158b" stroke-width="5.8" fill="none" stroke-linecap="round"/>
<path d="M647.3 201.9C647.3 202.1 647.3 202.5 647.1 202.8C646.9 203.1 646.6 203.4 646.1 203.7C645.7 204.1 645.2 204.4 644.6 204.8C644 205.2 643.2 205.6 642.5 206C641.8 206.4 641 206.8 640.2 207.2C639.5 207.7 638.7 208.1 638 208.5C637.3 208.9 636.5 209.3 635.9 209.7C635.3 210.1 634.8 210.4 634.4 210.8C633.9 211.1 633.6 211.4 633.4 211.7C633.2 212 633.2 212.4 633.2 212.6" stroke="#601366" stroke-width="3.48" fill="none" stroke-linecap="round"/>
<path d="M650.3 216.9C650.3 217.1 650.3 217.5 650.1 217.8C649.9 218.1 649.6 218.4 649.1 218.7C648.7 219.1 648.2 219.4 647.6 219.8C647 220.2 646.2 220.6 645.5 221C644.8 221.4 644 221.8 643.2 222.2C642.5 222.7 641.7 223.1 641 223.5C640.3 223.9 639.5 224.3 638.9 224.7C638.3 225.1 637.8 225.4 637.4 225.8C636.9 226.1 636.6 226.4 636.4 226.7C636.2 227 636.2 227.4 636.2 227.6" stroke="#65186b" stroke-width="3.48" fill="none" stroke-linecap="round"/>
<path d="M653.3 231.9C653.3 232.1 653.3 232.5 653.1 232.8C652.9 233.1 652.6 233.4 652.1 233.7C651.7 234.1 651.2 234.4 650.6 234.8C650 235.2 649.2 235.6 648.5 236C647.8 236.4 647 236.8 646.2 237.2C645.5 237.7 644.7 238.1 644 238.5C643.3 238.9 642.5 239.3 641.9 239.7C641.3 240.1 640.8 240.4 640.4 240.8C639.9 241.1 639.6 241.4 639.4 241.7C639.2 242 639.2 242.4 639.2 242.6" stroke="#6a1d70" stroke-width="3.48" fill="none" stroke-linecap="round"/>
<path d="M630.2 197.6C630.2 197.7 630.4 198 630.7 198.2C631 198.4 631.4 198.6 632 198.8C632.5 198.9 633.1 199.1 633.8 199.2C634.5 199.3 635.4 199.4 636.2 199.5C637 199.6 637.9 199.7 638.8 199.8C639.6 199.8 640.5 199.9 641.3 200C642.1 200.1 643 200.2 643.7 200.3C644.4 200.4 645 200.6 645.5 200.7C646.1 200.9 646.5 201.1 646.8 201.3C647.1 201.5 647.3 201.8 647.3 201.9" stroke="#861890" stroke-width="5.8" fill="none" stroke-linecap="round"/>
<path d="M633.2 212.6C633.2 212.7 633.4 213 633.7 213.2C634 213.4 634.4 213.6 635 213.8C635.5 213.9 636.1 214.1 636.8 214.2C637.5 214.3 638.4 214.4 639.2 214.5C640 214.6 640.9 214.7 641.8 214.8C642.6 214.8 643.5 214.9 644.3 215C645.1 215.1 646 215.2 646.7 215.3C647.4 215.4 648 215.6 648.5 215.7C649.1 215.9 649.5 216.1 649.8 216.3C650.1 216.5 650.3 216.8 650.3 216.9" stroke="#8d1f96" stroke-width="5.8" fill="none" stroke-linecap="round"/>
<path d="M636.2 227.6C636.2 227.7 636.4 228 636.7 228.2C637 228.4 637.4 228.6 638 228.8C638.5 228.9 639.1 229.1 639.8 229.2C640.5 229.3 641.4 229.4 642.2 229.5C643 229.6 643.9 229.7 644.8 229.8C645.6 229.8 646.5 229.9 647.3 230C648.1 230.1 649 230.2 649.7 230.3C650.4 230.4 651 230.6 651.5 230.7C652.1 230.9 652.5 231.1 652.8 231.3C653.1 231.5 653.3 231.8 653.3 231.9" stroke="#94269d" stroke-width="5.8" fill="none" stroke-linecap="round"/>
<path d="M635.7 167.9C634.8 167.6 632.1 165.2 630.3 166.1C628.5 167 625.6 170.9 625 173.3C624.4 175.7 625.8 178.3 626.7 180.4C627.6 182.5 630 184 630.3 185.8C630.6 187.6 630.3 190.4 628.5 191.2C626.7 191.9 621.1 190.5 619.6 190.3" stroke="#9a84ea" stroke-width="1.8" fill="none" stroke-linecap="round" stroke-linejoin="round"/>
<path d="M625 188.5C625.8 187.4 628.7 184.1 630 182C631.3 179.9 632 178 633 176C634 174 635.5 171 636 170" stroke="#9a84ea" stroke-width="1.5" fill="none" stroke-linecap="round" stroke-linejoin="round"/>
<path d="M608 193C611 188 618 188 621 192L620 200L615 207L610 206C607 201 607 197 608 193Z" fill="#a48cf0" stroke="#8a70e0" stroke-width="0.6"/>
<path d="M616 205.5C615.1 205.8 613.9 206.4 610.6 207.3C607.3 208.2 598.8 209.6 596.3 210.8C593.8 212 594.5 212.6 595.4 214.4C596.3 216.2 598.6 219.8 601.7 221.6C604.8 223.4 611.5 224 614.2 225.2C616.9 226.4 616.3 227.5 617.8 228.7C619.3 229.9 621.1 232.3 623.2 232.3C625.3 232.3 629.1 229.3 630.3 228.7" stroke="#9a84ea" stroke-width="1.9" fill="none" stroke-linecap="round" stroke-linejoin="round"/>
<path d="M627 229L632 228L635.7 240L634 245L629 241Z" fill="#a48cf0" stroke="#8a70e0" stroke-width="0.6"/>
<path d="M633 244C634.2 244.4 637.5 246.2 640 246.5C642.5 246.8 646 246.9 648 246C650 245.1 651.3 241.8 652 241" stroke="#8e1f95" stroke-width="2.6" fill="none" stroke-linecap="round" stroke-linejoin="round"/>
<path d="M620.7 118C621.2 119.6 623.1 125 623.6 127.8C624.1 130.6 623.1 132.5 623.6 134.9C624.1 137.3 625.4 139.7 626.5 142.1C627.6 144.5 629.8 147 630 149.2C630.2 151.3 628.2 154 627.9 155" stroke="#640a74" stroke-width="2.0" fill="none" stroke-linecap="round" stroke-linejoin="round"/>
<path d="M620.7 119C620.5 117.4 619.8 112.3 619.3 109.2C618.8 106.1 616.7 102.6 617.9 100.6C619.1 98.6 623.6 97.4 626.5 97C629.4 96.6 633.5 97.3 635 98.4C636.5 99.5 636.3 101.5 635.8 103.5C635.3 105.5 634 108.1 632.2 110.6C630.4 113.1 626.2 117.2 625 118.5" stroke="#ea70b8" stroke-width="1.8" fill="none" stroke-linecap="round" stroke-linejoin="round"/>
<path d="M625 117L633 113L640 112L641 121L633 120Z" fill="#f07cc0"/>
<path d="M651.1 121.2C651.1 121.3 651.3 121.7 651.3 122C651.3 122.4 651.2 122.9 651 123.4C650.8 123.9 650.5 124.4 650.2 125C649.9 125.7 649.5 126.3 649 127C648.6 127.7 648.2 128.4 647.7 129.1C647.3 129.8 646.8 130.5 646.4 131.2C646 131.8 645.6 132.5 645.2 133.1C644.9 133.7 644.6 134.3 644.4 134.8C644.3 135.3 644.1 135.7 644.1 136.1C644.1 136.5 644.3 136.8 644.3 137" stroke="#a75685" stroke-width="3.48" fill="none" stroke-linecap="round"/>
<path d="M661.4 134.6C661.4 134.7 661.6 135.1 661.6 135.5C661.6 135.8 661.5 136.3 661.3 136.8C661.1 137.3 660.8 137.9 660.5 138.5C660.1 139.1 659.7 139.7 659.3 140.4C658.9 141.1 658.4 141.8 658 142.5C657.6 143.2 657.1 143.9 656.7 144.6C656.3 145.3 655.9 145.9 655.5 146.5C655.2 147.1 654.9 147.7 654.7 148.2C654.5 148.7 654.4 149.2 654.4 149.5C654.4 149.9 654.6 150.3 654.6 150.4" stroke="#a85b87" stroke-width="3.48" fill="none" stroke-linecap="round"/>
<path d="M671.7 148C671.7 148.2 671.9 148.5 671.9 148.9C671.9 149.3 671.7 149.7 671.6 150.2C671.4 150.7 671.1 151.3 670.8 151.9C670.4 152.5 670 153.2 669.6 153.8C669.2 154.5 668.7 155.2 668.3 155.9C667.8 156.6 667.4 157.3 667 158C666.5 158.7 666.1 159.3 665.8 160C665.5 160.6 665.2 161.1 665 161.6C664.8 162.1 664.7 162.6 664.7 163C664.7 163.3 664.9 163.7 664.9 163.8" stroke="#aa5f89" stroke-width="3.48" fill="none" stroke-linecap="round"/>
<path d="M634 123.6C634.2 123.6 634.5 123.9 634.9 124C635.2 124.1 635.7 124.1 636.2 124C636.7 124 637.4 123.9 638 123.7C638.7 123.5 639.5 123.3 640.2 123.1C641 122.9 641.8 122.6 642.6 122.4C643.4 122.1 644.2 121.8 644.9 121.6C645.7 121.4 646.4 121.2 647.1 121C647.8 120.9 648.4 120.7 648.9 120.7C649.5 120.6 649.9 120.6 650.3 120.7C650.7 120.8 651 121.1 651.1 121.2" stroke="#ee79bd" stroke-width="5.8" fill="none" stroke-linecap="round"/>
<path d="M644.3 137C644.5 137.1 644.8 137.4 645.1 137.4C645.5 137.5 646 137.5 646.5 137.5C647 137.4 647.7 137.3 648.3 137.1C649 137 649.7 136.7 650.5 136.5C651.3 136.3 652.1 136 652.9 135.8C653.6 135.5 654.5 135.3 655.2 135C656 134.8 656.7 134.6 657.4 134.4C658.1 134.3 658.7 134.2 659.2 134.1C659.7 134.1 660.2 134.1 660.6 134.1C660.9 134.2 661.2 134.5 661.4 134.6" stroke="#f07fc0" stroke-width="5.8" fill="none" stroke-linecap="round"/>
<path d="M654.6 150.4C654.8 150.5 655.1 150.8 655.4 150.9C655.8 150.9 656.3 150.9 656.8 150.9C657.3 150.8 657.9 150.7 658.6 150.6C659.3 150.4 660 150.2 660.8 150C661.5 149.7 662.4 149.5 663.1 149.2C663.9 149 664.7 148.7 665.5 148.5C666.3 148.3 667 148 667.7 147.9C668.3 147.7 669 147.6 669.5 147.5C670 147.5 670.5 147.5 670.9 147.6C671.2 147.6 671.5 147.9 671.7 148" stroke="#f285c4" stroke-width="5.8" fill="none" stroke-linecap="round"/>
<path d="M664.9 163.8C665 163.9 665.3 164.2 665.7 164.3C666.1 164.4 666.5 164.4 667.1 164.3C667.6 164.3 668.2 164.1 668.9 164C669.6 163.8 670.3 163.6 671.1 163.4C671.8 163.2 672.6 162.9 673.4 162.6C674.2 162.4 675 162.1 675.8 161.9C676.5 161.7 677.3 161.5 678 161.3C678.6 161.1 679.3 161 679.8 161C680.3 160.9 680.8 160.9 681.1 161C681.5 161.1 681.8 161.4 682 161.4" stroke="#f48bc7" stroke-width="5.8" fill="none" stroke-linecap="round"/>
<text x="396.1" y="121.5" font-size="8" fill="#ee6cb8">BH</text>
<text x="383.2" y="200.3" font-size="8" fill="#8a2f90">H1</text>
<text x="348.8" y="200.3" font-size="8" fill="#9d86ec">Lid</text>
<text x="528.4" y="111.5" font-size="8" fill="#ee6cb8">BH</text>
<text x="517.5" y="184.4" font-size="8" fill="#8a2f90">H1</text>
<text x="454.6" y="170.1" font-size="8" fill="#9d86ec">Lid</text>
<text x="652.5" y="113.8" font-size="8" fill="#ee6cb8">BH</text>
<text x="651" y="195.9" font-size="8" fill="#8a2f90">H1</text>
<text x="609" y="175.6" font-size="8" fill="#9d86ec">Lid</text>
<text x="16.9" y="314.3" font-size="8.8" fill="#222">c</text>
<g transform="translate(109.2 401.6) scale(1 0.986) translate(-109.2 -401.6)">
<path class="r" d="M68.3 361.2Q109.2 401.6 60.8 432.7"/>
<path class="r" d="M69.5 360Q109.2 401.6 60.7 432.5"/>
<path class="r" d="M70.7 358.9Q109.2 401.6 58.2 428.2"/>
<path class="r" d="M72 357.7Q109.2 401.6 60.4 432"/>
<path class="r" d="M73.3 356.6Q109.2 401.6 61.2 433.3"/>
<path class="r" d="M74.7 355.6Q109.2 401.6 57.7 427.2"/>
<path class="r" d="M76.1 354.6Q109.2 401.6 57.7 427.2"/>
<path class="r" d="M77.5 353.6Q109.2 401.6 58.1 428"/>
<path class="r" d="M78.9 352.7Q109.2 401.6 57.3 426.3"/>
<path class="r" d="M80.4 351.8Q109.2 401.6 60.5 432.2"/>
<path class="r" d="M81.9 351Q109.2 401.6 58.2 428.2"/>
<path class="r" d="M83.4 350.2Q109.2 401.6 57.6 427"/>
<path class="r" d="M85 349.5Q109.2 401.6 61.5 433.8"/>
<path class="r" d="M86.5 348.8Q109.2 401.6 57.7 427.2"/>
<path class="r" d="M88.1 348.1Q109.2 401.6 57.3 426.3"/>
<path class="r" d="M89.7 347.5Q109.2 401.6 57.2 426.2"/>
<path class="r" d="M91.3 346.9Q109.2 401.6 60.4 432.1"/>
<path class="r" d="M93 346.4Q109.2 401.6 60.3 431.8"/>
<path class="r" d="M94.6 346Q109.2 401.6 58.2 428.1"/>
<path class="r" d="M96.3 345.6Q109.2 401.6 61.3 433.4"/>
<path class="r" d="M98 345.2Q109.2 401.6 57.8 427.3"/>
<path class="r" d="M99.6 344.9Q109.2 401.6 57.9 427.6"/>
<path class="r" d="M101.3 344.6Q109.2 401.6 61 433"/>
<path class="r" d="M103 344.4Q109.2 401.6 60.7 432.6"/>
<path class="r" d="M104.7 344.3Q109.2 401.6 60.3 431.9"/>
<path class="r" d="M106.5 344.2Q109.2 401.6 57.2 426.2"/>
<path class="r" d="M108.2 344.1Q109.2 401.6 57.1 426"/>
<path class="r" d="M109.9 344.1Q109.2 401.6 58.1 428"/>
<path class="r" d="M111.6 344.1Q109.2 401.6 57.2 426.1"/>
<path class="r" d="M113.3 344.2Q109.2 401.6 57.6 427"/>
<path class="r" d="M115 344.4Q109.2 401.6 58 427.8"/>
<path class="r" d="M116.7 344.6Q109.2 401.6 57.6 427"/>
<path class="r" d="M120.2 345.2Q109.2 401.6 60.9 432.7"/>
<path class="r" d="M124.6 346.2Q109.2 401.6 57.7 427.2"/>
<path class="r" d="M128.9 347.6Q109.2 401.6 60.9 432.7"/>
<path class="r" d="M121.2 345.4Q109.2 401.6 163.2 381.9"/>
<path class="r" d="M125.5 346.5Q109.2 401.6 165 387.7"/>
<path class="r" d="M129.8 347.9Q109.2 401.6 166.1 393.6"/>
<path class="r" d="M57.5 426.8Q109.2 401.6 80.9 351.5"/>
<path class="r" d="M56 423.3Q109.2 401.6 72.9 357"/>
<path class="r" d="M54.6 419.7Q109.2 401.6 104.8 344.3"/>
<path class="r" d="M53.6 416.1Q109.2 401.6 110.8 344.1"/>
<path class="r" d="M52.7 412.4Q109.2 401.6 73.7 356.4"/>
<path class="r" d="M52.1 408.6Q109.2 401.6 102.4 344.5"/>
<path class="r" d="M51.8 404.8Q109.2 401.6 85.9 349"/>
<path class="r" d="M51.7 401Q109.2 401.6 75.9 354.7"/>
<path class="r" d="M51.9 397.2Q109.2 401.6 81.3 351.3"/>
<path class="r" d="M52.3 393.4Q109.2 401.6 101 344.7"/>
<path class="r" d="M53 389.6Q109.2 401.6 105.6 344.2"/>
<path class="r" d="M63.6 366.6Q109.2 401.6 60.9 432.7"/>
<path class="r" d="M162.1 379.1Q109.2 401.6 60.7 432.5"/>
<path class="r" d="M162.8 380.9Q109.2 401.6 60.6 432.3"/>
<path class="r" d="M163.5 382.7Q109.2 401.6 60.3 431.9"/>
<path class="r" d="M164.1 384.5Q109.2 401.6 57.7 427.2"/>
<path class="r" d="M164.6 386.4Q109.2 401.6 57.9 427.6"/>
<path class="r" d="M165.1 388.2Q109.2 401.6 60.7 432.5"/>
<path class="r" d="M165.5 390.1Q109.2 401.6 61.3 433.4"/>
<path class="r" d="M165.9 392Q109.2 401.6 60.7 432.5"/>
<path class="r" d="M166.2 393.9Q109.2 401.6 61.5 433.7"/>
<path class="r" d="M166.4 395.8Q109.2 401.6 57.9 427.6"/>
<path class="r" d="M166.6 397.7Q109.2 401.6 57.2 426.2"/>
<path class="r" d="M166.7 399.6Q109.2 401.6 60.9 432.8"/>
<path class="t" d="M138.4 354.4Q109.2 401.6 87.5 452.7"/>
<path class="t" d="M138.4 354.4Q109.2 401.6 95.8 455.5"/>
<path class="t" d="M148.4 362.4Q109.2 401.6 87.5 452.7"/>
<path class="t" d="M148.4 362.4Q109.2 401.6 95.8 455.5"/>
<path class="t" d="M148.4 362.4Q109.2 401.6 123.1 455.3"/>
<path class="t" d="M148.4 362.4Q109.2 401.6 131.5 452.4"/>
<path class="t" d="M156.1 371.9Q109.2 401.6 123.1 455.3"/>
<path class="t" d="M156.1 371.9Q109.2 401.6 131.5 452.4"/>
<path class="t" d="M156.1 371.9Q109.2 401.6 138.9 448.5"/>
<path class="t" d="M138.4 354.4Q109.2 401.6 138.9 448.5"/>
<path class="t" d="M148.4 362.4Q109.2 401.6 138.9 448.5"/>
<path d="M55.3 439.3A65.8 65.8 0 0 1 56.3 362.5" stroke="#8f6ae6" stroke-width="3.3" fill="none"/>
<path d="M56.3 362.5A65.8 65.8 0 0 1 129.5 339" stroke="#5f1a6c" stroke-width="3.3" fill="none"/>
<path d="M129.5 339A65.8 65.8 0 0 1 175 401.6" stroke="#d477af" stroke-width="3.3" fill="none"/>
<path d="M175 401.6A65.8 65.8 0 0 1 129.5 464.2" stroke="#1414f0" stroke-width="3.3" fill="none"/>
<path d="M129.5 464.2A65.8 65.8 0 0 1 55.3 439.3" stroke="#d68b2a" stroke-width="3.3" fill="none"/>
<line x1="104.1" y1="342.8" x2="103" y2="330.9" stroke="#111" stroke-width="0.75"/>
<line x1="140.3" y1="351.5" x2="146.6" y2="341.3" stroke="#111" stroke-width="0.75"/>
<line x1="150.9" y1="359.9" x2="159.4" y2="351.4" stroke="#111" stroke-width="0.75"/>
<line x1="159.1" y1="370.1" x2="169.2" y2="363.7" stroke="#111" stroke-width="0.75"/>
<line x1="56.4" y1="427.8" x2="45.6" y2="433.2" stroke="#111" stroke-width="0.75"/>
<line x1="59.6" y1="433.6" x2="49.5" y2="440.1" stroke="#111" stroke-width="0.75"/>
<line x1="86.1" y1="455.9" x2="81.5" y2="467" stroke="#111" stroke-width="0.75"/>
<line x1="94.9" y1="458.8" x2="92" y2="470.5" stroke="#111" stroke-width="0.75"/>
<line x1="124" y1="458.7" x2="127" y2="470.3" stroke="#111" stroke-width="0.75"/>
<line x1="132.9" y1="455.6" x2="137.7" y2="466.6" stroke="#111" stroke-width="0.75"/>
<line x1="140.7" y1="451.5" x2="147.1" y2="461.6" stroke="#111" stroke-width="0.75"/>
<text transform="translate(148.6,338) rotate(-58.2)" font-size="8.4" fill="#e567b4" stroke="#e567b4" stroke-width="0.18" text-anchor="start" dy="2.8">R968</text>
<text transform="translate(162.1,348.7) rotate(-45)" font-size="8.4" fill="#e567b4" stroke="#e567b4" stroke-width="0.18" text-anchor="start" dy="2.8">R964</text>
<text transform="translate(172.4,361.6) rotate(-32.3)" font-size="8.4" fill="#e567b4" stroke="#e567b4" stroke-width="0.18" text-anchor="start" dy="2.8">E961</text>
<text transform="translate(42.2,434.9) rotate(-26.4)" font-size="8.4" fill="#8d6be8" stroke="#8d6be8" stroke-width="0.18" text-anchor="end" dy="2.8">E1020</text>
<text transform="translate(46.3,442.1) rotate(-32.8)" font-size="8.4" fill="#8d6be8" stroke="#8d6be8" stroke-width="0.18" text-anchor="end" dy="2.8">K1021</text>
<text transform="translate(80,470.5) rotate(-67)" font-size="8.4" fill="#e6a51c" stroke="#e6a51c" stroke-width="0.18" text-anchor="end" dy="2.8">A4</text>
<text transform="translate(91.1,474.2) rotate(-76)" font-size="8.4" fill="#e6a51c" stroke="#e6a51c" stroke-width="0.18" text-anchor="end" dy="2.8">G5</text>
<text transform="translate(127.9,474) rotate(75.5)" font-size="8.4" fill="#e6a51c" stroke="#e6a51c" stroke-width="0.18" text-anchor="start" dy="2.8">A8</text>
<text transform="translate(139.3,470.1) rotate(66.3)" font-size="8.4" fill="#2348f2" stroke="#2348f2" stroke-width="0.18" text-anchor="start" dy="2.8">dT-8</text>
<text transform="translate(149.2,464.8) rotate(57.7)" font-size="8.4" fill="#2348f2" stroke="#2348f2" stroke-width="0.18" text-anchor="start" dy="2.8">dG-7</text>
</g>
<text transform="translate(81.1,503.8) scale(0.95,1)" font-size="8.8">Cas12a<tspan font-size="5.7" dy="-3.5">KD2P</tspan><tspan dy="3.5">-S2</tspan></text>
<text x="102.2" y="326.8" font-size="7.8" fill="#7b3f98" stroke="#7b3f98" stroke-width="0.15" text-anchor="middle">K981</text>
<text x="61" y="337.8" font-size="7.7" fill="#7b3f98" stroke="#7b3f98" stroke-width="0.15">H1</text>
<text x="37.5" y="371.5" font-size="7.9" fill="#a48cf0" stroke="#a48cf0" stroke-width="0.15">Lid</text>
<text x="178.8" y="384.9" font-size="7.9" fill="#e567b4" stroke="#e567b4" stroke-width="0.15">BH</text>
<text x="168.6" y="448.3" font-size="8.1" fill="#2323e8" stroke="#2323e8" stroke-width="0.15">DNA</text>
<text x="48.5" y="464.7" font-size="8.1" fill="#d99a35" stroke="#d99a35" stroke-width="0.15">RNA</text>
<text x="252.4" y="314.2" font-size="8.8" fill="#222">d</text>
<g transform="translate(345.4 401.8) scale(1 0.986) translate(-345.4 -401.8)">
<path class="r2" d="M322.9 348.9Q345.4 401.8 301.2 438.6"/>
<path class="r2" d="M322.9 348.9Q345.4 401.8 297.6 433.8"/>
<path class="r2" d="M324.8 348.1Q345.4 401.8 294.5 428.5"/>
<path class="r2" d="M324.8 348.1Q345.4 401.8 296 431.2"/>
<path class="r2" d="M326.6 347.5Q345.4 401.8 310 447.1"/>
<path class="r2" d="M326.6 347.5Q345.4 401.8 297.6 433.8"/>
<path class="r2" d="M328.5 346.9Q345.4 401.8 310 447.1"/>
<path class="r2" d="M328.5 346.9Q345.4 401.8 299.4 436.2"/>
<path class="r2" d="M330.3 346.3Q345.4 401.8 301.2 438.6"/>
<path class="r2" d="M330.3 346.3Q345.4 401.8 293.1 425.8"/>
<path class="r2" d="M332.3 345.8Q345.4 401.8 294.5 428.5"/>
<path class="r2" d="M332.3 345.8Q345.4 401.8 303.3 440.9"/>
<path class="r2" d="M334.2 345.4Q345.4 401.8 301.2 438.6"/>
<path class="r2" d="M334.2 345.4Q345.4 401.8 310 447.1"/>
<path class="r2" d="M336.1 345.1Q345.4 401.8 307.6 445.2"/>
<path class="r2" d="M336.1 345.1Q345.4 401.8 307.6 445.2"/>
<path class="r2" d="M338 344.8Q345.4 401.8 307.6 445.2"/>
<path class="r2" d="M338 344.8Q345.4 401.8 303.3 440.9"/>
<path class="r2" d="M340 344.6Q345.4 401.8 299.4 436.2"/>
<path class="r2" d="M340 344.6Q345.4 401.8 297.6 433.8"/>
<path class="r2" d="M342 344.4Q345.4 401.8 301.2 438.6"/>
<path class="r2" d="M342 344.4Q345.4 401.8 312.4 448.9"/>
<path class="r2" d="M343.9 344.3Q345.4 401.8 303.3 440.9"/>
<path class="r2" d="M343.9 344.3Q345.4 401.8 305.4 443.1"/>
<path class="r2" d="M345.9 344.3Q345.4 401.8 303.3 440.9"/>
<path class="r2" d="M345.9 344.3Q345.4 401.8 293.1 425.8"/>
<path class="r2" d="M347.8 344.4Q345.4 401.8 294.5 428.5"/>
<path class="r2" d="M347.8 344.4Q345.4 401.8 307.6 445.2"/>
<path class="r2" d="M349.8 344.5Q345.4 401.8 310 447.1"/>
<path class="r2" d="M349.8 344.5Q345.4 401.8 303.3 440.9"/>
<path class="r2" d="M351.8 344.7Q345.4 401.8 301.2 438.6"/>
<path class="r2" d="M351.8 344.7Q345.4 401.8 305.4 443.1"/>
<path class="r2" d="M353.7 344.9Q345.4 401.8 305.4 443.1"/>
<path class="r2" d="M353.7 344.9Q345.4 401.8 293.1 425.8"/>
<path class="r2" d="M355.6 345.2Q345.4 401.8 307.6 445.2"/>
<path class="r2" d="M355.6 345.2Q345.4 401.8 296 431.2"/>
<path class="r2" d="M357.6 345.6Q345.4 401.8 296 431.2"/>
<path class="r2" d="M357.6 345.6Q345.4 401.8 307.6 445.2"/>
<path class="r2" d="M359.5 346.1Q345.4 401.8 312.4 448.9"/>
<path class="r2" d="M359.5 346.1Q345.4 401.8 303.3 440.9"/>
<path class="r2" d="M361.4 346.6Q345.4 401.8 310 447.1"/>
<path class="r2" d="M361.4 346.6Q345.4 401.8 294.5 428.5"/>
<path class="r2" d="M363.3 347.1Q345.4 401.8 294.5 428.5"/>
<path class="r2" d="M363.3 347.1Q345.4 401.8 312.4 448.9"/>
<path class="r2" d="M365.1 347.8Q345.4 401.8 293.1 425.8"/>
<path class="r2" d="M365.1 347.8Q345.4 401.8 312.4 448.9"/>
<path class="r2" d="M366.9 348.5Q345.4 401.8 293.1 425.8"/>
<path class="r2" d="M366.9 348.5Q345.4 401.8 297.6 433.8"/>
<path class="r2" d="M372.4 351Q345.4 401.8 297.6 433.8"/>
<path class="r2" d="M372.4 351Q345.4 401.8 305.4 443.1"/>
<path class="r2" d="M374.2 352Q345.4 401.8 290 417.2"/>
<path class="r2" d="M374.2 352Q345.4 401.8 303.3 440.9"/>
<path class="r2" d="M376 353.1Q345.4 401.8 310 447.1"/>
<path class="r2" d="M376 353.1Q345.4 401.8 299.4 436.2"/>
<path class="r2" d="M377.7 354.2Q345.4 401.8 291.9 423"/>
<path class="r2" d="M377.7 354.2Q345.4 401.8 299.4 436.2"/>
<path class="r2" d="M379.4 355.4Q345.4 401.8 310 447.1"/>
<path class="r2" d="M379.4 355.4Q345.4 401.8 296 431.2"/>
<path class="r2" d="M381.1 356.7Q345.4 401.8 297.6 433.8"/>
<path class="r2" d="M381.1 356.7Q345.4 401.8 291.9 423"/>
<path class="r2" d="M382.7 358Q345.4 401.8 297.6 433.8"/>
<path class="r2" d="M382.7 358Q345.4 401.8 303.3 440.9"/>
<path class="r2" d="M384.2 359.4Q345.4 401.8 296 431.2"/>
<path class="r2" d="M384.2 359.4Q345.4 401.8 294.5 428.5"/>
<path class="r2" d="M385.7 360.8Q345.4 401.8 293.1 425.8"/>
<path class="r2" d="M385.7 360.8Q345.4 401.8 291.9 423"/>
<path class="r2" d="M387.2 362.3Q345.4 401.8 305.4 443.1"/>
<path class="r2" d="M387.2 362.3Q345.4 401.8 296 431.2"/>
<path class="r2" d="M388.6 363.8Q345.4 401.8 299.4 436.2"/>
<path class="r2" d="M388.6 363.8Q345.4 401.8 293.1 425.8"/>
<path class="r2" d="M389.9 365.4Q345.4 401.8 301.2 438.6"/>
<path class="r2" d="M389.9 365.4Q345.4 401.8 287.9 402.2"/>
<path class="r2" d="M391.2 367.1Q345.4 401.8 296 431.2"/>
<path class="r2" d="M391.2 367.1Q345.4 401.8 297.6 433.8"/>
<path class="r2" d="M392.4 368.7Q345.4 401.8 296 431.2"/>
<path class="r2" d="M392.4 368.7Q345.4 401.8 301.2 438.6"/>
<path class="r2" d="M393.6 370.5Q345.4 401.8 301.2 438.6"/>
<path class="r2" d="M393.6 370.5Q345.4 401.8 296 431.2"/>
<path class="r2" d="M394.7 372.2Q345.4 401.8 297.6 433.8"/>
<path class="r2" d="M394.7 372.2Q345.4 401.8 290 417.2"/>
<path class="r2" d="M395.7 374Q345.4 401.8 288.7 411.3"/>
<path class="r2" d="M395.7 374Q345.4 401.8 289.1 390.1"/>
<path class="r2" d="M396.7 375.8Q345.4 401.8 291.9 423"/>
<path class="r2" d="M396.7 375.8Q345.4 401.8 293.1 425.8"/>
<path class="r2" d="M397.6 377.7Q345.4 401.8 289.3 414.3"/>
<path class="r2" d="M397.6 377.7Q345.4 401.8 288.2 396.1"/>
<path class="r2" d="M398.4 379.6Q345.4 401.8 289.3 414.3"/>
<path class="r2" d="M398.4 379.6Q345.4 401.8 310 447.1"/>
<path class="r2" d="M399.2 381.5Q345.4 401.8 288.7 411.3"/>
<path class="r2" d="M399.2 381.5Q345.4 401.8 303.3 440.9"/>
<path class="r2" d="M399.9 383.5Q345.4 401.8 310 447.1"/>
<path class="r2" d="M399.9 383.5Q345.4 401.8 289.8 387.1"/>
<path class="r2" d="M400.5 385.5Q345.4 401.8 293.1 425.8"/>
<path class="r2" d="M400.5 385.5Q345.4 401.8 288.7 411.3"/>
<path class="r2" d="M401.1 387.5Q345.4 401.8 288.6 393.1"/>
<path class="r2" d="M401.1 387.5Q345.4 401.8 289.3 414.3"/>
<path class="r2" d="M401.6 389.5Q345.4 401.8 288.7 411.3"/>
<path class="r2" d="M401.6 389.5Q345.4 401.8 305.4 443.1"/>
<path class="r2" d="M402 391.5Q345.4 401.8 288 405.2"/>
<path class="r2" d="M402 391.5Q345.4 401.8 288 405.2"/>
<path class="r2" d="M402.3 393.6Q345.4 401.8 288.6 393.1"/>
<path class="r2" d="M402.3 393.6Q345.4 401.8 294.5 428.5"/>
<path class="r2" d="M402.6 395.7Q345.4 401.8 291.7 381.3"/>
<path class="r2" d="M402.6 395.7Q345.4 401.8 299.4 436.2"/>
<path class="r2" d="M402.8 397.7Q345.4 401.8 288.3 408.3"/>
<path class="r2" d="M402.8 397.7Q345.4 401.8 288 405.2"/>
<path class="r2" d="M402.9 399.8Q345.4 401.8 293.1 425.8"/>
<path class="r2" d="M402.9 399.8Q345.4 401.8 289.1 390.1"/>
<path class="r2" d="M402 391.5Q345.4 401.8 288.7 411.3"/>
<path class="r2" d="M402.6 395.7Q345.4 401.8 288.3 408.3"/>
<path class="r2" d="M402.8 397.7Q345.4 401.8 288 405.2"/>
<path class="r2" d="M402.9 399.8Q345.4 401.8 287.9 402.2"/>
<path class="r2" d="M396.7 375.8Q345.4 401.8 288 399.1"/>
<path class="r2" d="M400.5 385.5Q345.4 401.8 288.2 396.1"/>
<path class="r2" d="M392.4 368.7Q345.4 401.8 288.6 393.1"/>
<path class="r2" d="M401.1 387.5Q345.4 401.8 289.1 390.1"/>
<path class="r2" d="M396.7 375.8Q345.4 401.8 289.8 387.1"/>
<path class="r2" d="M402 391.5Q345.4 401.8 290.7 384.2"/>
<path class="r2" d="M401.6 389.5Q345.4 401.8 291.7 381.3"/>
<path class="r2" d="M402.8 397.7Q345.4 401.8 292.8 378.5"/>
<path class="r2" d="M387.2 362.3Q345.4 401.8 294.1 375.8"/>
<path class="r2" d="M397.6 377.7Q345.4 401.8 295.6 373.1"/>
<path class="r2" d="M402.6 395.7Q345.4 401.8 297.2 370.5"/>
<path class="t" d="M377.7 356.7Q345.4 401.8 341.5 457.2"/>
<path class="t" d="M377.7 356.7Q345.4 401.8 349.6 457.1"/>
<path class="t" d="M375.6 355.3Q345.4 401.8 399.5 414"/>
<path class="t" d="M376.4 355.8Q345.4 401.8 393.1 430.1"/>
<path class="t" d="M378 356.9Q345.4 401.8 387.6 437.8"/>
<path d="M291.5 439.5A65.8 65.8 0 0 1 292.5 362.7" stroke="#8f6ae6" stroke-width="3.3" fill="none"/>
<path d="M292.5 362.7A65.8 65.8 0 0 1 365.7 339.2" stroke="#5f1a6c" stroke-width="3.3" fill="none"/>
<path d="M365.7 339.2A65.8 65.8 0 0 1 411.2 401.8" stroke="#d477af" stroke-width="3.3" fill="none"/>
<path d="M411.2 401.8A65.8 65.8 0 0 1 365.7 464.4" stroke="#1414f0" stroke-width="3.3" fill="none"/>
<path d="M365.7 464.4A65.8 65.8 0 0 1 291.5 439.5" stroke="#d68b2a" stroke-width="3.3" fill="none"/>
<line x1="350.1" y1="343" x2="351.1" y2="331" stroke="#111" stroke-width="0.75"/>
<line x1="379.7" y1="353.8" x2="386.7" y2="344.1" stroke="#111" stroke-width="0.75"/>
<line x1="390.9" y1="364.3" x2="400.2" y2="356.6" stroke="#111" stroke-width="0.75"/>
<line x1="397.3" y1="373.7" x2="407.9" y2="368" stroke="#111" stroke-width="0.75"/>
<line x1="403" y1="414.8" x2="414.7" y2="417.4" stroke="#111" stroke-width="0.75"/>
<line x1="396.1" y1="431.9" x2="406.4" y2="438" stroke="#111" stroke-width="0.75"/>
<line x1="390.3" y1="440.1" x2="399.4" y2="447.9" stroke="#111" stroke-width="0.75"/>
<line x1="349.8" y1="460.6" x2="350.7" y2="472.6" stroke="#111" stroke-width="0.75"/>
<line x1="341" y1="460.6" x2="340.1" y2="472.6" stroke="#111" stroke-width="0.75"/>
<line x1="306.3" y1="446" x2="298.4" y2="455" stroke="#111" stroke-width="0.75"/>
<line x1="299.9" y1="439.3" x2="290.6" y2="447" stroke="#111" stroke-width="0.75"/>
<line x1="295.3" y1="433" x2="285.1" y2="439.3" stroke="#111" stroke-width="0.75"/>
<line x1="292.8" y1="428.6" x2="282.1" y2="434" stroke="#111" stroke-width="0.75"/>
<text transform="translate(388.9,341) rotate(-54.4)" font-size="8.4" fill="#e567b4" stroke="#e567b4" stroke-width="0.18" text-anchor="start" dy="2.8">R968</text>
<text transform="translate(403.1,354.2) rotate(-39.5)" font-size="8.4" fill="#e567b4" stroke="#e567b4" stroke-width="0.18" text-anchor="start" dy="2.8">R964</text>
<text transform="translate(411.2,366.2) rotate(-28.4)" font-size="8.4" fill="#e567b4" stroke="#e567b4" stroke-width="0.18" text-anchor="start" dy="2.8">E961</text>
<text transform="translate(418.4,418.2) rotate(12.7)" font-size="8.4" fill="#2348f2" stroke="#2348f2" stroke-width="0.18" text-anchor="start" dy="2.8">dC-2</text>
<text transform="translate(409.7,440) rotate(30.7)" font-size="8.4" fill="#2348f2" stroke="#2348f2" stroke-width="0.18" text-anchor="start" dy="2.8">-dT4</text>
<text transform="translate(402.3,450.4) rotate(40.5)" font-size="8.4" fill="#2348f2" stroke="#2348f2" stroke-width="0.18" text-anchor="start" dy="2.8">-dC5</text>
<text transform="translate(351,476.4) rotate(85.7)" font-size="8.4" fill="#e6a51c" stroke="#e6a51c" stroke-width="0.18" text-anchor="start" dy="2.8">C7</text>
<text transform="translate(339.8,476.4) rotate(94.3)" font-size="8.4" fill="#e6a51c" stroke="#e6a51c" stroke-width="0.18" text-anchor="start" dy="2.8">U6</text>
<text transform="translate(295.8,457.8) rotate(-48.5)" font-size="8.4" fill="#e6a51c" stroke="#e6a51c" stroke-width="0.18" text-anchor="end" dy="2.8">G2</text>
<text transform="translate(287.7,449.4) rotate(-39.5)" font-size="8.4" fill="#e6a51c" stroke="#e6a51c" stroke-width="0.18" text-anchor="end" dy="2.8">A1</text>
<text transform="translate(281.9,441.3) rotate(-31.9)" font-size="8.4" fill="#8d6be8" stroke="#8d6be8" stroke-width="0.18" text-anchor="end" dy="2.8">K1021</text>
<text transform="translate(278.8,435.8) rotate(-27)" font-size="8.4" fill="#8d6be8" stroke="#8d6be8" stroke-width="0.18" text-anchor="end" dy="2.8">E1020</text>
</g>
<text transform="translate(321.9,503.8) scale(0.95,1)" font-size="8.8">Cas12a<tspan font-size="5.7" dy="-3.5">KD2P</tspan><tspan dy="3.5">-S4b</tspan></text>
<text x="350.7" y="326.5" font-size="7.8" fill="#7b3f98" stroke="#7b3f98" stroke-width="0.15" text-anchor="middle">K981</text>
<text x="310.6" y="330.9" font-size="7.7" fill="#7b3f98" stroke="#7b3f98" stroke-width="0.15">H1</text>
<text x="265.9" y="370.6" font-size="7.9" fill="#a48cf0" stroke="#a48cf0" stroke-width="0.15">Lid</text>
<text x="418.7" y="383.5" font-size="7.9" fill="#e567b4" stroke="#e567b4" stroke-width="0.15">BH</text>
<text x="386.2" y="469.8" font-size="8.1" fill="#2323e8" stroke="#2323e8" stroke-width="0.15">DNA</text>
<text x="305.6" y="478.7" font-size="8.1" fill="#d99a35" stroke="#d99a35" stroke-width="0.15">RNA</text>
<text x="500.2" y="314.4" font-size="8.8" fill="#222">e</text>
<g transform="translate(595.35 401.95) scale(1 0.986) translate(-595.35 -401.95)">
<path class="r2" d="M550 366.5Q595.4 401.9 538.4 410.2"/>
<path class="r2" d="M550 366.5Q595.4 401.9 545.6 430.7"/>
<path class="r2" d="M551.5 364.7Q595.4 401.9 545.6 430.7"/>
<path class="r2" d="M551.5 364.7Q595.4 401.9 543.8 427.4"/>
<path class="r2" d="M553.1 362.9Q595.4 401.9 543.9 427.6"/>
<path class="r2" d="M553.1 362.9Q595.4 401.9 541 420.7"/>
<path class="r2" d="M554.8 361.2Q595.4 401.9 538 406.5"/>
<path class="r2" d="M554.8 361.2Q595.4 401.9 542.4 424.3"/>
<path class="r2" d="M556.5 359.6Q595.4 401.9 545.5 430.6"/>
<path class="r2" d="M556.5 359.6Q595.4 401.9 545.5 430.6"/>
<path class="r2" d="M558.3 358Q595.4 401.9 538.4 410.1"/>
<path class="r2" d="M558.3 358Q595.4 401.9 539.1 414"/>
<path class="r2" d="M560.1 356.5Q595.4 401.9 539.1 413.7"/>
<path class="r2" d="M560.1 356.5Q595.4 401.9 540 417.4"/>
<path class="r2" d="M562 355.1Q595.4 401.9 538 406.6"/>
<path class="r2" d="M562 355.1Q595.4 401.9 545.6 430.7"/>
<path class="r2" d="M564 353.7Q595.4 401.9 541 420.8"/>
<path class="r2" d="M564 353.7Q595.4 401.9 541.1 420.9"/>
<path class="r2" d="M566 352.5Q595.4 401.9 538 406.6"/>
<path class="r2" d="M566 352.5Q595.4 401.9 539.1 413.8"/>
<path class="r2" d="M568.1 351.3Q595.4 401.9 542.3 424.2"/>
<path class="r2" d="M568.1 351.3Q595.4 401.9 539.9 417.3"/>
<path class="r2" d="M570.2 350.2Q595.4 401.9 541 420.7"/>
<path class="r2" d="M570.2 350.2Q595.4 401.9 539.1 413.7"/>
<path class="r2" d="M572.4 349.2Q595.4 401.9 539.1 413.6"/>
<path class="r2" d="M572.4 349.2Q595.4 401.9 541 420.8"/>
<path class="r2" d="M574.6 348.3Q595.4 401.9 541 420.7"/>
<path class="r2" d="M574.6 348.3Q595.4 401.9 539.1 414"/>
<path class="r2" d="M576.8 347.5Q595.4 401.9 541 420.8"/>
<path class="r2" d="M576.8 347.5Q595.4 401.9 539.9 417.3"/>
<path class="r2" d="M579.1 346.8Q595.4 401.9 543.8 427.4"/>
<path class="r2" d="M579.1 346.8Q595.4 401.9 545.6 430.7"/>
<path class="r2" d="M581.4 346.2Q595.4 401.9 542.4 424.4"/>
<path class="r2" d="M581.4 346.2Q595.4 401.9 542.3 424.2"/>
<path class="r2" d="M583.7 345.6Q595.4 401.9 538.5 410.3"/>
<path class="r2" d="M583.7 345.6Q595.4 401.9 538 406.6"/>
<path class="r2" d="M586.1 345.2Q595.4 401.9 540 417.5"/>
<path class="r2" d="M586.1 345.2Q595.4 401.9 542.3 424"/>
<path class="r2" d="M588.4 344.9Q595.4 401.9 540 417.4"/>
<path class="r2" d="M588.4 344.9Q595.4 401.9 543.8 427.3"/>
<path class="r2" d="M590.8 344.6Q595.4 401.9 541 420.8"/>
<path class="r2" d="M590.8 344.6Q595.4 401.9 539.1 414"/>
<path class="r2" d="M593.2 344.5Q595.4 401.9 542.4 424.3"/>
<path class="r2" d="M593.2 344.5Q595.4 401.9 541.1 420.9"/>
<path class="r2" d="M595.6 344.5Q595.4 401.9 540 417.5"/>
<path class="r2" d="M595.6 344.5Q595.4 401.9 541 420.8"/>
<path class="r2" d="M597.9 344.5Q595.4 401.9 542.3 424.2"/>
<path class="r2" d="M597.9 344.5Q595.4 401.9 545.5 430.6"/>
<path class="r2" d="M600.3 344.7Q595.4 401.9 538.5 410.4"/>
<path class="r2" d="M600.3 344.7Q595.4 401.9 545.6 430.8"/>
<path class="r2" d="M602.7 344.9Q595.4 401.9 539.1 413.8"/>
<path class="r2" d="M602.7 344.9Q595.4 401.9 542.3 424"/>
<path class="r2" d="M605 345.3Q595.4 401.9 539.1 414"/>
<path class="r2" d="M605 345.3Q595.4 401.9 538 406.6"/>
<path class="r2" d="M607.4 345.7Q595.4 401.9 538 406.6"/>
<path class="r2" d="M607.4 345.7Q595.4 401.9 545.6 430.8"/>
<path class="r2" d="M609.7 346.3Q595.4 401.9 539.1 413.7"/>
<path class="r2" d="M609.7 346.3Q595.4 401.9 541 420.6"/>
<path class="r2" d="M612 346.9Q595.4 401.9 540 417.5"/>
<path class="r2" d="M612 346.9Q595.4 401.9 541 420.7"/>
<path class="r2" d="M614.2 347.6Q595.4 401.9 543.8 427.4"/>
<path class="r2" d="M614.2 347.6Q595.4 401.9 540 417.5"/>
<path class="r2" d="M616.5 348.5Q595.4 401.9 545.6 430.8"/>
<path class="r2" d="M616.5 348.5Q595.4 401.9 541.1 420.9"/>
<path class="r2" d="M618.7 349.4Q595.4 401.9 545.5 430.6"/>
<path class="r2" d="M618.7 349.4Q595.4 401.9 539.1 413.9"/>
<path class="r2" d="M620.8 350.4Q595.4 401.9 538.4 410.1"/>
<path class="r2" d="M620.8 350.4Q595.4 401.9 543.8 427.4"/>
<path class="r2" d="M622.9 351.5Q595.4 401.9 542.3 424.2"/>
<path class="r2" d="M622.9 351.5Q595.4 401.9 539.1 413.9"/>
<path class="r2" d="M625 352.7Q595.4 401.9 539.9 417.3"/>
<path class="r2" d="M625 352.7Q595.4 401.9 541 420.8"/>
<path class="r2" d="M627 354Q595.4 401.9 543.9 427.6"/>
<path class="r2" d="M627 354Q595.4 401.9 545.6 430.7"/>
<path class="r2" d="M629 355.3Q595.4 401.9 542.3 424.2"/>
<path class="r2" d="M629 355.3Q595.4 401.9 542.4 424.3"/>
<path class="r2" d="M630.9 356.7Q595.4 401.9 542.4 424.3"/>
<path class="r2" d="M630.9 356.7Q595.4 401.9 540 417.4"/>
<path class="r2" d="M632.7 358.3Q595.4 401.9 541 420.6"/>
<path class="r2" d="M632.7 358.3Q595.4 401.9 545.5 430.6"/>
<path class="r2" d="M634.5 359.8Q595.4 401.9 543.9 427.6"/>
<path class="r2" d="M634.5 359.8Q595.4 401.9 538.7 392.4"/>
<path class="r2" d="M636.2 361.5Q595.4 401.9 542.3 424.2"/>
<path class="r2" d="M636.2 361.5Q595.4 401.9 539.9 417.2"/>
<path class="r2" d="M637.9 363.2Q595.4 401.9 538 406.7"/>
<path class="r2" d="M637.9 363.2Q595.4 401.9 543.9 427.6"/>
<path class="r2" d="M639.4 365Q595.4 401.9 541 420.6"/>
<path class="r2" d="M639.4 365Q595.4 401.9 538.1 406.8"/>
<path class="r2" d="M640.9 366.9Q595.4 401.9 542.4 424.4"/>
<path class="r2" d="M640.9 366.9Q595.4 401.9 538.2 395.6"/>
<path class="r2" d="M642.3 368.8Q595.4 401.9 540 417.4"/>
<path class="r2" d="M642.3 368.8Q595.4 401.9 538.5 410.4"/>
<path class="r2" d="M643.7 370.8Q595.4 401.9 539.1 413.9"/>
<path class="r2" d="M643.7 370.8Q595.4 401.9 539.4 388.8"/>
<path class="r2" d="M644.9 372.8Q595.4 401.9 538.2 395.8"/>
<path class="r2" d="M644.9 372.8Q595.4 401.9 538.2 395.9"/>
<path class="r2" d="M646.1 374.9Q595.4 401.9 540.4 385"/>
<path class="r2" d="M646.1 374.9Q595.4 401.9 538.7 392.2"/>
<path class="r2" d="M647.1 377Q595.4 401.9 538.2 396"/>
<path class="r2" d="M647.1 377Q595.4 401.9 541 420.8"/>
<path class="r2" d="M648.1 379.2Q595.4 401.9 537.9 403"/>
<path class="r2" d="M648.1 379.2Q595.4 401.9 539.1 413.9"/>
<path class="r2" d="M649 381.4Q595.4 401.9 538.2 395.9"/>
<path class="r2" d="M649 381.4Q595.4 401.9 540 417.4"/>
<path class="r2" d="M649.8 383.6Q595.4 401.9 542.4 424.3"/>
<path class="r2" d="M649.8 383.6Q595.4 401.9 537.9 399.4"/>
<path class="r2" d="M650.6 385.9Q595.4 401.9 539.4 388.6"/>
<path class="r2" d="M650.6 385.9Q595.4 401.9 537.9 399.3"/>
<path class="r2" d="M651.2 388.2Q595.4 401.9 539.4 388.8"/>
<path class="r2" d="M651.2 388.2Q595.4 401.9 539.4 388.7"/>
<path class="r2" d="M651.7 390.5Q595.4 401.9 539.1 413.7"/>
<path class="r2" d="M651.7 390.5Q595.4 401.9 540.4 385.1"/>
<path class="r2" d="M652.1 392.8Q595.4 401.9 540 417.4"/>
<path class="r2" d="M652.1 392.8Q595.4 401.9 539.1 413.7"/>
<path class="r2" d="M652.5 395.2Q595.4 401.9 542.3 424.1"/>
<path class="r2" d="M652.5 395.2Q595.4 401.9 543.8 427.4"/>
<path class="r2" d="M652.7 397.6Q595.4 401.9 538.2 396"/>
<path class="r2" d="M652.7 397.6Q595.4 401.9 539.4 388.7"/>
<path class="r2" d="M652.8 399.9Q595.4 401.9 540 417.5"/>
<path class="r2" d="M652.8 399.9Q595.4 401.9 538 406.6"/>
<path class="r2" d="M575.7 347.9Q595.4 401.9 542.2 379.9"/>
<path class="r2" d="M539.1 413.9Q595.4 401.9 599.4 459.3"/>
<path class="r2" d="M538.3 409.3Q595.4 401.9 608.6 457.9"/>
<path class="r2" d="M537.9 404.6Q595.4 401.9 617.5 455"/>
<path class="r2" d="M537.9 399.9Q595.4 401.9 625.8 450.7"/>
<path class="r2" d="M538.2 395.3Q595.4 401.9 633.3 445.1"/>
<path class="r2" d="M539 390.7Q595.4 401.9 639.8 438.4"/>
<path class="r2" d="M540.1 386.1Q595.4 401.9 645.1 430.7"/>
<path class="r2" d="M593.3 344.5Q595.4 401.9 609.3 457.7"/>
<path class="r2" d="M601.9 344.8Q595.4 401.9 618.3 454.7"/>
<path class="r2" d="M610.2 346.4Q595.4 401.9 626.7 450.2"/>
<path d="M541.4 439.7A65.8 65.8 0 0 1 542.5 362.8" stroke="#8f6ae6" stroke-width="3.3" fill="none"/>
<path d="M542.5 362.8A65.8 65.8 0 0 1 615.7 339.4" stroke="#5f1a6c" stroke-width="3.3" fill="none"/>
<path d="M615.7 339.4A65.8 65.8 0 0 1 661.1 401.9" stroke="#d477af" stroke-width="3.3" fill="none"/>
<path d="M661.1 401.9A65.8 65.8 0 0 1 615.7 464.5" stroke="#1414f0" stroke-width="3.3" fill="none"/>
<path d="M615.7 464.5A65.8 65.8 0 0 1 541.4 439.7" stroke="#d68b2a" stroke-width="3.3" fill="none"/>
<line x1="600.2" y1="343.1" x2="601.2" y2="331.2" stroke="#111" stroke-width="0.75"/>
<line x1="629.9" y1="354.1" x2="636.9" y2="344.4" stroke="#111" stroke-width="0.75"/>
<line x1="640.5" y1="363.9" x2="649.7" y2="356.2" stroke="#111" stroke-width="0.75"/>
<line x1="647" y1="373.3" x2="657.4" y2="367.5" stroke="#111" stroke-width="0.75"/>
<line x1="646.2" y1="431.9" x2="656.5" y2="438" stroke="#111" stroke-width="0.75"/>
<line x1="640.5" y1="439.9" x2="649.7" y2="447.6" stroke="#111" stroke-width="0.75"/>
<line x1="627.4" y1="451.5" x2="633.9" y2="461.6" stroke="#111" stroke-width="0.75"/>
<line x1="618.4" y1="456.3" x2="623.1" y2="467.3" stroke="#111" stroke-width="0.75"/>
<line x1="609.7" y1="459.2" x2="612.6" y2="470.8" stroke="#111" stroke-width="0.75"/>
<line x1="600.5" y1="460.7" x2="601.5" y2="472.7" stroke="#111" stroke-width="0.75"/>
<line x1="545.2" y1="433" x2="535" y2="439.4" stroke="#111" stroke-width="0.75"/>
<line x1="542.3" y1="427.8" x2="531.5" y2="433.1" stroke="#111" stroke-width="0.75"/>
<text transform="translate(639.1,341.3) rotate(-54.2)" font-size="8.4" fill="#e567b4" stroke="#e567b4" stroke-width="0.18" text-anchor="start" dy="2.8">R968</text>
<text transform="translate(652.6,353.8) rotate(-40.1)" font-size="8.4" fill="#e567b4" stroke="#e567b4" stroke-width="0.18" text-anchor="start" dy="2.8">R964</text>
<text transform="translate(660.8,365.7) rotate(-29)" font-size="8.4" fill="#e567b4" stroke="#e567b4" stroke-width="0.18" text-anchor="start" dy="2.8">E961</text>
<text transform="translate(659.8,439.9) rotate(30.5)" font-size="8.4" fill="#2348f2" stroke="#2348f2" stroke-width="0.18" text-anchor="start" dy="2.8">-dT-4</text>
<text transform="translate(652.7,450) rotate(40)" font-size="8.4" fill="#2348f2" stroke="#2348f2" stroke-width="0.18" text-anchor="start" dy="2.8">-dC-5</text>
<text transform="translate(636,464.8) rotate(57.1)" font-size="8.4" fill="#2348f2" stroke="#2348f2" stroke-width="0.18" text-anchor="start" dy="2.8">dG-7</text>
<text transform="translate(624.6,470.8) rotate(67)" font-size="8.4" fill="#2348f2" stroke="#2348f2" stroke-width="0.18" text-anchor="start" dy="2.8">dT-8</text>
<text transform="translate(613.6,474.5) rotate(75.9)" font-size="8.4" fill="#e6a51c" stroke="#e6a51c" stroke-width="0.18" text-anchor="start" dy="2.8">A8</text>
<text transform="translate(601.9,476.5) rotate(85)" font-size="8.4" fill="#e6a51c" stroke="#e6a51c" stroke-width="0.18" text-anchor="start" dy="2.8">U6</text>
<text transform="translate(531.8,441.4) rotate(-31.8)" font-size="8.4" fill="#8d6be8" stroke="#8d6be8" stroke-width="0.18" text-anchor="end" dy="2.8">K1021</text>
<text transform="translate(528.1,434.7) rotate(-26)" font-size="8.4" fill="#8d6be8" stroke="#8d6be8" stroke-width="0.18" text-anchor="end" dy="2.8">E1020</text>
</g>
<text transform="translate(578.5,503.8) scale(0.95,1)" font-size="8.8">Cas12a<tspan font-size="5.7" dy="-3.5">WT</tspan><tspan dy="3.5">-I4</tspan></text>
<text x="601.6" y="326.7" font-size="7.8" fill="#7b3f98" stroke="#7b3f98" stroke-width="0.15" text-anchor="middle">K981</text>
<text x="556.9" y="334.2" font-size="7.7" fill="#7b3f98" stroke="#7b3f98" stroke-width="0.15">H1</text>
<text x="518.6" y="369" font-size="7.9" fill="#a48cf0" stroke="#a48cf0" stroke-width="0.15">Lid</text>
<text x="666.4" y="386.6" font-size="7.9" fill="#e567b4" stroke="#e567b4" stroke-width="0.15">BHß</text>
<text x="662.8" y="428.1" font-size="8.1" fill="#2323e8" stroke="#2323e8" stroke-width="0.15">DNA</text>
<text x="533.8" y="468.9" font-size="8.1" fill="#d99a35" stroke="#d99a35" stroke-width="0.15">RNA</text>
<defs><linearGradient id="cb" x1="0" x2="1" y1="0" y2="0"><stop offset="0" stop-color="#16706c"/><stop offset="0.5" stop-color="#ffffff"/><stop offset="1" stop-color="#b3262e"/></linearGradient></defs>
<rect x="309.4" y="539.2" width="89" height="9.5" fill="url(#cb)"/>
<text x="308.6" y="535.8" font-size="8.3" text-anchor="middle">-1</text>
<text x="331.6" y="535.8" font-size="8.3" text-anchor="middle">-0.5</text>
<text x="355.4" y="535.8" font-size="8.3" text-anchor="middle">0</text>
<text x="375.8" y="535.8" font-size="8.3" text-anchor="middle">0.5</text>
<text x="395.5" y="535.8" font-size="8.3" text-anchor="middle">1</text>
<text x="344.3" y="559" font-size="8.45" text-anchor="middle">Correlation scale</text>
</svg></body></html>
